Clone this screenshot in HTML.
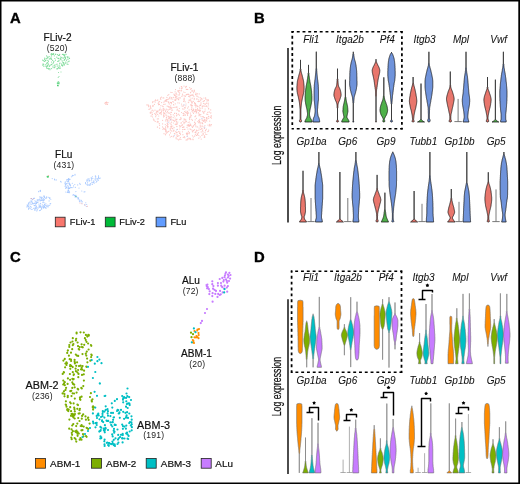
<!DOCTYPE html><html><head><meta charset="utf-8"><style>html,body{margin:0;padding:0;background:#fff;}svg{display:block;font-family:"Liberation Sans", sans-serif;will-change:transform;}</style></head><body>
<svg width="520" height="484" viewBox="0 0 520 484">
<rect x="0" y="0" width="520" height="484" fill="#fff"/>
<text transform="translate(10.00,22.70) scale(0.97,1)" font-size="15.3" font-weight="bold" fill="#000" stroke="#000" stroke-width="0.35">A</text>
<text transform="translate(254.00,22.70) scale(0.97,1)" font-size="15.3" font-weight="bold" fill="#000" stroke="#000" stroke-width="0.35">B</text>
<text transform="translate(10.00,262.00) scale(0.97,1)" font-size="15.3" font-weight="bold" fill="#000" stroke="#000" stroke-width="0.35">C</text>
<text transform="translate(254.00,262.00) scale(0.97,1)" font-size="15.3" font-weight="bold" fill="#000" stroke="#000" stroke-width="0.35">D</text>
<path d="M187.3 134.7h0M197.2 96.6h0M166.1 133.3h0M198.5 110.3h0M166.3 99.6h0M163.1 109.0h0M179.4 115.2h0M187.1 139.9h0M186.5 86.3h0M176.9 135.8h0M187.6 113.0h0M178.9 97.8h0M191.7 95.2h0M164.0 133.7h0M179.8 131.8h0M188.3 125.9h0M152.5 114.5h0M179.7 133.2h0M170.1 117.7h0M150.4 105.8h0M199.8 105.3h0M210.4 117.3h0M186.0 120.0h0M190.7 92.3h0M175.3 97.4h0M190.4 100.8h0M203.6 121.3h0M183.7 92.0h0M182.6 94.0h0M204.2 120.2h0M183.7 105.1h0M173.3 97.4h0M177.0 114.9h0M167.5 126.4h0M148.1 104.9h0M209.7 121.1h0M174.5 113.5h0M203.5 103.3h0M185.0 122.6h0M169.7 113.2h0M196.5 135.4h0M173.9 130.0h0M198.3 112.9h0M193.9 96.6h0M159.5 104.4h0M158.2 103.4h0M208.4 116.3h0M168.7 99.2h0M208.7 109.0h0M210.5 113.0h0M180.5 134.6h0M195.0 116.7h0M174.4 133.6h0M173.4 136.1h0M151.0 108.2h0M180.4 137.7h0M162.9 129.5h0M190.7 124.5h0M187.6 138.9h0M168.2 106.4h0M185.9 111.0h0M185.3 121.2h0M176.9 119.4h0M188.0 94.2h0M150.5 107.1h0M196.4 130.0h0M194.2 90.2h0M206.1 129.3h0M203.8 113.5h0M163.0 97.9h0M158.7 116.0h0M157.3 122.2h0M207.8 114.3h0M199.5 121.1h0M186.4 94.6h0M184.0 86.1h0M198.8 138.2h0M168.6 101.8h0M153.9 119.3h0M198.6 101.6h0M202.8 129.0h0M184.0 120.0h0M186.3 89.3h0M189.7 119.6h0M200.3 129.4h0M167.9 124.7h0M203.1 134.4h0M189.0 96.0h0M183.3 137.4h0M171.3 98.1h0M176.3 121.1h0M153.1 105.4h0M155.2 121.4h0M200.7 105.2h0M170.8 114.4h0M160.5 97.8h0M168.0 109.7h0M184.3 100.8h0M205.7 99.1h0M166.5 131.0h0M187.0 94.4h0M174.9 133.9h0M171.0 124.1h0M197.2 130.6h0M190.5 104.8h0M150.7 113.2h0M196.0 94.6h0M163.9 114.2h0M195.4 134.6h0M198.7 120.3h0M207.8 131.6h0M197.2 106.2h0M188.4 94.3h0M196.1 126.8h0M193.6 109.0h0M171.2 107.6h0M181.9 105.8h0M182.3 124.7h0M171.4 130.9h0M206.5 105.8h0M193.0 130.6h0M184.0 109.1h0M195.5 94.6h0M167.0 101.5h0M193.5 109.6h0M204.5 135.8h0M162.6 106.1h0M202.7 111.3h0M158.5 121.8h0M163.9 113.7h0M165.0 113.1h0M187.5 114.2h0M172.3 128.6h0M160.1 112.5h0M179.0 135.7h0M185.7 87.6h0M161.9 110.2h0M204.0 126.9h0M200.6 127.0h0M192.7 132.0h0M191.0 125.5h0M195.9 93.2h0M206.5 117.6h0M156.6 113.0h0M184.1 129.4h0M164.9 129.3h0M192.4 120.3h0M208.6 108.4h0M173.6 123.0h0M201.0 102.8h0M190.2 95.7h0M182.5 127.4h0M177.1 107.0h0M193.5 113.5h0M183.3 115.4h0M176.1 119.6h0M182.5 88.0h0M185.2 96.4h0M159.4 109.6h0M195.5 123.9h0M182.6 129.6h0M176.9 119.0h0M200.0 122.2h0M188.4 106.8h0M183.0 106.3h0M195.1 105.4h0M177.0 126.6h0M179.4 103.0h0M200.5 105.4h0M201.7 128.3h0M175.7 124.2h0M148.7 105.9h0M202.7 116.7h0M182.9 121.5h0M190.8 116.9h0M174.0 94.2h0M165.6 100.4h0M169.5 109.2h0M170.8 116.8h0M171.1 98.9h0M204.3 111.8h0M203.1 101.5h0M178.8 95.0h0M173.9 130.8h0M200.5 110.7h0M196.6 109.8h0M170.9 114.8h0M159.6 101.7h0M192.6 127.5h0M199.9 109.0h0M162.6 120.3h0M171.1 119.9h0M163.4 110.8h0M180.8 119.6h0M165.4 101.2h0M174.1 127.6h0M192.8 94.9h0M155.4 102.0h0M196.7 111.5h0M206.8 121.0h0M187.0 127.3h0M195.5 103.3h0M163.3 108.6h0M178.4 91.8h0M175.3 120.1h0M157.8 99.9h0M176.4 93.0h0M164.1 128.7h0M158.5 118.8h0M173.0 107.5h0M206.8 134.5h0M189.8 117.8h0M196.9 95.9h0M154.0 101.7h0M186.5 121.6h0M190.8 116.1h0M208.7 118.3h0M168.4 112.9h0M191.8 107.7h0M202.1 126.6h0M166.3 109.2h0M207.1 99.6h0M205.2 122.4h0M202.2 106.7h0M198.7 122.7h0M160.4 99.0h0M192.4 91.1h0M182.4 131.8h0M196.4 118.3h0M166.9 119.5h0M176.2 132.7h0M165.6 126.8h0M188.0 125.8h0M171.2 124.9h0M192.1 105.8h0M193.1 95.4h0M194.2 99.6h0M177.1 132.6h0M175.8 100.1h0M160.8 99.2h0M176.9 96.0h0M194.7 136.1h0M164.3 116.2h0M179.6 88.1h0M177.5 129.4h0M203.0 133.0h0M170.6 126.9h0M199.6 110.4h0M176.1 138.7h0M172.1 92.5h0M151.8 116.0h0M208.8 116.7h0M188.8 102.1h0M183.8 126.5h0M185.0 129.3h0M182.4 95.0h0M184.6 111.6h0M157.3 118.9h0M182.1 125.4h0M172.8 99.1h0M170.8 114.5h0M191.3 115.5h0M201.9 135.4h0M159.1 110.4h0M157.7 111.4h0M180.7 126.1h0M175.1 91.8h0M199.3 101.4h0M176.3 121.3h0M179.7 93.2h0M155.6 99.9h0M155.0 110.2h0M169.8 117.1h0M168.1 126.6h0M163.2 106.7h0M195.8 106.9h0M204.4 135.9h0M166.8 125.5h0M175.1 118.0h0M193.0 110.8h0M191.9 91.1h0M152.6 102.6h0M206.5 118.5h0M150.9 116.0h0M176.5 115.8h0M194.6 122.3h0M199.6 107.1h0M197.6 134.4h0M176.1 137.3h0M208.3 104.9h0M207.9 106.8h0M171.0 126.7h0M177.3 109.2h0M171.7 108.3h0M195.7 115.8h0M190.4 129.3h0M161.5 97.1h0M164.6 101.0h0M196.2 105.0h0M167.6 119.9h0M192.0 126.7h0M165.9 119.9h0M148.7 106.7h0M184.2 98.2h0M169.2 118.4h0M185.0 92.5h0M186.0 140.0h0M180.5 117.9h0M192.4 102.8h0M174.9 95.4h0M205.1 119.9h0M152.6 101.8h0M187.8 89.5h0M168.4 102.7h0M190.7 114.8h0M186.8 89.5h0M163.5 116.9h0M208.7 130.1h0M188.3 113.2h0M191.8 129.8h0M197.9 109.5h0M172.8 101.5h0M175.4 95.1h0M193.0 112.3h0M203.2 134.6h0M167.2 99.7h0M207.8 112.4h0M211.2 116.6h0M150.1 112.8h0M179.4 108.5h0M173.1 131.1h0M187.2 125.2h0M184.1 95.7h0M192.1 94.8h0M177.3 139.1h0M181.7 87.0h0M174.5 121.2h0M171.4 112.4h0M165.8 121.0h0M209.2 111.8h0M176.9 132.5h0M165.4 129.3h0M165.3 124.6h0M168.3 118.0h0M199.2 114.5h0M171.3 103.7h0M187.2 89.3h0M190.2 138.4h0M199.2 93.9h0M203.2 133.6h0M187.1 113.4h0M159.6 113.3h0M184.6 107.7h0M174.5 95.5h0M189.9 100.2h0M172.6 110.1h0M205.6 97.8h0M193.4 101.3h0M204.9 106.1h0M179.5 133.5h0M190.4 89.2h0M152.1 110.6h0M185.2 101.8h0M199.0 115.7h0M155.5 114.5h0M187.6 108.1h0M202.9 105.9h0M179.9 90.3h0M183.3 127.3h0M194.3 98.4h0M211.3 124.6h0M174.2 107.3h0M197.4 93.8h0M188.3 124.6h0M180.2 133.3h0M177.1 110.2h0M167.2 123.2h0M173.2 136.8h0M211.4 118.1h0M151.3 112.0h0M158.6 104.7h0M166.4 117.9h0M200.2 136.9h0M168.0 116.1h0M146.9 104.9h0M203.3 120.8h0M165.7 127.9h0M165.4 134.5h0M195.5 109.3h0M156.1 112.9h0M165.9 114.9h0M195.1 132.4h0M210.7 109.9h0M203.5 116.8h0M204.5 128.4h0M193.2 95.0h0M163.9 102.2h0M185.1 119.4h0M159.1 104.3h0M199.9 115.0h0M179.9 126.9h0M189.3 100.2h0M152.2 110.0h0M204.0 117.7h0M150.0 108.8h0M171.6 116.8h0M184.8 137.7h0M168.6 106.9h0M186.6 134.1h0M192.6 110.5h0M199.7 111.3h0M165.9 131.8h0M186.3 112.7h0M203.8 101.0h0M177.8 90.9h0M179.1 97.8h0M173.1 120.1h0M206.3 129.2h0M157.0 110.9h0M178.6 139.9h0M152.2 112.8h0M206.2 106.4h0M163.6 115.3h0M165.6 134.8h0M204.9 136.9h0M192.4 135.8h0M209.7 124.4h0M202.9 131.5h0M194.0 91.6h0M183.1 113.4h0M208.4 99.9h0M170.3 102.4h0M204.6 117.7h0M190.4 125.4h0M179.4 125.6h0M189.4 118.8h0M181.3 86.6h0M173.3 114.8h0M193.4 137.0h0M194.6 103.5h0M197.1 93.8h0M176.5 113.4h0M186.6 139.9h0M191.4 106.0h0M193.2 110.3h0M173.5 104.5h0M178.7 99.7h0M175.2 100.4h0M201.2 131.9h0M169.0 118.9h0M205.4 104.2h0M182.7 108.9h0M189.0 138.2h0M190.0 128.9h0M188.0 133.1h0M167.8 123.9h0M163.7 112.6h0M191.0 95.2h0M199.3 121.5h0M167.5 121.1h0M184.1 118.8h0M175.7 96.6h0M193.9 110.1h0M195.2 104.4h0M152.2 114.6h0M187.2 136.1h0M196.9 98.6h0M192.0 105.3h0M167.5 111.5h0M181.1 123.2h0M188.2 122.3h0M171.6 122.2h0M169.1 118.2h0M176.5 115.7h0M160.9 105.7h0M204.8 103.9h0M153.4 119.0h0M154.5 104.3h0M178.8 90.5h0M167.3 99.4h0M193.1 139.7h0M170.2 128.6h0M155.7 116.7h0M174.8 100.1h0M200.2 126.1h0M155.2 100.4h0M186.4 133.2h0M210.8 125.8h0M188.6 96.3h0M170.7 119.2h0M207.0 100.9h0M192.0 109.0h0M198.6 97.0h0M189.6 122.0h0M176.8 94.5h0M172.8 126.0h0M176.7 97.1h0M198.8 130.1h0M208.2 131.4h0M188.8 94.4h0M200.2 125.1h0M195.3 123.3h0M200.7 100.7h0M190.4 113.1h0M168.6 102.3h0M156.7 111.7h0M170.6 107.7h0M202.1 122.4h0M190.9 139.6h0M160.7 112.6h0M152.5 106.1h0M196.0 132.9h0M179.7 129.0h0M175.3 103.8h0M179.5 94.8h0M166.6 101.1h0M202.2 120.5h0M174.4 95.0h0M169.3 106.9h0M206.8 114.2h0M211.2 124.7h0M156.1 115.2h0M208.1 103.0h0M189.1 109.9h0M163.3 128.1h0M178.4 114.2h0M176.4 122.1h0M151.0 111.9h0M209.2 126.0h0M202.2 123.4h0M167.1 106.0h0M175.3 100.4h0M174.0 127.5h0M177.8 122.1h0M188.7 124.9h0M166.7 99.8h0M165.9 129.3h0M206.9 117.5h0M169.3 103.9h0M187.9 132.8h0M168.8 94.6h0M202.1 119.2h0M170.4 128.9h0M189.7 87.6h0M172.7 120.0h0M191.4 109.4h0M177.0 124.5h0M181.4 88.4h0M173.6 102.0h0M170.2 130.1h0M199.2 114.1h0M175.2 99.0h0M181.9 96.4h0M202.6 130.5h0M204.5 100.7h0M189.4 132.5h0M198.6 132.7h0M178.4 131.6h0M176.6 98.8h0M177.9 102.8h0M196.6 131.0h0M171.6 110.1h0M209.6 125.2h0M190.7 99.1h0M200.9 99.5h0M167.6 124.8h0M205.0 132.3h0M187.6 115.5h0M196.2 112.9h0M171.3 102.6h0M150.5 106.8h0M175.8 100.1h0M171.6 102.6h0M171.1 118.9h0M179.0 95.0h0M198.4 112.9h0M176.4 124.2h0M195.6 131.9h0M199.5 121.7h0M193.6 92.7h0M192.2 98.2h0M189.4 126.2h0M188.4 131.3h0M164.0 110.0h0M157.7 114.4h0M169.0 120.9h0M181.2 122.7h0M162.6 123.9h0M194.5 124.7h0M184.2 99.2h0M174.8 113.1h0M180.3 97.9h0M163.8 104.4h0M197.5 108.6h0M149.0 109.4h0M181.6 104.1h0M173.8 105.0h0M157.4 121.3h0M197.6 126.9h0M161.5 113.0h0M192.4 105.7h0M175.8 131.5h0M173.7 120.6h0M159.3 123.7h0M159.6 125.3h0M201.3 98.3h0M152.6 117.0h0M179.1 111.0h0M197.5 110.1h0M179.0 111.4h0M176.2 106.8h0M157.0 100.5h0M163.8 97.9h0M159.9 113.6h0M166.9 97.4h0M170.9 112.3h0M190.5 138.9h0M202.2 108.2h0M176.0 107.4h0M189.7 117.2h0M173.2 117.6h0M153.2 106.1h0M204.3 137.4h0M205.5 130.7h0M167.8 95.3h0M191.4 104.8h0M201.5 129.0h0M167.8 131.8h0M207.2 118.9h0M169.5 134.9h0M208.1 103.5h0M189.9 97.0h0M183.5 101.3h0M206.5 103.2h0M160.8 109.8h0M165.8 130.4h0M185.2 115.3h0M191.8 101.2h0M171.6 97.5h0M205.6 134.1h0M170.0 123.1h0M178.5 99.7h0M168.8 116.6h0M208.2 100.7h0M194.4 129.5h0M201.2 139.1h0M192.9 139.2h0M164.7 113.4h0M175.2 124.6h0M165.6 131.0h0M204.9 125.6h0M168.2 110.0h0M201.0 104.1h0M199.1 128.1h0M177.1 134.6h0M171.6 126.3h0M188.3 102.6h0M181.2 118.2h0M181.6 90.1h0M181.2 90.9h0M200.1 108.3h0M193.1 130.7h0M181.6 86.6h0M200.2 123.2h0M205.9 99.1h0M197.8 133.3h0M169.7 107.1h0M161.6 102.6h0M174.4 116.0h0M165.1 104.2h0M195.7 110.4h0M185.5 107.8h0M182.9 134.7h0M164.0 113.2h0M191.4 88.7h0M209.3 112.1h0M162.5 126.9h0M199.8 119.6h0M181.0 125.9h0M206.4 120.2h0M185.8 105.8h0M183.8 115.3h0M205.6 130.7h0M194.6 136.2h0M176.8 126.4h0M165.8 110.3h0M165.5 111.5h0M202.1 99.1h0M200.2 97.7h0M166.3 115.2h0M189.2 133.7h0M203.9 98.0h0M195.2 119.8h0M171.7 127.8h0M205.1 111.0h0M157.4 127.1h0M166.5 117.0h0M179.0 92.1h0M195.8 125.8h0M198.8 135.5h0M203.3 112.3h0M170.5 109.0h0M158.0 111.9h0M177.2 123.3h0M189.0 139.1h0M204.3 119.7h0M205.1 109.0h0M198.7 99.9h0M180.9 139.4h0M185.6 112.5h0M197.9 101.5h0M184.0 123.7h0M197.0 105.5h0M161.6 111.7h0M208.0 125.1h0M183.3 113.4h0M191.8 119.3h0M159.6 128.2h0M187.9 129.0h0M171.5 136.3h0M185.3 114.8h0M199.9 119.3h0M190.5 92.7h0M186.0 104.0h0M177.8 98.7h0M166.9 112.7h0M172.8 128.6h0M211.2 115.5h0M170.0 97.1h0M158.4 102.1h0M197.8 121.6h0M194.5 122.0h0M167.0 132.6h0M160.2 108.0h0M154.0 120.4h0M196.5 112.2h0M189.7 125.4h0M186.1 95.0h0M192.1 90.4h0M164.1 109.2h0M189.1 125.9h0M170.7 105.9h0M160.1 113.4h0M184.4 136.7h0M193.9 130.6h0M189.0 100.2h0M187.2 133.5h0M153.5 111.0h0M195.2 123.0h0M154.7 113.6h0M191.5 102.8h0M179.4 139.1h0M188.0 112.3h0M202.1 125.9h0M201.0 116.6h0M184.1 113.9h0M194.5 102.5h0M178.9 110.4h0M189.7 96.1h0M193.3 126.3h0M175.5 89.6h0M176.9 132.7h0M179.7 119.6h0M170.9 92.3h0M187.4 111.3h0M169.1 98.5h0M191.9 101.8h0M184.1 98.5h0M195.7 105.1h0M177.7 136.4h0M193.4 125.6h0M168.7 131.4h0M205.0 121.2h0M200.8 114.6h0M194.4 90.9h0M184.0 127.0h0M195.6 111.3h0M197.0 135.3h0M170.3 137.0h0M202.7 123.7h0M192.4 131.5h0M181.5 112.5h0M170.5 132.9h0M196.9 99.4h0M183.9 99.7h0M167.7 127.7h0M185.9 86.6h0M157.6 127.1h0M175.9 93.5h0M177.9 136.1h0M203.8 106.0h0M210.9 112.8h0M161.2 114.6h0M192.0 111.1h0M169.5 97.8h0M198.0 106.7h0M185.4 96.3h0M190.1 123.9h0M194.5 111.7h0M183.9 122.5h0" stroke="#f8766d" stroke-opacity="0.42" stroke-width="1.20" stroke-linecap="round" fill="none"/>
<path d="M204.8 127.3h0M168.2 122.4h0M170.6 119.9h0M174.3 135.7h0M176.4 129.9h0M184.1 104.9h0M201.9 118.4h0M187.1 136.4h0" stroke="#619cff" stroke-opacity="0.50" stroke-width="1.00" stroke-linecap="round" fill="none"/>
<path d="M105.3 102.9h0M104.9 103.2h0M108.0 102.6h0M105.9 104.3h0M107.9 102.5h0M107.3 104.4h0M106.0 102.4h0M106.6 103.1h0M107.5 104.3h0M106.6 102.0h0" stroke="#f8766d" stroke-opacity="0.45" stroke-width="1.20" stroke-linecap="round" fill="none"/>
<path d="M54.1 65.3h0M50.0 69.7h0M51.6 59.5h0M48.0 57.6h0M60.8 59.6h0M62.1 60.8h0M51.6 55.8h0M48.5 68.9h0M54.8 58.5h0M48.2 68.4h0M61.6 65.2h0M64.4 57.2h0M62.4 54.3h0M60.6 58.7h0M60.5 57.0h0M52.0 64.8h0M68.1 59.0h0M63.6 55.0h0M53.5 62.2h0M43.9 61.0h0M63.7 62.6h0M58.0 58.4h0M46.6 55.9h0M59.9 66.6h0M50.1 58.9h0M47.6 62.6h0M54.3 55.8h0M63.4 58.1h0M53.0 63.3h0M67.5 57.3h0M53.8 54.1h0M64.5 64.9h0M55.4 60.2h0M49.5 66.5h0M55.7 54.2h0M44.9 58.4h0M47.3 65.7h0M59.1 60.0h0M63.8 64.2h0M48.4 61.6h0M61.8 63.9h0M57.2 66.0h0M43.1 63.9h0M54.2 67.7h0M52.7 60.4h0M57.3 69.0h0M58.8 58.4h0M60.5 58.8h0M57.5 54.7h0M57.8 61.4h0M60.0 63.0h0M58.0 66.0h0M45.9 66.2h0M59.4 65.1h0M53.2 54.5h0M69.1 61.1h0M57.4 68.8h0M64.7 54.8h0M45.9 60.2h0M56.9 64.5h0M57.8 68.4h0M64.3 54.8h0M51.6 68.6h0M59.5 55.2h0M65.9 54.1h0M60.0 68.1h0M49.9 65.4h0M49.2 56.6h0M51.4 58.2h0M68.8 57.1h0M53.9 61.6h0M59.1 68.1h0M45.8 64.6h0M47.0 68.3h0M58.6 55.4h0M65.7 62.2h0M55.6 54.4h0M67.2 62.0h0M66.1 54.3h0M61.0 59.6h0M57.0 64.0h0M46.8 68.1h0M50.5 58.0h0M63.5 62.9h0M52.9 66.9h0M68.0 64.3h0M60.2 68.2h0M64.9 56.1h0M51.5 62.0h0M45.3 60.5h0M52.0 54.5h0M58.8 60.9h0M46.6 66.9h0M53.5 53.5h0M66.5 60.2h0M44.7 58.1h0M51.3 56.0h0M48.1 64.9h0M47.1 58.2h0M46.8 63.5h0M55.2 66.8h0M64.0 64.2h0M64.4 59.7h0M62.8 62.2h0M62.6 66.0h0M43.2 60.5h0M58.5 67.5h0M43.8 64.8h0M51.7 53.7h0M51.4 64.3h0M51.3 54.1h0M67.2 56.5h0M65.2 58.9h0M50.2 65.1h0M67.9 59.2h0M64.1 60.5h0M44.8 61.4h0M42.7 60.1h0M49.3 58.9h0M61.7 57.3h0M62.9 65.3h0M56.8 57.2h0M47.9 60.4h0M49.8 68.6h0M55.1 64.9h0M67.0 63.9h0M46.6 58.6h0M48.3 63.9h0M62.4 65.4h0M52.5 54.1h0M59.7 54.3h0M64.2 55.3h0M46.8 63.2h0M42.7 65.1h0M65.5 58.2h0M43.9 66.3h0M56.8 68.8h0M59.7 63.5h0M47.8 56.9h0M54.3 67.0h0M62.1 57.9h0M47.7 66.2h0M52.1 54.2h0M51.0 54.2h0M69.5 58.4h0M65.6 57.3h0M68.7 61.6h0M65.2 63.5h0M63.3 54.3h0M44.6 59.3h0" stroke="#00ba38" stroke-opacity="0.50" stroke-width="1.20" stroke-linecap="round" fill="none"/>
<path d="M58.5 72.5h0M61.0 72.0h0M59.0 76.5h0M58.2 77.5h0" stroke="#00ba38" stroke-opacity="0.50" stroke-width="1.00" stroke-linecap="round" fill="none"/>
<path d="M58.4 83.6h0M59.2 82.3h0M58.3 83.3h0M58.6 83.7h0M58.0 82.4h0M59.2 83.8h0M58.4 81.8h0M58.1 81.7h0M58.0 83.3h0M57.6 82.9h0M57.2 83.1h0M59.1 83.6h0M59.2 83.7h0M57.8 83.9h0" stroke="#00ba38" stroke-opacity="0.60" stroke-width="1.10" stroke-linecap="round" fill="none"/>
<path d="M58.0 86.1h0M58.0 85.7h0M58.1 85.5h0M57.7 85.5h0M57.8 85.5h0" stroke="#00ba38" stroke-opacity="0.50" stroke-width="1.00" stroke-linecap="round" fill="none"/>
<path d="M32.2 209.2h0M41.0 198.8h0M43.6 205.9h0M40.6 203.4h0M45.8 207.5h0M41.1 197.1h0M36.2 206.0h0M29.0 205.0h0M41.6 208.0h0M33.8 198.5h0M34.4 203.0h0M43.4 207.6h0M39.8 196.9h0M29.5 207.9h0M43.4 198.2h0M28.6 209.3h0M38.0 201.0h0M44.6 206.6h0M45.9 203.3h0M32.1 203.9h0M28.4 206.9h0M44.3 199.9h0M33.6 208.2h0M35.8 201.5h0M39.8 205.6h0M46.4 206.3h0M49.1 200.9h0M38.1 199.7h0M37.1 202.5h0M45.7 208.3h0M39.8 206.4h0M37.9 200.9h0M38.8 206.0h0M27.3 206.1h0M27.9 205.8h0M48.0 207.0h0M28.7 202.7h0M30.7 206.4h0M44.3 207.6h0M34.9 205.4h0M40.4 207.3h0M46.7 196.8h0M44.2 202.8h0M35.8 203.6h0M34.8 209.6h0M43.3 202.1h0M28.7 204.0h0M37.9 202.4h0M39.7 207.4h0M44.5 206.6h0M43.4 196.1h0M31.3 201.3h0M32.3 202.1h0M36.1 201.4h0M32.7 203.1h0M49.7 205.5h0M44.0 207.1h0M28.4 204.0h0M49.9 198.0h0M45.9 205.5h0M44.9 204.8h0M34.9 208.4h0M30.0 201.7h0M36.5 206.7h0M45.7 205.0h0M41.6 200.4h0M41.2 209.3h0M37.1 207.9h0M39.0 204.1h0M41.6 198.2h0M31.2 198.8h0M39.7 206.6h0M44.2 199.3h0M34.3 198.3h0M42.8 202.6h0M32.7 199.6h0M50.7 203.6h0M31.2 207.3h0M49.7 198.6h0M48.3 205.3h0M36.8 210.9h0M30.3 203.0h0M37.2 199.9h0M38.3 207.9h0M28.4 203.6h0M39.4 199.1h0M42.5 200.0h0M40.6 205.0h0M50.0 203.9h0M32.5 199.8h0M46.3 208.0h0M40.5 210.2h0M42.9 206.0h0M47.7 206.3h0M36.0 207.9h0M33.4 203.7h0M41.7 199.8h0M45.6 207.6h0M40.9 206.4h0M44.5 204.4h0M43.0 199.5h0M39.7 205.9h0M40.6 200.1h0M28.9 206.3h0M28.5 208.5h0M30.3 208.2h0M34.9 210.2h0M31.5 198.5h0M43.4 208.2h0M34.8 203.5h0M43.0 200.7h0M35.8 204.9h0M33.5 198.3h0M49.6 197.9h0M37.3 209.6h0M27.2 204.9h0M34.9 200.8h0M48.3 197.2h0M43.5 200.5h0M39.5 210.6h0M46.6 197.6h0M33.6 203.7h0M44.5 196.1h0M50.8 199.2h0M31.2 209.2h0M39.1 199.9h0M43.4 207.6h0M34.9 210.5h0M39.0 204.2h0M36.0 202.4h0M35.0 209.0h0M37.2 199.7h0M37.0 210.6h0M42.4 197.7h0M36.6 203.4h0M49.8 197.6h0M40.1 200.9h0M31.1 200.3h0M26.9 206.9h0M35.2 207.1h0M47.1 205.0h0M34.6 198.2h0M42.8 206.7h0M46.2 198.2h0M41.6 197.5h0M44.3 196.9h0M42.3 204.8h0M44.5 197.5h0M41.8 207.4h0M43.0 199.3h0M48.1 206.2h0M31.4 202.0h0M29.3 202.8h0M36.0 208.7h0M45.3 198.1h0M41.7 208.9h0M40.4 197.3h0M31.0 204.5h0M44.0 205.4h0M34.1 205.6h0M95.8 176.5h0M92.9 178.6h0M91.5 179.3h0M85.5 182.6h0M89.8 180.2h0M91.3 178.3h0M90.4 185.0h0M93.9 181.4h0M89.1 178.9h0M89.0 180.9h0M98.5 177.5h0M87.3 184.9h0M87.3 184.9h0M98.4 180.3h0M98.1 178.2h0M97.0 180.8h0M89.5 181.0h0M94.9 179.0h0M98.5 180.1h0M93.8 180.7h0M88.0 178.9h0M92.1 182.4h0M99.2 178.4h0M95.7 177.2h0M97.1 181.0h0M86.9 184.5h0M91.7 178.6h0M92.4 176.8h0M98.6 176.7h0M86.9 181.3h0M97.0 181.0h0M97.2 179.6h0M86.5 180.0h0M87.6 182.2h0M93.3 182.2h0M96.5 181.3h0M89.4 185.2h0M92.3 184.5h0M89.9 184.2h0M90.4 183.6h0M91.2 177.5h0M87.2 183.7h0M95.3 176.1h0M85.4 183.7h0M92.2 184.1h0M98.5 175.8h0M87.8 179.9h0M95.4 175.7h0M94.5 183.0h0M95.9 178.6h0M87.5 180.3h0M88.7 184.9h0M93.5 182.8h0M95.4 180.1h0M97.2 178.8h0M96.1 182.3h0M91.9 182.6h0M91.7 180.8h0M87.6 185.1h0M100.2 178.1h0M72.3 183.2h0M70.6 185.7h0M80.2 184.4h0M84.1 191.9h0M79.8 183.4h0M72.9 187.6h0M85.0 191.8h0M81.8 191.0h0M71.6 187.6h0M77.7 184.9h0M79.0 188.1h0M85.5 183.6h0M74.8 184.5h0M73.6 185.9h0M75.9 191.6h0M75.3 187.4h0M69.8 188.5h0M67.6 191.0h0M69.8 187.9h0M66.7 187.1h0M65.0 183.4h0M68.2 190.8h0M66.6 179.9h0M65.1 183.3h0M68.6 188.9h0M69.0 191.2h0M68.9 188.4h0M68.4 188.3h0M69.2 192.7h0M65.7 188.0h0M65.3 181.9h0M70.5 184.7h0M68.2 182.0h0M68.3 192.4h0M69.0 188.3h0M68.1 183.5h0M69.5 184.4h0M66.7 186.7h0M68.9 180.8h0M69.8 184.9h0M68.6 186.9h0M69.6 179.4h0M65.1 182.9h0M65.8 188.5h0M67.9 179.9h0M69.7 183.6h0M66.5 187.4h0M66.0 184.2h0M69.6 192.1h0M66.5 183.5h0M69.4 188.5h0M69.4 184.5h0M67.3 192.2h0M67.9 188.7h0M68.7 190.4h0M67.9 183.6h0M65.2 184.8h0M65.8 192.0h0M69.5 183.0h0M67.8 185.6h0M68.4 192.3h0M66.3 187.6h0M67.8 192.4h0M65.9 188.1h0M65.1 186.6h0M68.0 187.1h0M70.6 187.2h0M65.9 185.0h0M69.4 184.6h0M65.6 184.4h0M65.3 186.1h0M70.1 179.3h0M67.5 181.7h0M72.6 175.9h0M68.4 180.1h0M68.4 178.7h0M73.3 175.5h0M68.7 178.5h0M68.8 179.2h0M68.4 181.4h0M67.0 181.3h0M71.4 176.8h0M67.8 179.5h0M75.0 175.1h0M68.2 179.5h0M68.8 178.6h0M67.7 179.5h0M75.0 174.3h0M72.3 175.3h0M81.2 201.3h0M75.2 196.2h0M80.9 200.9h0M78.1 199.1h0M77.8 197.9h0M85.8 202.7h0M74.2 195.4h0M79.6 201.6h0M78.6 197.9h0M75.1 195.3h0M78.4 198.9h0M84.8 205.0h0M76.1 196.8h0M81.8 203.0h0M76.9 197.1h0M81.3 200.4h0M79.3 200.8h0M73.7 194.5h0M84.8 204.5h0M78.3 198.9h0M75.1 197.1h0M75.3 196.2h0M86.3 206.5h0M86.7 204.5h0M79.8 199.8h0M76.0 195.4h0M82.4 201.7h0M72.9 195.1h0M54.5 179.5h0M60.9 181.5h0M54.5 179.0h0M52.2 178.6h0M60.6 181.3h0M56.3 179.9h0M54.9 179.9h0M61.1 182.1h0M40.5 191.5h0M40.1 190.5h0M40.5 190.4h0M38.7 191.7h0M38.6 191.5h0M38.9 191.3h0" stroke="#619cff" stroke-opacity="0.55" stroke-width="1.10" stroke-linecap="round" fill="none"/>
<path d="M31.0 198.5h0M33.0 199.0h0M80.0 203.0h0M82.0 203.8h0M85.0 205.0h0M87.3 206.2h0M48.5 175.5h0" stroke="#f8766d" stroke-opacity="0.60" stroke-width="1.10" stroke-linecap="round" fill="none"/>
<path d="M47.3 177.0h0M47.1 176.3h0M48.5 177.0h0M48.5 176.5h0M47.7 176.2h0M47.6 177.2h0M47.6 177.2h0M47.7 176.6h0M76.0 196.5h0" stroke="#00ba38" stroke-opacity="0.70" stroke-width="1.10" stroke-linecap="round" fill="none"/>
<text x="57.50" y="41.00" font-size="10.10" text-anchor="middle" font-weight="normal" font-style="normal" fill="#111" stroke="#111" stroke-width="0.20" >FLiv-2</text>
<text x="57.18" y="51.20" font-size="8.60" text-anchor="middle" letter-spacing="0.15" fill="#222">(520)</text>
<text x="184.40" y="70.90" font-size="10.10" text-anchor="middle" font-weight="normal" font-style="normal" fill="#111" stroke="#111" stroke-width="0.20" >FLiv-1</text>
<text x="184.97" y="81.00" font-size="8.60" text-anchor="middle" letter-spacing="0.15" fill="#222">(888)</text>
<text x="63.70" y="158.30" font-size="10.10" text-anchor="middle" font-weight="normal" font-style="normal" fill="#111" stroke="#111" stroke-width="0.20" >FLu</text>
<text x="63.98" y="167.80" font-size="8.60" text-anchor="middle" letter-spacing="0.15" fill="#222">(431)</text>
<rect x="55.30" y="217.2" width="9.8" height="9.6" fill="#f8766d" stroke="#222" stroke-width="0.8"/>
<text x="69.80" y="225.40" font-size="9.20" text-anchor="start" font-weight="normal" font-style="normal" fill="#111" stroke="#111" stroke-width="0.20" >FLiv-1</text>
<rect x="105.30" y="217.2" width="9.8" height="9.6" fill="#00ba38" stroke="#222" stroke-width="0.8"/>
<text x="119.30" y="225.40" font-size="9.20" text-anchor="start" font-weight="normal" font-style="normal" fill="#111" stroke="#111" stroke-width="0.20" >FLiv-2</text>
<rect x="156.10" y="217.2" width="9.8" height="9.6" fill="#619cff" stroke="#222" stroke-width="0.8"/>
<text x="170.50" y="225.40" font-size="9.20" text-anchor="start" font-weight="normal" font-style="normal" fill="#111" stroke="#111" stroke-width="0.20" >FLu</text>
<path d="M72.5 416.1h0M84.2 344.8h0M86.5 341.8h0M71.7 439.2h0M81.9 426.1h0M90.3 360.7h0M65.9 401.3h0M81.6 425.1h0M71.0 415.8h0M70.1 366.2h0M82.0 374.9h0M69.2 428.7h0M88.6 349.5h0M72.3 387.9h0M64.0 372.5h0M85.5 416.4h0M66.5 365.0h0M70.2 407.2h0M65.5 389.9h0M83.5 436.3h0M80.7 426.0h0M78.2 355.9h0M74.8 398.6h0M78.2 418.0h0M78.5 373.9h0M77.7 388.9h0M79.5 410.2h0M75.0 414.0h0M77.4 372.3h0M69.4 419.6h0M68.7 409.5h0M77.4 433.7h0M76.2 426.1h0M80.5 332.3h0M69.3 345.0h0M74.1 393.5h0M76.6 333.4h0M66.5 406.7h0M78.6 413.6h0M74.6 359.9h0M86.3 355.6h0M63.8 372.2h0M75.8 354.6h0M91.1 357.1h0M65.7 404.6h0M66.4 362.4h0M74.6 361.8h0M81.9 347.0h0M81.6 344.3h0M79.7 439.7h0M86.0 436.1h0M78.7 349.0h0M73.3 417.3h0M66.0 404.9h0M71.8 432.9h0M72.7 367.1h0M70.3 391.2h0M64.5 396.3h0M80.1 397.4h0M71.1 361.0h0M66.9 363.2h0M77.6 432.2h0M83.9 380.6h0M88.0 417.9h0M87.3 336.6h0M80.1 399.3h0M70.2 365.0h0M91.3 354.5h0M79.9 397.8h0M73.7 379.0h0M67.7 397.2h0M82.5 430.1h0M70.6 391.2h0M64.5 394.1h0M71.3 390.8h0M84.9 338.2h0M88.7 335.7h0M76.9 355.6h0M63.2 384.5h0M87.1 358.6h0M72.8 338.2h0M88.1 343.5h0M75.9 340.4h0M66.1 387.8h0M67.4 410.2h0M67.8 350.6h0M88.2 417.7h0M63.3 380.6h0M69.9 374.0h0M73.6 375.1h0M70.8 403.3h0M83.2 414.4h0M81.4 430.3h0M79.0 366.1h0M79.2 349.6h0M77.6 435.8h0M80.5 365.7h0M85.9 334.9h0M74.9 362.7h0M72.5 341.5h0M74.3 415.4h0M78.0 346.1h0M86.6 427.8h0M75.9 371.2h0M73.4 344.0h0M71.5 396.1h0M77.3 408.8h0M67.6 383.9h0M83.8 374.3h0M64.0 383.3h0M88.9 335.1h0M81.3 387.9h0M72.9 431.2h0M64.8 385.2h0M71.3 437.6h0M85.8 353.7h0M88.6 419.9h0M74.2 384.7h0M79.5 421.0h0M79.7 347.1h0M91.7 355.2h0M67.9 378.4h0M81.5 439.7h0M76.5 430.7h0M73.0 383.9h0M62.7 373.9h0M72.8 345.2h0M87.4 362.3h0M78.2 389.4h0M74.6 438.0h0M73.5 384.0h0M83.0 434.2h0M88.2 428.9h0M86.6 436.8h0M87.6 428.6h0M85.8 340.1h0M76.2 338.8h0M78.8 433.6h0M82.8 347.3h0M88.3 334.9h0M65.1 367.3h0M68.3 411.1h0M76.3 441.6h0M71.6 429.4h0M83.8 332.5h0M71.1 411.2h0M74.5 409.2h0M76.2 365.8h0M70.1 379.8h0M73.7 414.8h0M85.9 419.7h0M73.3 424.1h0M67.5 409.1h0M78.0 405.1h0M77.4 404.6h0M64.8 382.2h0M79.9 408.8h0M86.8 351.6h0M72.2 349.2h0M80.0 399.2h0M77.6 342.5h0M86.3 366.5h0M70.1 402.3h0M81.8 418.7h0M72.4 378.8h0M69.7 359.2h0M74.7 418.5h0M77.3 423.6h0M65.4 363.5h0M63.9 391.4h0M82.5 354.1h0M69.3 346.9h0M81.8 388.4h0M80.4 399.8h0M71.5 414.1h0M75.7 439.3h0M76.6 332.7h0M89.6 423.6h0M81.7 367.6h0M77.1 362.3h0M72.3 382.4h0M74.9 363.5h0M71.3 365.9h0M67.8 395.9h0M64.8 358.9h0M67.2 409.6h0M70.5 342.5h0M86.5 366.9h0M72.6 393.3h0M82.1 415.9h0M78.3 377.2h0M67.9 350.4h0M74.8 411.4h0M83.3 386.1h0M76.6 392.6h0M72.6 413.9h0M74.7 387.3h0M82.2 369.6h0M70.3 368.8h0M81.6 396.7h0M83.7 426.6h0M62.6 393.4h0M74.2 407.7h0M78.1 370.0h0M75.6 368.7h0M73.6 403.4h0M72.2 425.5h0M73.0 379.5h0M75.2 431.3h0M80.4 438.1h0M73.9 374.4h0M81.0 369.3h0M67.2 352.9h0M75.9 432.1h0M79.7 413.3h0M91.3 345.8h0M84.1 370.7h0M82.6 366.0h0M90.9 345.0h0M71.0 359.7h0M72.8 372.2h0M68.9 355.7h0M72.1 434.8h0M71.0 352.7h0M63.4 360.6h0M92.8 407.0h0M94.0 407.3h0M90.9 393.2h0M93.1 406.4h0M90.0 397.0h0M92.8 407.4h0M92.8 406.7h0M92.5 399.3h0M91.8 401.2h0M91.7 400.3h0M93.1 409.6h0M91.9 401.6h0" stroke="#7cae00" stroke-opacity="1.00" stroke-width="2.20" stroke-linecap="round" fill="none"/>
<path d="M93.4 423.3h0M118.7 438.3h0M124.1 418.8h0M102.1 420.3h0M114.0 417.3h0M104.7 430.4h0M127.7 408.0h0M127.3 396.1h0M119.5 412.3h0M113.0 412.9h0M131.5 416.3h0M130.0 422.1h0M128.0 417.9h0M131.7 419.7h0M119.3 413.3h0M126.9 404.1h0M129.4 403.7h0M102.8 412.0h0M102.5 416.2h0M124.1 397.0h0M123.0 399.7h0M112.4 441.6h0M122.9 428.8h0M104.8 432.3h0M115.0 446.0h0M115.8 425.0h0M126.3 425.6h0M95.5 427.3h0M103.7 428.7h0M131.9 427.2h0M125.4 412.8h0M102.8 411.0h0M118.2 434.9h0M122.8 435.1h0M126.2 433.4h0M110.4 416.1h0M126.3 401.3h0M126.6 415.4h0M113.7 445.1h0M112.3 407.6h0M108.0 430.0h0M127.6 438.7h0M129.2 423.1h0M110.4 422.4h0M129.3 413.5h0M118.0 439.6h0M129.7 431.5h0M124.5 438.5h0M124.4 426.6h0M131.7 430.3h0M95.6 423.1h0M107.5 409.2h0M117.0 411.0h0M127.5 434.4h0M123.2 398.2h0M130.9 425.3h0M113.7 430.7h0M99.5 419.3h0M130.8 425.5h0M122.2 438.0h0M119.8 417.8h0M117.0 399.2h0M106.8 442.8h0M128.2 439.0h0M131.4 422.4h0M104.5 444.4h0M104.5 411.6h0M114.8 400.9h0M110.1 443.8h0M121.0 434.8h0M109.1 443.1h0M96.7 415.9h0M99.3 431.6h0M114.5 431.7h0M120.1 437.0h0M111.2 424.9h0M102.0 421.1h0M129.2 397.1h0M113.1 419.8h0M105.5 427.9h0M108.0 415.7h0M111.1 412.9h0M118.4 442.6h0M98.7 415.5h0M107.6 413.3h0M124.6 397.7h0M96.7 425.0h0M114.7 424.9h0M122.6 442.4h0M108.0 411.2h0M126.0 406.7h0M127.0 432.6h0M125.9 428.7h0M111.8 403.3h0M131.8 424.3h0M114.8 424.7h0M122.1 438.5h0M113.8 439.8h0M112.8 422.2h0M93.0 421.7h0M114.6 444.4h0M127.4 396.5h0M97.7 414.4h0M123.2 402.3h0M123.0 426.2h0M127.1 412.2h0M112.7 436.4h0M112.5 422.2h0M128.6 435.9h0M104.6 445.9h0M121.0 409.9h0M100.5 430.8h0M112.3 426.5h0M126.4 416.5h0M131.0 400.0h0M113.6 417.5h0M103.2 422.1h0M118.7 413.5h0M104.3 441.3h0M118.3 410.1h0M98.2 414.5h0M100.4 426.9h0M129.7 405.1h0M105.7 409.9h0M99.4 431.3h0M100.8 430.0h0M114.0 428.8h0M117.5 429.5h0M123.2 411.8h0M126.0 417.7h0M105.7 428.6h0M106.9 420.9h0M114.2 432.7h0M103.9 430.5h0M101.3 437.3h0M104.9 425.2h0M104.4 417.6h0M112.2 434.4h0M129.2 403.5h0M107.3 442.7h0M112.8 443.3h0M128.1 403.4h0M98.3 413.7h0M117.5 444.0h0M102.5 413.9h0M117.6 409.8h0M111.7 444.1h0M96.7 422.9h0M100.5 436.3h0M100.3 438.4h0M108.1 445.1h0M106.5 420.6h0M108.6 443.0h0M115.5 438.3h0M126.1 398.0h0M104.6 439.6h0M122.2 424.6h0M108.2 420.9h0M101.2 438.2h0M122.7 433.9h0M114.7 444.6h0M101.2 427.7h0M108.8 445.8h0M105.7 406.3h0M122.7 438.4h0M99.8 383.4h0M94.6 391.8h0M97.0 395.8h0M105.3 395.8h0M122.2 396.0h0M127.5 388.5h0M126.5 393.5h0M97.4 357.0h0M91.7 360.1h0M99.4 359.6h0M97.4 361.2h0M94.8 363.7h0M101.5 363.2h0M88.0 366.8h0M95.3 372.0h0M92.9 378.0h0M99.9 383.6h0M104.6 396.0h0M95.3 407.6h0M92.9 413.4h0M97.0 418.0h0M101.0 417.0h0M88.0 431.0h0M85.0 434.0h0M82.5 437.0h0M90.0 428.0h0" stroke="#00bfc4" stroke-opacity="1.00" stroke-width="2.20" stroke-linecap="round" fill="none"/>
<path d="M226.0 272.3h0M229.4 272.8h0M227.9 274.6h0M224.9 275.3h0M228.6 276.0h0M224.6 277.2h0M222.3 277.9h0M227.9 277.5h0M219.7 279.0h0M230.1 278.6h0M226.0 279.4h0M223.8 280.1h0M226.8 280.9h0M212.3 281.3h0M223.4 281.6h0M227.2 282.7h0M217.9 283.1h0M207.4 284.6h0M212.3 284.2h0M206.7 286.1h0M217.9 285.7h0M221.2 285.7h0M224.6 285.7h0M227.9 286.1h0M213.4 286.1h0M207.8 287.2h0M222.3 287.2h0M226.8 287.6h0M207.1 288.3h0M208.9 289.1h0M213.0 288.7h0M216.0 290.9h0M220.1 290.9h0M209.7 291.3h0M227.2 291.7h0M222.7 292.4h0M212.6 293.2h0M215.3 293.9h0M218.2 293.9h0M220.8 294.3h0M209.3 294.1h0M219.7 295.0h0M212.3 296.1h0M217.5 296.9h0M214.5 289.8h0M224.2 288.7h0M212.6 301.7h0M207.0 309.0h0M205.0 313.0h0M202.0 320.9h0M200.8 323.1h0M230.5 275.0h0M225.5 273.5h0M206.5 285.0h0M229.0 281.0h0M221.0 283.0h0" stroke="#c77cff" stroke-opacity="1.00" stroke-width="2.20" stroke-linecap="round" fill="none"/>
<path d="M199.0 329.0h0M197.3 330.5h0M194.5 331.0h0M198.5 333.0h0M198.7 335.0h0M197.5 337.0h0M196.0 337.5h0M194.5 337.3h0M198.5 338.2h0M192.8 340.0h0M193.5 341.0h0M193.0 342.5h0M194.0 343.0h0M197.5 329.5h0M196.5 336.0h0" stroke="#ff8c00" stroke-opacity="1.00" stroke-width="2.20" stroke-linecap="round" fill="none"/>
<path d="M191.0 332.7h0M193.0 334.2h0M191.5 337.2h0" stroke="#7cae00" stroke-opacity="1.00" stroke-width="2.20" stroke-linecap="round" fill="none"/>
<path d="M193.9 328.4h0M195.5 332.2h0M191.8 342.3h0M224.6 289.1h0M224.2 292.4h0" stroke="#00bfc4" stroke-opacity="1.00" stroke-width="2.20" stroke-linecap="round" fill="none"/>
<text x="191.00" y="284.30" font-size="10.10" text-anchor="middle" font-weight="normal" font-style="normal" fill="#111" stroke="#111" stroke-width="0.20" >ALu</text>
<text x="190.67" y="294.10" font-size="8.60" text-anchor="middle" letter-spacing="0.15" fill="#222">(72)</text>
<text x="196.50" y="357.10" font-size="10.10" text-anchor="middle" font-weight="normal" font-style="normal" fill="#111" stroke="#111" stroke-width="0.20" >ABM-1</text>
<text x="197.27" y="366.90" font-size="8.60" text-anchor="middle" letter-spacing="0.15" fill="#222">(20)</text>
<text x="42.00" y="388.80" font-size="10.80" text-anchor="middle" font-weight="normal" font-style="normal" fill="#111" stroke="#111" stroke-width="0.20" >ABM-2</text>
<text x="42.38" y="398.80" font-size="8.60" text-anchor="middle" letter-spacing="0.15" fill="#222">(236)</text>
<text x="153.50" y="429.00" font-size="10.80" text-anchor="middle" font-weight="normal" font-style="normal" fill="#111" stroke="#111" stroke-width="0.20" >ABM-3</text>
<text x="153.77" y="438.40" font-size="8.60" text-anchor="middle" letter-spacing="0.15" fill="#222">(191)</text>
<rect x="35.50" y="458.4" width="10" height="9.8" fill="#ff8c00" stroke="#222" stroke-width="0.8"/>
<text x="50.10" y="466.80" font-size="9.90" text-anchor="start" font-weight="normal" font-style="normal" fill="#111" stroke="#111" stroke-width="0.20" >ABM-1</text>
<rect x="91.50" y="458.4" width="10" height="9.8" fill="#7cae00" stroke="#222" stroke-width="0.8"/>
<text x="106.10" y="466.80" font-size="9.90" text-anchor="start" font-weight="normal" font-style="normal" fill="#111" stroke="#111" stroke-width="0.20" >ABM-2</text>
<rect x="146.20" y="458.4" width="10" height="9.8" fill="#00bfc4" stroke="#222" stroke-width="0.8"/>
<text x="160.80" y="466.80" font-size="9.90" text-anchor="start" font-weight="normal" font-style="normal" fill="#111" stroke="#111" stroke-width="0.20" >ABM-3</text>
<rect x="201.20" y="458.4" width="10" height="9.8" fill="#c77cff" stroke="#222" stroke-width="0.8"/>
<text x="215.30" y="466.80" font-size="9.90" text-anchor="start" font-weight="normal" font-style="normal" fill="#111" stroke="#111" stroke-width="0.20" >ALu</text>
<line x1="288" y1="48.00" x2="288" y2="222.60" stroke="#444" stroke-width="1.9"/>
<path d="M291.60 31.80H293.95M296.79 31.80H299.69M302.53 31.80H305.43M308.27 31.80H311.17M314.01 31.80H316.91M319.75 31.80H322.65M325.49 31.80H328.39M331.23 31.80H334.13M336.97 31.80H339.87M342.71 31.80H345.61M348.45 31.80H351.35M354.19 31.80H357.09M359.93 31.80H362.83M365.67 31.80H368.57M371.41 31.80H374.31M377.15 31.80H380.05M382.89 31.80H385.79M388.63 31.80H391.53M394.37 31.80H397.27M400.11 31.80H402.60M291.60 128.70H293.91M296.75 128.70H299.65M302.49 128.70H305.39M308.23 128.70H311.13M313.97 128.70H316.87M319.71 128.70H322.61M325.46 128.70H328.36M331.20 128.70H334.10M336.94 128.70H339.84M342.68 128.70H345.58M348.42 128.70H351.32M354.16 128.70H357.06M359.90 128.70H362.80M365.64 128.70H368.54M371.38 128.70H374.28M377.12 128.70H380.02M382.87 128.70H385.77M388.61 128.70H391.51M394.35 128.70H397.25M400.09 128.70H402.60" stroke="#000" stroke-width="1.55" fill="none"/>
<path d="M292.30 31.10V33.00M292.30 35.85V38.75M292.30 41.60V44.50M292.30 47.36V50.26M292.30 53.11V56.01M292.30 58.86V61.76M292.30 64.61V67.51M292.30 70.36V73.26M292.30 76.12V79.02M292.30 81.87V84.77M292.30 87.62V90.52M292.30 93.37V96.27M292.30 99.12V102.02M292.30 104.88V107.78M292.30 110.63V113.53M292.30 116.38V119.28M292.30 122.13V125.03M401.90 31.10V33.33M401.90 36.15V39.05M401.90 41.87V44.77M401.90 47.59V50.49M401.90 53.31V56.21M401.90 59.03V61.93M401.90 64.75V67.65M401.90 70.47V73.37M401.90 76.19V79.09M401.90 81.91V84.81M401.90 87.63V90.53M401.90 93.35V96.25M401.90 99.07V101.97M401.90 104.79V107.69M401.90 110.51V113.41M401.90 116.23V119.13M401.90 121.95V124.85M401.90 127.67V129.40" stroke="#000" stroke-width="1.75" fill="none"/>
<text transform="translate(280.5,135.40) rotate(-90) scale(0.73,1)" font-size="12" text-anchor="middle" fill="#111" stroke="#111" stroke-width="0.25">Log expression</text>
<line x1="288" y1="299.20" x2="288" y2="474.00" stroke="#444" stroke-width="1.9"/>
<path d="M290.90 271.20H292.25M295.18 271.20H298.08M301.01 271.20H303.91M306.84 271.20H309.74M312.67 271.20H315.57M318.50 271.20H321.40M324.33 271.20H327.23M330.16 271.20H333.06M335.99 271.20H338.89M341.82 271.20H344.72M347.65 271.20H350.55M353.48 271.20H356.38M359.31 271.20H362.21M365.14 271.20H368.04M370.97 271.20H373.87M376.80 271.20H379.70M382.63 271.20H385.53M388.46 271.20H391.36M394.29 271.20H397.19M400.12 271.20H402.20M290.90 372.30H292.55M295.43 372.30H298.33M301.21 372.30H304.11M306.99 372.30H309.89M312.77 372.30H315.67M318.55 372.30H321.45M324.33 372.30H327.23M330.11 372.30H333.01M335.89 372.30H338.79M341.67 372.30H344.57M347.45 372.30H350.35M353.23 372.30H356.13M359.01 372.30H361.91M364.79 372.30H367.69M370.57 372.30H373.47M376.35 372.30H379.25M382.13 372.30H385.03M387.91 372.30H390.81M393.69 372.30H396.59M399.47 372.30H402.20" stroke="#000" stroke-width="1.55" fill="none"/>
<path d="M291.60 270.50V272.75M291.60 275.75V278.65M291.60 281.65V284.55M291.60 287.55V290.45M291.60 293.45V296.35M291.60 299.35V302.25M291.60 305.25V308.15M291.60 311.15V314.05M291.60 317.05V319.95M291.60 322.95V325.85M291.60 328.85V331.75M291.60 334.75V337.65M291.60 340.65V343.55M291.60 346.55V349.45M291.60 352.45V355.35M291.60 358.35V361.25M291.60 364.25V367.15M291.60 370.15V373.00M401.50 270.50V273.25M401.50 276.25V279.15M401.50 282.15V285.05M401.50 288.05V290.95M401.50 293.95V296.85M401.50 299.85V302.75M401.50 305.75V308.65M401.50 311.65V314.55M401.50 317.55V320.45M401.50 323.45V326.35M401.50 329.35V332.25M401.50 335.25V338.15M401.50 341.15V344.05M401.50 347.05V349.95M401.50 352.95V355.85M401.50 358.85V361.75M401.50 364.75V367.65M401.50 370.65V373.00" stroke="#000" stroke-width="1.75" fill="none"/>
<text transform="translate(280.5,386.60) rotate(-90) scale(0.73,1)" font-size="12" text-anchor="middle" fill="#111" stroke="#111" stroke-width="0.25">Log expression</text>
<text x="311.20" y="43.20" font-size="10.00" text-anchor="middle" font-weight="normal" font-style="italic" fill="#111" stroke="#111" stroke-width="0.05" >Fli1</text>
<text x="350.00" y="43.20" font-size="10.00" text-anchor="middle" font-weight="normal" font-style="italic" fill="#111" stroke="#111" stroke-width="0.05" >Itga2b</text>
<text x="387.30" y="43.20" font-size="10.00" text-anchor="middle" font-weight="normal" font-style="italic" fill="#111" stroke="#111" stroke-width="0.05" >Pf4</text>
<text x="424.50" y="43.20" font-size="10.00" text-anchor="middle" font-weight="normal" font-style="italic" fill="#111" stroke="#111" stroke-width="0.05" >Itgb3</text>
<text x="461.00" y="43.20" font-size="10.00" text-anchor="middle" font-weight="normal" font-style="italic" fill="#111" stroke="#111" stroke-width="0.05" >Mpl</text>
<text x="498.70" y="43.20" font-size="10.00" text-anchor="middle" font-weight="normal" font-style="italic" fill="#111" stroke="#111" stroke-width="0.05" >Vwf</text>
<text x="311.50" y="145.20" font-size="10.00" text-anchor="middle" font-weight="normal" font-style="italic" fill="#111" stroke="#111" stroke-width="0.05" >Gp1ba</text>
<text x="347.80" y="145.20" font-size="10.00" text-anchor="middle" font-weight="normal" font-style="italic" fill="#111" stroke="#111" stroke-width="0.05" >Gp6</text>
<text x="386.00" y="145.20" font-size="10.00" text-anchor="middle" font-weight="normal" font-style="italic" fill="#111" stroke="#111" stroke-width="0.05" >Gp9</text>
<text x="423.40" y="145.20" font-size="10.00" text-anchor="middle" font-weight="normal" font-style="italic" fill="#111" stroke="#111" stroke-width="0.05" >Tubb1</text>
<text x="459.60" y="145.20" font-size="10.00" text-anchor="middle" font-weight="normal" font-style="italic" fill="#111" stroke="#111" stroke-width="0.05" >Gp1bb</text>
<text x="496.20" y="145.20" font-size="10.00" text-anchor="middle" font-weight="normal" font-style="italic" fill="#111" stroke="#111" stroke-width="0.05" >Gp5</text>
<text x="311.00" y="281.20" font-size="10.00" text-anchor="middle" font-weight="normal" font-style="italic" fill="#111" stroke="#111" stroke-width="0.05" >Fli1</text>
<text x="348.00" y="281.20" font-size="10.00" text-anchor="middle" font-weight="normal" font-style="italic" fill="#111" stroke="#111" stroke-width="0.05" >Itga2b</text>
<text x="386.20" y="281.20" font-size="10.00" text-anchor="middle" font-weight="normal" font-style="italic" fill="#111" stroke="#111" stroke-width="0.05" >Pf4</text>
<text x="423.50" y="281.20" font-size="10.00" text-anchor="middle" font-weight="normal" font-style="italic" fill="#111" stroke="#111" stroke-width="0.05" >Itgb3</text>
<text x="460.30" y="281.20" font-size="10.00" text-anchor="middle" font-weight="normal" font-style="italic" fill="#111" stroke="#111" stroke-width="0.05" >Mpl</text>
<text x="498.70" y="281.20" font-size="10.00" text-anchor="middle" font-weight="normal" font-style="italic" fill="#111" stroke="#111" stroke-width="0.05" >Vwf</text>
<text x="311.50" y="384.40" font-size="10.00" text-anchor="middle" font-weight="normal" font-style="italic" fill="#111" stroke="#111" stroke-width="0.05" >Gp1ba</text>
<text x="347.80" y="384.40" font-size="10.00" text-anchor="middle" font-weight="normal" font-style="italic" fill="#111" stroke="#111" stroke-width="0.05" >Gp6</text>
<text x="386.20" y="384.40" font-size="10.00" text-anchor="middle" font-weight="normal" font-style="italic" fill="#111" stroke="#111" stroke-width="0.05" >Gp9</text>
<text x="423.40" y="384.40" font-size="10.00" text-anchor="middle" font-weight="normal" font-style="italic" fill="#111" stroke="#111" stroke-width="0.05" >Tubb1</text>
<text x="459.60" y="384.40" font-size="10.00" text-anchor="middle" font-weight="normal" font-style="italic" fill="#111" stroke="#111" stroke-width="0.05" >Gp1bb</text>
<text x="496.20" y="384.40" font-size="10.00" text-anchor="middle" font-weight="normal" font-style="italic" fill="#111" stroke="#111" stroke-width="0.05" >Gp5</text>
<path d="M300.5 59.9 300.5 60.4 300.5 60.9 300.5 61.4 300.5 61.9 300.5 62.4 300.5 62.9 300.5 63.4 300.5 63.9 300.5 64.4 300.5 64.9 300.5 65.4 300.5 65.9 300.5 66.4 300.5 66.9 300.5 67.4 300.5 67.9 300.5 68.4 300.5 68.9 300.1 69.4 300.1 69.9 300.1 70.4 300.0 70.9 299.9 71.4 299.8 71.9 299.7 72.4 299.5 72.9 299.4 73.4 299.3 73.9 299.1 74.4 299.0 74.9 298.8 75.4 298.7 75.9 298.6 76.4 298.5 76.9 298.3 77.4 298.2 77.9 298.1 78.4 297.9 78.9 297.8 79.4 297.7 79.9 297.6 80.4 297.5 80.9 297.4 81.4 297.3 81.9 297.3 82.4 297.2 82.9 297.2 83.4 297.1 83.9 297.1 84.4 297.0 84.9 297.0 85.4 297.0 85.9 296.9 86.4 296.9 86.9 296.9 87.4 296.9 87.9 296.9 88.4 296.9 88.9 296.9 89.4 297.0 89.9 297.0 90.4 297.1 90.9 297.1 91.4 297.2 91.9 297.3 92.4 297.3 92.9 297.4 93.4 297.5 93.9 297.7 94.4 297.8 94.9 297.9 95.4 298.0 95.9 298.2 96.4 298.3 96.9 298.4 97.4 298.5 97.9 298.6 98.4 298.7 98.9 298.8 99.4 298.9 99.9 299.0 100.4 299.1 100.9 299.2 101.4 299.3 101.9 299.4 102.4 299.4 102.9 299.5 103.4 299.6 103.9 299.6 104.4 299.7 104.9 299.7 105.4 299.8 105.9 299.8 106.4 299.9 106.9 299.9 107.4 300.0 107.9 300.0 108.4 300.0 108.9 300.1 109.4 300.1 109.9 300.1 110.4 300.1 110.9 300.1 111.4 300.1 111.9 300.1 112.4 300.1 112.9 300.1 113.4 300.1 113.9 300.1 114.4 300.1 114.9 300.1 115.4 300.1 115.9 300.1 116.4 300.1 116.9 300.1 117.4 300.1 117.9 300.1 118.4 300.1 118.9 300.0 119.4 299.8 119.9 299.5 120.4 299.4 120.9 299.5 121.4 299.8 121.9 299.9 122.0 301.1 122.0 301.2 121.9 301.5 121.4 301.6 120.9 301.5 120.4 301.2 119.9 301.0 119.4 300.9 118.9 300.9 118.4 300.9 117.9 300.9 117.4 300.9 116.9 300.9 116.4 300.9 115.9 300.9 115.4 300.9 114.9 300.9 114.4 300.9 113.9 300.9 113.4 300.9 112.9 300.9 112.4 300.9 111.9 300.9 111.4 300.9 110.9 300.9 110.4 300.9 109.9 300.9 109.4 301.0 108.9 301.0 108.4 301.0 107.9 301.1 107.4 301.1 106.9 301.2 106.4 301.2 105.9 301.3 105.4 301.3 104.9 301.4 104.4 301.4 103.9 301.5 103.4 301.6 102.9 301.6 102.4 301.7 101.9 301.8 101.4 301.9 100.9 302.0 100.4 302.1 99.9 302.2 99.4 302.3 98.9 302.4 98.4 302.5 97.9 302.6 97.4 302.7 96.9 302.8 96.4 303.0 95.9 303.1 95.4 303.2 94.9 303.3 94.4 303.5 93.9 303.6 93.4 303.7 92.9 303.7 92.4 303.8 91.9 303.9 91.4 303.9 90.9 304.0 90.4 304.0 89.9 304.1 89.4 304.1 88.9 304.1 88.4 304.1 87.9 304.1 87.4 304.1 86.9 304.1 86.4 304.0 85.9 304.0 85.4 304.0 84.9 303.9 84.4 303.9 83.9 303.8 83.4 303.8 82.9 303.7 82.4 303.7 81.9 303.6 81.4 303.5 80.9 303.4 80.4 303.3 79.9 303.2 79.4 303.1 78.9 302.9 78.4 302.8 77.9 302.7 77.4 302.5 76.9 302.4 76.4 302.3 75.9 302.2 75.4 302.0 74.9 301.9 74.4 301.7 73.9 301.6 73.4 301.5 72.9 301.3 72.4 301.2 71.9 301.1 71.4 301.0 70.9 300.9 70.4 300.9 69.9 300.9 69.4 300.5 68.9 300.5 68.4 300.5 67.9 300.5 67.4 300.5 66.9 300.5 66.4 300.5 65.9 300.5 65.4 300.5 64.9 300.5 64.4 300.5 63.9 300.5 63.4 300.5 62.9 300.5 62.4 300.5 61.9 300.5 61.4 300.5 60.9 300.5 60.4 300.5 59.9Z" fill="#e8766c" stroke="#151515" stroke-width="0.75" stroke-linejoin="round"/>
<path d="M308.5 64.9 308.5 65.4 308.5 65.9 308.5 66.4 308.5 66.9 308.5 67.4 308.5 67.9 308.5 68.4 308.5 68.9 308.5 69.4 308.5 69.9 308.5 70.4 308.5 70.9 308.5 71.4 308.5 71.9 308.5 72.4 308.5 72.9 308.1 73.4 308.1 73.9 308.1 74.4 308.0 74.9 308.0 75.4 307.9 75.9 307.8 76.4 307.8 76.9 307.7 77.4 307.6 77.9 307.6 78.4 307.5 78.9 307.4 79.4 307.3 79.9 307.2 80.4 307.2 80.9 307.1 81.4 307.0 81.9 306.9 82.4 306.8 82.9 306.7 83.4 306.6 83.9 306.5 84.4 306.4 84.9 306.3 85.4 306.2 85.9 306.1 86.4 306.1 86.9 306.0 87.4 305.9 87.9 305.8 88.4 305.8 88.9 305.7 89.4 305.6 89.9 305.6 90.4 305.5 90.9 305.4 91.4 305.4 91.9 305.4 92.4 305.3 92.9 305.3 93.4 305.3 93.9 305.2 94.4 305.2 94.9 305.2 95.4 305.2 95.9 305.1 96.4 305.1 96.9 305.1 97.4 305.1 97.9 305.1 98.4 305.1 98.9 305.1 99.4 305.2 99.9 305.2 100.4 305.3 100.9 305.3 101.4 305.4 101.9 305.5 102.4 305.5 102.9 305.6 103.4 305.7 103.9 305.8 104.4 305.9 104.9 306.0 105.4 306.1 105.9 306.2 106.4 306.3 106.9 306.4 107.4 306.6 107.9 306.7 108.4 306.8 108.9 306.9 109.4 307.0 109.9 307.1 110.4 307.1 110.9 307.2 111.4 307.3 111.9 307.4 112.4 307.4 112.9 307.5 113.4 307.5 113.9 307.5 114.4 307.4 114.9 307.4 115.4 307.3 115.9 307.1 116.4 307.0 116.9 306.9 117.4 306.6 117.9 306.4 118.4 306.1 118.9 305.8 119.4 305.5 119.9 305.3 120.4 305.2 120.9 305.0 121.4 304.8 121.9 304.8 122.0 312.2 122.0 312.2 121.9 312.0 121.4 311.8 120.9 311.7 120.4 311.5 119.9 311.2 119.4 310.9 118.9 310.6 118.4 310.4 117.9 310.1 117.4 310.0 116.9 309.9 116.4 309.7 115.9 309.6 115.4 309.6 114.9 309.5 114.4 309.5 113.9 309.5 113.4 309.6 112.9 309.6 112.4 309.7 111.9 309.8 111.4 309.9 110.9 309.9 110.4 310.0 109.9 310.1 109.4 310.2 108.9 310.3 108.4 310.4 107.9 310.6 107.4 310.7 106.9 310.8 106.4 310.9 105.9 311.0 105.4 311.1 104.9 311.2 104.4 311.3 103.9 311.4 103.4 311.5 102.9 311.5 102.4 311.6 101.9 311.7 101.4 311.7 100.9 311.8 100.4 311.8 99.9 311.9 99.4 311.9 98.9 311.9 98.4 311.9 97.9 311.9 97.4 311.9 96.9 311.9 96.4 311.8 95.9 311.8 95.4 311.8 94.9 311.8 94.4 311.7 93.9 311.7 93.4 311.7 92.9 311.6 92.4 311.6 91.9 311.6 91.4 311.5 90.9 311.4 90.4 311.4 89.9 311.3 89.4 311.2 88.9 311.2 88.4 311.1 87.9 311.0 87.4 310.9 86.9 310.9 86.4 310.8 85.9 310.7 85.4 310.6 84.9 310.5 84.4 310.4 83.9 310.3 83.4 310.2 82.9 310.1 82.4 310.0 81.9 309.9 81.4 309.8 80.9 309.8 80.4 309.7 79.9 309.6 79.4 309.5 78.9 309.4 78.4 309.4 77.9 309.3 77.4 309.2 76.9 309.2 76.4 309.1 75.9 309.0 75.4 309.0 74.9 308.9 74.4 308.9 73.9 308.9 73.4 308.5 72.9 308.5 72.4 308.5 71.9 308.5 71.4 308.5 70.9 308.5 70.4 308.5 69.9 308.5 69.4 308.5 68.9 308.5 68.4 308.5 67.9 308.5 67.4 308.5 66.9 308.5 66.4 308.5 65.9 308.5 65.4 308.5 64.9Z" fill="#4fb04a" stroke="#151515" stroke-width="0.75" stroke-linejoin="round"/>
<path d="M316.3 51.7 316.3 52.2 316.3 52.7 316.3 53.2 316.3 53.7 316.3 54.2 316.3 54.7 316.3 55.2 316.3 55.7 316.3 56.2 316.3 56.7 316.3 57.2 316.3 57.7 316.3 58.2 316.3 58.7 316.3 59.2 316.3 59.7 316.3 60.2 316.3 60.7 316.3 61.2 316.3 61.7 316.3 62.2 316.3 62.7 316.3 63.2 316.3 63.7 316.3 64.2 316.3 64.7 316.3 65.2 316.3 65.7 316.3 66.2 316.3 66.7 316.3 67.2 316.3 67.7 316.3 68.2 315.9 68.7 315.9 69.2 315.9 69.7 315.9 70.2 315.9 70.7 315.8 71.2 315.8 71.7 315.8 72.2 315.7 72.7 315.7 73.2 315.6 73.7 315.6 74.2 315.5 74.7 315.5 75.2 315.4 75.7 315.4 76.2 315.3 76.7 315.3 77.2 315.2 77.7 315.2 78.2 315.1 78.7 315.0 79.2 315.0 79.7 314.9 80.2 314.8 80.7 314.8 81.2 314.7 81.7 314.6 82.2 314.6 82.7 314.5 83.2 314.5 83.7 314.4 84.2 314.4 84.7 314.3 85.2 314.3 85.7 314.3 86.2 314.3 86.7 314.2 87.2 314.2 87.7 314.2 88.2 314.2 88.7 314.2 89.2 314.1 89.7 314.1 90.2 314.1 90.7 314.1 91.2 314.1 91.7 314.1 92.2 314.1 92.7 314.1 93.2 314.1 93.7 314.1 94.2 314.1 94.7 314.1 95.2 314.1 95.7 314.1 96.2 314.1 96.7 314.1 97.2 314.1 97.7 314.1 98.2 314.1 98.7 314.1 99.2 314.1 99.7 314.2 100.2 314.2 100.7 314.3 101.2 314.4 101.7 314.4 102.2 314.5 102.7 314.5 103.2 314.6 103.7 314.6 104.2 314.7 104.7 314.7 105.2 314.8 105.7 314.8 106.2 314.9 106.7 314.9 107.2 314.9 107.7 315.0 108.2 315.0 108.7 315.1 109.2 315.1 109.7 315.1 110.2 315.1 110.7 315.1 111.2 315.1 111.7 315.0 112.2 315.0 112.7 314.9 113.2 314.9 113.7 314.8 114.2 314.7 114.7 314.7 115.2 314.5 115.7 314.4 116.2 314.2 116.7 313.9 117.2 313.7 117.7 313.5 118.2 313.4 118.7 313.3 119.2 313.2 119.7 313.1 120.2 313.0 120.7 313.0 121.2 312.9 121.7 312.9 122.0 319.7 122.0 319.7 121.7 319.6 121.2 319.6 120.7 319.5 120.2 319.4 119.7 319.3 119.2 319.2 118.7 319.1 118.2 318.9 117.7 318.7 117.2 318.4 116.7 318.2 116.2 318.1 115.7 317.9 115.2 317.9 114.7 317.8 114.2 317.7 113.7 317.7 113.2 317.6 112.7 317.6 112.2 317.5 111.7 317.5 111.2 317.5 110.7 317.5 110.2 317.5 109.7 317.5 109.2 317.6 108.7 317.6 108.2 317.7 107.7 317.7 107.2 317.7 106.7 317.8 106.2 317.8 105.7 317.9 105.2 317.9 104.7 318.0 104.2 318.0 103.7 318.1 103.2 318.1 102.7 318.2 102.2 318.2 101.7 318.3 101.2 318.4 100.7 318.4 100.2 318.5 99.7 318.5 99.2 318.5 98.7 318.5 98.2 318.5 97.7 318.5 97.2 318.5 96.7 318.5 96.2 318.5 95.7 318.5 95.2 318.5 94.7 318.5 94.2 318.5 93.7 318.5 93.2 318.5 92.7 318.5 92.2 318.5 91.7 318.5 91.2 318.5 90.7 318.5 90.2 318.5 89.7 318.4 89.2 318.4 88.7 318.4 88.2 318.4 87.7 318.4 87.2 318.3 86.7 318.3 86.2 318.3 85.7 318.3 85.2 318.2 84.7 318.2 84.2 318.1 83.7 318.1 83.2 318.0 82.7 318.0 82.2 317.9 81.7 317.8 81.2 317.8 80.7 317.7 80.2 317.6 79.7 317.6 79.2 317.5 78.7 317.4 78.2 317.4 77.7 317.3 77.2 317.3 76.7 317.2 76.2 317.2 75.7 317.1 75.2 317.1 74.7 317.0 74.2 317.0 73.7 316.9 73.2 316.9 72.7 316.8 72.2 316.8 71.7 316.8 71.2 316.7 70.7 316.7 70.2 316.7 69.7 316.7 69.2 316.7 68.7 316.3 68.2 316.3 67.7 316.3 67.2 316.3 66.7 316.3 66.2 316.3 65.7 316.3 65.2 316.3 64.7 316.3 64.2 316.3 63.7 316.3 63.2 316.3 62.7 316.3 62.2 316.3 61.7 316.3 61.2 316.3 60.7 316.3 60.2 316.3 59.7 316.3 59.2 316.3 58.7 316.3 58.2 316.3 57.7 316.3 57.2 316.3 56.7 316.3 56.2 316.3 55.7 316.3 55.2 316.3 54.7 316.3 54.2 316.3 53.7 316.3 53.2 316.3 52.7 316.3 52.2 316.3 51.7Z" fill="#6f93db" stroke="#151515" stroke-width="0.75" stroke-linejoin="round"/>
<path d="M337.5 68.7 337.5 69.2 337.5 69.7 337.5 70.2 337.5 70.7 337.5 71.2 337.5 71.7 337.5 72.2 337.5 72.7 337.5 73.2 337.5 73.7 337.5 74.2 337.5 74.7 337.5 75.2 337.5 75.7 337.5 76.2 337.5 76.7 337.5 77.2 337.5 77.7 337.5 78.2 337.5 78.7 337.1 79.2 337.1 79.7 337.1 80.2 337.1 80.7 337.0 81.2 337.0 81.7 337.0 82.2 336.9 82.7 336.9 83.2 336.8 83.7 336.8 84.2 336.7 84.7 336.7 85.2 336.5 85.7 336.4 86.2 336.2 86.7 335.9 87.2 335.7 87.7 335.4 88.2 335.2 88.7 335.0 89.2 334.8 89.7 334.7 90.2 334.5 90.7 334.4 91.2 334.3 91.7 334.2 92.2 334.1 92.7 334.0 93.2 334.0 93.7 333.9 94.2 333.9 94.7 333.9 95.2 334.0 95.7 334.1 96.2 334.2 96.7 334.4 97.2 334.6 97.7 334.7 98.2 334.9 98.7 335.1 99.2 335.2 99.7 335.4 100.2 335.6 100.7 335.9 101.2 336.1 101.7 336.3 102.2 336.5 102.7 336.7 103.2 336.8 103.7 336.9 104.2 337.0 104.7 337.0 105.2 337.1 105.7 337.1 106.2 337.1 106.7 337.1 107.2 337.2 107.7 337.5 108.2 337.5 108.7 337.5 109.2 337.5 109.7 337.5 110.2 337.5 110.7 337.5 111.2 337.5 111.7 337.5 112.2 337.5 112.7 337.5 113.2 337.5 113.7 337.5 114.2 337.5 114.7 337.5 115.2 337.5 115.7 337.5 116.2 337.5 116.7 337.5 117.2 337.5 117.7 337.5 118.2 337.5 118.7 337.5 119.2 337.5 119.7 337.1 120.2 336.8 120.7 336.5 121.2 336.7 121.7 336.9 122.0 338.1 122.0 338.3 121.7 338.5 121.2 338.2 120.7 337.9 120.2 337.5 119.7 337.5 119.2 337.5 118.7 337.5 118.2 337.5 117.7 337.5 117.2 337.5 116.7 337.5 116.2 337.5 115.7 337.5 115.2 337.5 114.7 337.5 114.2 337.5 113.7 337.5 113.2 337.5 112.7 337.5 112.2 337.5 111.7 337.5 111.2 337.5 110.7 337.5 110.2 337.5 109.7 337.5 109.2 337.5 108.7 337.5 108.2 337.8 107.7 337.9 107.2 337.9 106.7 337.9 106.2 337.9 105.7 338.0 105.2 338.0 104.7 338.1 104.2 338.2 103.7 338.3 103.2 338.5 102.7 338.7 102.2 338.9 101.7 339.1 101.2 339.4 100.7 339.6 100.2 339.8 99.7 339.9 99.2 340.1 98.7 340.3 98.2 340.4 97.7 340.6 97.2 340.8 96.7 340.9 96.2 341.0 95.7 341.1 95.2 341.1 94.7 341.1 94.2 341.0 93.7 341.0 93.2 340.9 92.7 340.8 92.2 340.7 91.7 340.6 91.2 340.5 90.7 340.3 90.2 340.2 89.7 340.0 89.2 339.8 88.7 339.6 88.2 339.3 87.7 339.1 87.2 338.8 86.7 338.6 86.2 338.5 85.7 338.3 85.2 338.3 84.7 338.2 84.2 338.2 83.7 338.1 83.2 338.1 82.7 338.0 82.2 338.0 81.7 338.0 81.2 337.9 80.7 337.9 80.2 337.9 79.7 337.9 79.2 337.5 78.7 337.5 78.2 337.5 77.7 337.5 77.2 337.5 76.7 337.5 76.2 337.5 75.7 337.5 75.2 337.5 74.7 337.5 74.2 337.5 73.7 337.5 73.2 337.5 72.7 337.5 72.2 337.5 71.7 337.5 71.2 337.5 70.7 337.5 70.2 337.5 69.7 337.5 69.2 337.5 68.7Z" fill="#e8766c" stroke="#151515" stroke-width="0.75" stroke-linejoin="round"/>
<path d="M345.4 79.7 345.4 80.2 345.4 80.7 345.4 81.2 345.4 81.7 345.4 82.2 345.4 82.7 345.4 83.2 345.4 83.7 345.4 84.2 345.4 84.7 345.4 85.2 345.4 85.7 345.4 86.2 345.4 86.7 345.4 87.2 345.4 87.7 345.4 88.2 345.4 88.7 345.4 89.2 345.4 89.7 345.4 90.2 345.4 90.7 345.4 91.2 345.4 91.7 345.4 92.2 345.4 92.7 345.4 93.2 345.4 93.7 345.4 94.2 345.4 94.7 345.4 95.2 345.4 95.7 345.4 96.2 345.4 96.7 345.0 97.2 345.0 97.7 344.9 98.2 344.8 98.7 344.7 99.2 344.7 99.7 344.6 100.2 344.5 100.7 344.4 101.2 344.3 101.7 344.2 102.2 344.1 102.7 344.0 103.2 343.8 103.7 343.7 104.2 343.6 104.7 343.5 105.2 343.4 105.7 343.3 106.2 343.2 106.7 343.2 107.2 343.1 107.7 343.1 108.2 343.0 108.7 343.0 109.2 343.0 109.7 342.9 110.2 342.9 110.7 342.9 111.2 342.9 111.7 343.0 112.2 343.1 112.7 343.2 113.2 343.3 113.7 343.4 114.2 343.5 114.7 343.6 115.2 343.7 115.7 343.8 116.2 343.9 116.7 343.9 117.2 343.7 117.7 343.4 118.2 343.1 118.7 342.8 119.2 342.5 119.7 342.2 120.2 342.0 120.7 341.8 121.2 341.7 121.7 341.7 122.0 349.1 122.0 349.1 121.7 349.0 121.2 348.8 120.7 348.6 120.2 348.3 119.7 348.0 119.2 347.7 118.7 347.4 118.2 347.1 117.7 346.9 117.2 346.9 116.7 347.0 116.2 347.1 115.7 347.2 115.2 347.3 114.7 347.4 114.2 347.5 113.7 347.6 113.2 347.7 112.7 347.8 112.2 347.9 111.7 347.9 111.2 347.9 110.7 347.9 110.2 347.8 109.7 347.8 109.2 347.8 108.7 347.7 108.2 347.7 107.7 347.6 107.2 347.6 106.7 347.5 106.2 347.4 105.7 347.3 105.2 347.2 104.7 347.1 104.2 347.0 103.7 346.8 103.2 346.7 102.7 346.6 102.2 346.5 101.7 346.4 101.2 346.3 100.7 346.2 100.2 346.1 99.7 346.1 99.2 346.0 98.7 345.9 98.2 345.8 97.7 345.8 97.2 345.4 96.7 345.4 96.2 345.4 95.7 345.4 95.2 345.4 94.7 345.4 94.2 345.4 93.7 345.4 93.2 345.4 92.7 345.4 92.2 345.4 91.7 345.4 91.2 345.4 90.7 345.4 90.2 345.4 89.7 345.4 89.2 345.4 88.7 345.4 88.2 345.4 87.7 345.4 87.2 345.4 86.7 345.4 86.2 345.4 85.7 345.4 85.2 345.4 84.7 345.4 84.2 345.4 83.7 345.4 83.2 345.4 82.7 345.4 82.2 345.4 81.7 345.4 81.2 345.4 80.7 345.4 80.2 345.4 79.7Z" fill="#4fb04a" stroke="#151515" stroke-width="0.75" stroke-linejoin="round"/>
<path d="M353.3 51.8 353.3 52.3 353.3 52.8 353.3 53.3 353.3 53.8 352.9 54.3 352.8 54.8 352.8 55.3 352.7 55.8 352.6 56.3 352.6 56.8 352.5 57.3 352.4 57.8 352.3 58.3 352.2 58.8 352.1 59.3 351.9 59.8 351.8 60.3 351.6 60.8 351.5 61.3 351.3 61.8 351.2 62.3 351.1 62.8 351.0 63.3 350.9 63.8 350.8 64.3 350.7 64.8 350.6 65.3 350.5 65.8 350.5 66.3 350.4 66.8 350.3 67.3 350.3 67.8 350.2 68.3 350.2 68.8 350.1 69.3 350.1 69.8 350.0 70.3 350.0 70.8 349.9 71.3 349.9 71.8 349.9 72.3 349.9 72.8 349.8 73.3 349.8 73.8 349.8 74.3 349.8 74.8 349.8 75.3 349.8 75.8 349.8 76.3 349.7 76.8 349.7 77.3 349.7 77.8 349.7 78.3 349.7 78.8 349.7 79.3 349.7 79.8 349.7 80.3 349.7 80.8 349.6 81.3 349.6 81.8 349.6 82.3 349.6 82.8 349.6 83.3 349.6 83.8 349.6 84.3 349.6 84.8 349.7 85.3 349.7 85.8 349.8 86.3 349.9 86.8 350.0 87.3 350.1 87.8 350.1 88.3 350.2 88.8 350.3 89.3 350.4 89.8 350.5 90.3 350.6 90.8 350.8 91.3 350.9 91.8 351.0 92.3 351.1 92.8 351.3 93.3 351.4 93.8 351.6 94.3 351.7 94.8 351.9 95.3 352.0 95.8 352.2 96.3 352.3 96.8 352.4 97.3 352.5 97.8 352.5 98.3 352.6 98.8 352.6 99.3 352.7 99.8 352.7 100.3 352.8 100.8 352.8 101.3 352.9 101.8 352.9 102.3 352.9 102.8 353.3 103.3 353.3 103.8 353.3 104.3 353.3 104.8 353.3 105.3 353.3 105.8 353.3 106.3 353.3 106.8 353.3 107.3 353.3 107.8 353.3 108.3 353.3 108.8 353.3 109.3 353.3 109.8 353.3 110.3 353.3 110.8 353.3 111.3 353.3 111.8 353.3 112.3 353.3 112.8 353.3 113.3 353.3 113.8 353.3 114.3 353.3 114.8 353.3 115.3 353.3 115.8 353.3 116.3 353.3 116.8 353.3 117.3 353.3 117.8 353.3 118.3 353.3 118.8 353.3 119.3 353.3 119.8 353.3 120.3 353.3 120.8 353.0 121.3 352.8 121.8 352.7 122.0 353.9 122.0 353.8 121.8 353.6 121.3 353.3 120.8 353.3 120.3 353.3 119.8 353.3 119.3 353.3 118.8 353.3 118.3 353.3 117.8 353.3 117.3 353.3 116.8 353.3 116.3 353.3 115.8 353.3 115.3 353.3 114.8 353.3 114.3 353.3 113.8 353.3 113.3 353.3 112.8 353.3 112.3 353.3 111.8 353.3 111.3 353.3 110.8 353.3 110.3 353.3 109.8 353.3 109.3 353.3 108.8 353.3 108.3 353.3 107.8 353.3 107.3 353.3 106.8 353.3 106.3 353.3 105.8 353.3 105.3 353.3 104.8 353.3 104.3 353.3 103.8 353.3 103.3 353.7 102.8 353.7 102.3 353.7 101.8 353.8 101.3 353.8 100.8 353.9 100.3 353.9 99.8 354.0 99.3 354.0 98.8 354.1 98.3 354.1 97.8 354.2 97.3 354.3 96.8 354.4 96.3 354.6 95.8 354.7 95.3 354.9 94.8 355.0 94.3 355.2 93.8 355.3 93.3 355.5 92.8 355.6 92.3 355.7 91.8 355.8 91.3 356.0 90.8 356.1 90.3 356.2 89.8 356.3 89.3 356.4 88.8 356.5 88.3 356.5 87.8 356.6 87.3 356.7 86.8 356.8 86.3 356.9 85.8 356.9 85.3 357.0 84.8 357.0 84.3 357.0 83.8 357.0 83.3 357.0 82.8 357.0 82.3 357.0 81.8 357.0 81.3 356.9 80.8 356.9 80.3 356.9 79.8 356.9 79.3 356.9 78.8 356.9 78.3 356.9 77.8 356.9 77.3 356.9 76.8 356.8 76.3 356.8 75.8 356.8 75.3 356.8 74.8 356.8 74.3 356.8 73.8 356.8 73.3 356.7 72.8 356.7 72.3 356.7 71.8 356.7 71.3 356.6 70.8 356.6 70.3 356.5 69.8 356.5 69.3 356.4 68.8 356.4 68.3 356.3 67.8 356.3 67.3 356.2 66.8 356.1 66.3 356.1 65.8 356.0 65.3 355.9 64.8 355.8 64.3 355.7 63.8 355.6 63.3 355.5 62.8 355.4 62.3 355.3 61.8 355.1 61.3 355.0 60.8 354.8 60.3 354.7 59.8 354.5 59.3 354.4 58.8 354.3 58.3 354.2 57.8 354.1 57.3 354.0 56.8 354.0 56.3 353.9 55.8 353.8 55.3 353.8 54.8 353.7 54.3 353.3 53.8 353.3 53.3 353.3 52.8 353.3 52.3 353.3 51.8Z" fill="#6f93db" stroke="#151515" stroke-width="0.75" stroke-linejoin="round"/>
<path d="M376.0 59.2 376.0 59.7 376.0 60.2 376.0 60.7 376.0 61.2 375.6 61.7 375.4 62.2 375.3 62.7 375.1 63.2 374.8 63.7 374.6 64.2 374.3 64.7 374.1 65.2 373.9 65.7 373.6 66.2 373.3 66.7 373.1 67.2 372.9 67.7 372.7 68.2 372.6 68.7 372.4 69.2 372.3 69.7 372.2 70.2 372.2 70.7 372.2 71.2 372.3 71.7 372.3 72.2 372.4 72.7 372.5 73.2 372.6 73.7 372.7 74.2 372.8 74.7 372.9 75.2 373.1 75.7 373.2 76.2 373.3 76.7 373.4 77.2 373.5 77.7 373.6 78.2 373.7 78.7 373.8 79.2 373.9 79.7 374.0 80.2 374.1 80.7 374.2 81.2 374.2 81.7 374.3 82.2 374.4 82.7 374.4 83.2 374.5 83.7 374.6 84.2 374.6 84.7 374.7 85.2 374.8 85.7 374.8 86.2 374.9 86.7 375.0 87.2 375.1 87.7 375.1 88.2 375.2 88.7 375.3 89.2 375.4 89.7 375.4 90.2 375.5 90.7 375.5 91.2 375.5 91.7 375.5 92.2 375.6 92.7 375.6 93.2 375.6 93.7 375.6 94.2 375.6 94.7 375.6 95.2 375.6 95.7 375.7 96.2 376.0 96.7 376.0 97.2 376.0 97.7 376.0 98.2 376.0 98.7 376.0 99.2 376.0 99.7 376.0 100.2 376.0 100.7 376.0 101.2 376.0 101.7 376.0 102.2 376.0 102.7 376.0 103.2 376.0 103.7 376.0 104.2 376.0 104.7 376.0 105.2 376.0 105.7 376.0 106.2 376.0 106.7 376.0 107.2 376.0 107.7 376.0 108.2 376.0 108.7 376.0 109.2 376.0 109.7 376.0 110.2 376.0 110.7 376.0 111.2 376.0 111.7 376.0 112.2 376.0 112.7 376.0 113.2 376.0 113.7 376.0 114.2 376.0 114.7 376.0 115.2 376.0 115.7 376.0 116.2 376.0 116.7 376.0 117.2 376.0 117.7 376.0 118.2 376.0 118.7 376.0 119.2 376.0 119.7 376.0 120.2 376.0 120.7 376.0 121.2 375.6 121.7 375.5 122.0 376.5 122.0 376.4 121.7 376.0 121.2 376.0 120.7 376.0 120.2 376.0 119.7 376.0 119.2 376.0 118.7 376.0 118.2 376.0 117.7 376.0 117.2 376.0 116.7 376.0 116.2 376.0 115.7 376.0 115.2 376.0 114.7 376.0 114.2 376.0 113.7 376.0 113.2 376.0 112.7 376.0 112.2 376.0 111.7 376.0 111.2 376.0 110.7 376.0 110.2 376.0 109.7 376.0 109.2 376.0 108.7 376.0 108.2 376.0 107.7 376.0 107.2 376.0 106.7 376.0 106.2 376.0 105.7 376.0 105.2 376.0 104.7 376.0 104.2 376.0 103.7 376.0 103.2 376.0 102.7 376.0 102.2 376.0 101.7 376.0 101.2 376.0 100.7 376.0 100.2 376.0 99.7 376.0 99.2 376.0 98.7 376.0 98.2 376.0 97.7 376.0 97.2 376.0 96.7 376.3 96.2 376.4 95.7 376.4 95.2 376.4 94.7 376.4 94.2 376.4 93.7 376.4 93.2 376.4 92.7 376.5 92.2 376.5 91.7 376.5 91.2 376.5 90.7 376.6 90.2 376.6 89.7 376.7 89.2 376.8 88.7 376.9 88.2 376.9 87.7 377.0 87.2 377.1 86.7 377.2 86.2 377.2 85.7 377.3 85.2 377.4 84.7 377.4 84.2 377.5 83.7 377.6 83.2 377.6 82.7 377.7 82.2 377.8 81.7 377.8 81.2 377.9 80.7 378.0 80.2 378.1 79.7 378.2 79.2 378.3 78.7 378.4 78.2 378.5 77.7 378.6 77.2 378.7 76.7 378.8 76.2 378.9 75.7 379.1 75.2 379.2 74.7 379.3 74.2 379.4 73.7 379.5 73.2 379.6 72.7 379.7 72.2 379.7 71.7 379.8 71.2 379.8 70.7 379.8 70.2 379.7 69.7 379.6 69.2 379.4 68.7 379.3 68.2 379.1 67.7 378.9 67.2 378.7 66.7 378.4 66.2 378.1 65.7 377.9 65.2 377.7 64.7 377.4 64.2 377.2 63.7 376.9 63.2 376.7 62.7 376.6 62.2 376.4 61.7 376.0 61.2 376.0 60.7 376.0 60.2 376.0 59.7 376.0 59.2Z" fill="#e8766c" stroke="#151515" stroke-width="0.75" stroke-linejoin="round"/>
<path d="M383.8 77.4 383.8 77.9 383.8 78.4 383.8 78.9 383.8 79.4 383.8 79.9 383.8 80.4 383.8 80.9 383.8 81.4 383.8 81.9 383.8 82.4 383.8 82.9 383.8 83.4 383.8 83.9 383.8 84.4 383.8 84.9 383.8 85.4 383.8 85.9 383.8 86.4 383.8 86.9 383.8 87.4 383.8 87.9 383.8 88.4 383.8 88.9 383.8 89.4 383.8 89.9 383.8 90.4 383.8 90.9 383.8 91.4 383.8 91.9 383.8 92.4 383.8 92.9 383.8 93.4 383.8 93.9 383.8 94.4 383.8 94.9 383.8 95.4 383.4 95.9 383.4 96.4 383.3 96.9 383.3 97.4 383.2 97.9 383.1 98.4 383.0 98.9 382.9 99.4 382.7 99.9 382.6 100.4 382.4 100.9 382.2 101.4 382.0 101.9 381.8 102.4 381.6 102.9 381.5 103.4 381.3 103.9 381.1 104.4 381.0 104.9 380.8 105.4 380.6 105.9 380.5 106.4 380.4 106.9 380.3 107.4 380.2 107.9 380.2 108.4 380.1 108.9 380.0 109.4 380.0 109.9 380.0 110.4 380.0 110.9 380.1 111.4 380.2 111.9 380.3 112.4 380.5 112.9 380.6 113.4 380.8 113.9 380.9 114.4 381.2 114.9 381.4 115.4 381.7 115.9 382.0 116.4 382.3 116.9 382.5 117.4 382.8 117.9 383.0 118.4 383.2 118.9 383.3 119.4 383.2 119.9 383.0 120.4 382.8 120.9 382.9 121.4 383.1 121.9 383.2 122.0 384.4 122.0 384.5 121.9 384.7 121.4 384.8 120.9 384.6 120.4 384.4 119.9 384.3 119.4 384.4 118.9 384.6 118.4 384.8 117.9 385.1 117.4 385.3 116.9 385.6 116.4 385.9 115.9 386.2 115.4 386.4 114.9 386.7 114.4 386.8 113.9 387.0 113.4 387.1 112.9 387.3 112.4 387.4 111.9 387.5 111.4 387.6 110.9 387.6 110.4 387.6 109.9 387.6 109.4 387.5 108.9 387.4 108.4 387.4 107.9 387.3 107.4 387.2 106.9 387.1 106.4 387.0 105.9 386.8 105.4 386.6 104.9 386.5 104.4 386.3 103.9 386.1 103.4 386.0 102.9 385.8 102.4 385.6 101.9 385.4 101.4 385.2 100.9 385.0 100.4 384.9 99.9 384.7 99.4 384.6 98.9 384.5 98.4 384.4 97.9 384.3 97.4 384.3 96.9 384.2 96.4 384.2 95.9 383.8 95.4 383.8 94.9 383.8 94.4 383.8 93.9 383.8 93.4 383.8 92.9 383.8 92.4 383.8 91.9 383.8 91.4 383.8 90.9 383.8 90.4 383.8 89.9 383.8 89.4 383.8 88.9 383.8 88.4 383.8 87.9 383.8 87.4 383.8 86.9 383.8 86.4 383.8 85.9 383.8 85.4 383.8 84.9 383.8 84.4 383.8 83.9 383.8 83.4 383.8 82.9 383.8 82.4 383.8 81.9 383.8 81.4 383.8 80.9 383.8 80.4 383.8 79.9 383.8 79.4 383.8 78.9 383.8 78.4 383.8 77.9 383.8 77.4Z" fill="#4fb04a" stroke="#151515" stroke-width="0.75" stroke-linejoin="round"/>
<path d="M391.5 52.2 391.5 52.7 390.9 53.2 390.7 53.7 390.4 54.2 390.2 54.7 390.0 55.2 389.8 55.7 389.6 56.2 389.5 56.7 389.3 57.2 389.2 57.7 389.0 58.2 388.9 58.7 388.8 59.2 388.7 59.7 388.7 60.2 388.6 60.7 388.5 61.2 388.4 61.7 388.4 62.2 388.3 62.7 388.3 63.2 388.2 63.7 388.2 64.2 388.1 64.7 388.1 65.2 388.1 65.7 388.0 66.2 388.0 66.7 388.0 67.2 388.0 67.7 387.9 68.2 387.9 68.7 387.9 69.2 387.9 69.7 387.9 70.2 387.9 70.7 387.8 71.2 387.8 71.7 387.8 72.2 387.8 72.7 387.8 73.2 387.8 73.7 387.8 74.2 387.8 74.7 387.8 75.2 387.8 75.7 387.9 76.2 387.9 76.7 387.9 77.2 388.0 77.7 388.0 78.2 388.1 78.7 388.1 79.2 388.2 79.7 388.2 80.2 388.3 80.7 388.4 81.2 388.5 81.7 388.6 82.2 388.7 82.7 388.8 83.2 388.9 83.7 388.9 84.2 389.0 84.7 389.1 85.2 389.2 85.7 389.2 86.2 389.3 86.7 389.4 87.2 389.5 87.7 389.5 88.2 389.6 88.7 389.6 89.2 389.7 89.7 389.8 90.2 389.8 90.7 389.9 91.2 389.9 91.7 390.0 92.2 390.1 92.7 390.1 93.2 390.2 93.7 390.3 94.2 390.3 94.7 390.4 95.2 390.5 95.7 390.5 96.2 390.6 96.7 390.6 97.2 390.6 97.7 390.7 98.2 390.7 98.7 390.8 99.2 390.8 99.7 390.8 100.2 390.9 100.7 390.9 101.2 391.0 101.7 391.0 102.2 391.1 102.7 391.1 103.2 391.2 103.7 391.5 104.2 391.5 104.7 391.5 105.2 391.5 105.7 391.5 106.2 391.5 106.7 391.5 107.2 391.5 107.7 391.5 108.2 391.5 108.7 391.5 109.2 391.5 109.7 391.5 110.2 391.5 110.7 391.5 111.2 391.5 111.7 391.5 112.2 391.5 112.7 391.5 113.2 391.5 113.7 391.5 114.2 391.5 114.7 391.5 115.2 391.5 115.7 391.5 116.2 391.5 116.7 391.5 117.2 391.5 117.7 391.5 118.2 391.5 118.7 391.5 119.2 391.5 119.7 391.1 120.2 390.7 120.7 390.5 121.2 390.7 121.7 390.9 122.0 392.1 122.0 392.3 121.7 392.5 121.2 392.3 120.7 391.9 120.2 391.5 119.7 391.5 119.2 391.5 118.7 391.5 118.2 391.5 117.7 391.5 117.2 391.5 116.7 391.5 116.2 391.5 115.7 391.5 115.2 391.5 114.7 391.5 114.2 391.5 113.7 391.5 113.2 391.5 112.7 391.5 112.2 391.5 111.7 391.5 111.2 391.5 110.7 391.5 110.2 391.5 109.7 391.5 109.2 391.5 108.7 391.5 108.2 391.5 107.7 391.5 107.2 391.5 106.7 391.5 106.2 391.5 105.7 391.5 105.2 391.5 104.7 391.5 104.2 391.8 103.7 391.9 103.2 391.9 102.7 392.0 102.2 392.0 101.7 392.1 101.2 392.1 100.7 392.2 100.2 392.2 99.7 392.2 99.2 392.3 98.7 392.3 98.2 392.4 97.7 392.4 97.2 392.4 96.7 392.5 96.2 392.5 95.7 392.6 95.2 392.7 94.7 392.7 94.2 392.8 93.7 392.9 93.2 392.9 92.7 393.0 92.2 393.1 91.7 393.1 91.2 393.2 90.7 393.2 90.2 393.3 89.7 393.4 89.2 393.4 88.7 393.5 88.2 393.5 87.7 393.6 87.2 393.7 86.7 393.8 86.2 393.8 85.7 393.9 85.2 394.0 84.7 394.1 84.2 394.1 83.7 394.2 83.2 394.3 82.7 394.4 82.2 394.5 81.7 394.6 81.2 394.7 80.7 394.8 80.2 394.8 79.7 394.9 79.2 394.9 78.7 395.0 78.2 395.0 77.7 395.1 77.2 395.1 76.7 395.1 76.2 395.2 75.7 395.2 75.2 395.2 74.7 395.2 74.2 395.2 73.7 395.2 73.2 395.2 72.7 395.2 72.2 395.2 71.7 395.2 71.2 395.1 70.7 395.1 70.2 395.1 69.7 395.1 69.2 395.1 68.7 395.1 68.2 395.0 67.7 395.0 67.2 395.0 66.7 395.0 66.2 394.9 65.7 394.9 65.2 394.9 64.7 394.8 64.2 394.8 63.7 394.7 63.2 394.7 62.7 394.6 62.2 394.6 61.7 394.5 61.2 394.4 60.7 394.3 60.2 394.3 59.7 394.2 59.2 394.1 58.7 394.0 58.2 393.8 57.7 393.7 57.2 393.5 56.7 393.4 56.2 393.2 55.7 393.0 55.2 392.8 54.7 392.6 54.2 392.3 53.7 392.1 53.2 391.5 52.7 391.5 52.2Z" fill="#6f93db" stroke="#151515" stroke-width="0.75" stroke-linejoin="round"/>
<path d="M413.1 77.0 413.1 77.5 413.1 78.0 413.1 78.5 413.1 79.0 413.1 79.5 413.1 80.0 413.1 80.5 413.1 81.0 413.1 81.5 413.1 82.0 413.1 82.5 412.7 83.0 412.7 83.5 412.6 84.0 412.5 84.5 412.4 85.0 412.3 85.5 412.2 86.0 412.0 86.5 411.9 87.0 411.7 87.5 411.6 88.0 411.5 88.5 411.4 89.0 411.2 89.5 411.1 90.0 411.0 90.5 410.9 91.0 410.8 91.5 410.7 92.0 410.6 92.5 410.5 93.0 410.4 93.5 410.3 94.0 410.2 94.5 410.1 95.0 410.1 95.5 410.0 96.0 409.9 96.5 409.8 97.0 409.7 97.5 409.7 98.0 409.6 98.5 409.5 99.0 409.5 99.5 409.5 100.0 409.4 100.5 409.4 101.0 409.4 101.5 409.4 102.0 409.5 102.5 409.5 103.0 409.6 103.5 409.7 104.0 409.8 104.5 409.9 105.0 410.0 105.5 410.1 106.0 410.2 106.5 410.3 107.0 410.4 107.5 410.5 108.0 410.6 108.5 410.8 109.0 410.9 109.5 411.0 110.0 411.2 110.5 411.3 111.0 411.4 111.5 411.5 112.0 411.6 112.5 411.7 113.0 411.8 113.5 411.9 114.0 412.0 114.5 412.1 115.0 412.2 115.5 412.3 116.0 412.3 116.5 412.4 117.0 412.4 117.5 412.5 118.0 412.5 118.5 412.6 119.0 412.6 119.5 412.6 120.0 412.3 120.5 412.0 121.0 412.1 121.5 412.5 122.0 413.7 122.0 414.1 121.5 414.2 121.0 413.9 120.5 413.6 120.0 413.6 119.5 413.6 119.0 413.7 118.5 413.7 118.0 413.8 117.5 413.8 117.0 413.9 116.5 413.9 116.0 414.0 115.5 414.1 115.0 414.2 114.5 414.3 114.0 414.4 113.5 414.5 113.0 414.6 112.5 414.7 112.0 414.8 111.5 414.9 111.0 415.0 110.5 415.2 110.0 415.3 109.5 415.4 109.0 415.6 108.5 415.7 108.0 415.8 107.5 415.9 107.0 416.0 106.5 416.1 106.0 416.2 105.5 416.3 105.0 416.4 104.5 416.5 104.0 416.6 103.5 416.7 103.0 416.7 102.5 416.8 102.0 416.8 101.5 416.8 101.0 416.8 100.5 416.7 100.0 416.7 99.5 416.7 99.0 416.6 98.5 416.5 98.0 416.5 97.5 416.4 97.0 416.3 96.5 416.2 96.0 416.1 95.5 416.1 95.0 416.0 94.5 415.9 94.0 415.8 93.5 415.7 93.0 415.6 92.5 415.5 92.0 415.4 91.5 415.3 91.0 415.2 90.5 415.1 90.0 415.0 89.5 414.8 89.0 414.7 88.5 414.6 88.0 414.5 87.5 414.3 87.0 414.2 86.5 414.0 86.0 413.9 85.5 413.8 85.0 413.7 84.5 413.6 84.0 413.5 83.5 413.5 83.0 413.1 82.5 413.1 82.0 413.1 81.5 413.1 81.0 413.1 80.5 413.1 80.0 413.1 79.5 413.1 79.0 413.1 78.5 413.1 78.0 413.1 77.5 413.1 77.0Z" fill="#e8766c" stroke="#151515" stroke-width="0.75" stroke-linejoin="round"/>
<path d="M421.0 83.6 421.0 84.1 421.0 84.6 421.0 85.1 421.0 85.6 421.0 86.1 421.0 86.6 421.0 87.1 421.0 87.6 421.0 88.1 421.0 88.6 421.0 89.1 421.0 89.6 421.0 90.1 421.0 90.6 421.0 91.1 421.0 91.6 421.0 92.1 421.0 92.6 421.0 93.1 421.0 93.6 421.0 94.1 421.0 94.6 421.0 95.1 421.0 95.6 421.0 96.1 421.0 96.6 421.0 97.1 421.0 97.6 421.0 98.1 421.0 98.6 421.0 99.1 421.0 99.6 421.0 100.1 421.0 100.6 421.0 101.1 421.0 101.6 421.0 102.1 421.0 102.6 421.0 103.1 421.0 103.6 421.0 104.1 421.0 104.6 421.0 105.1 421.0 105.6 421.0 106.1 421.0 106.6 421.0 107.1 421.0 107.6 421.0 108.1 421.0 108.6 421.0 109.1 421.0 109.6 421.0 110.1 421.0 110.6 421.0 111.1 421.0 111.6 421.0 112.1 421.0 112.6 421.0 113.1 421.0 113.6 421.0 114.1 421.0 114.6 421.0 115.1 421.0 115.6 421.0 116.1 421.0 116.6 421.0 117.1 421.0 117.6 421.0 118.1 421.0 118.6 421.0 119.1 420.7 119.6 420.3 120.1 419.7 120.6 419.1 121.1 418.3 121.6 417.5 122.0 424.5 122.0 423.7 121.6 422.9 121.1 422.3 120.6 421.7 120.1 421.3 119.6 421.0 119.1 421.0 118.6 421.0 118.1 421.0 117.6 421.0 117.1 421.0 116.6 421.0 116.1 421.0 115.6 421.0 115.1 421.0 114.6 421.0 114.1 421.0 113.6 421.0 113.1 421.0 112.6 421.0 112.1 421.0 111.6 421.0 111.1 421.0 110.6 421.0 110.1 421.0 109.6 421.0 109.1 421.0 108.6 421.0 108.1 421.0 107.6 421.0 107.1 421.0 106.6 421.0 106.1 421.0 105.6 421.0 105.1 421.0 104.6 421.0 104.1 421.0 103.6 421.0 103.1 421.0 102.6 421.0 102.1 421.0 101.6 421.0 101.1 421.0 100.6 421.0 100.1 421.0 99.6 421.0 99.1 421.0 98.6 421.0 98.1 421.0 97.6 421.0 97.1 421.0 96.6 421.0 96.1 421.0 95.6 421.0 95.1 421.0 94.6 421.0 94.1 421.0 93.6 421.0 93.1 421.0 92.6 421.0 92.1 421.0 91.6 421.0 91.1 421.0 90.6 421.0 90.1 421.0 89.6 421.0 89.1 421.0 88.6 421.0 88.1 421.0 87.6 421.0 87.1 421.0 86.6 421.0 86.1 421.0 85.6 421.0 85.1 421.0 84.6 421.0 84.1 421.0 83.6Z" fill="#4fb04a" stroke="#151515" stroke-width="0.75" stroke-linejoin="round"/>
<path d="M428.9 51.8 428.9 52.3 428.9 52.8 428.9 53.3 428.9 53.8 428.9 54.3 428.9 54.8 428.9 55.3 428.9 55.8 428.9 56.3 428.9 56.8 428.9 57.3 428.9 57.8 428.9 58.3 428.9 58.8 428.9 59.3 428.9 59.8 428.9 60.3 428.9 60.8 428.9 61.3 428.9 61.8 428.9 62.3 428.9 62.8 428.6 63.3 428.5 63.8 428.5 64.3 428.4 64.8 428.4 65.3 428.3 65.8 428.1 66.3 428.0 66.8 427.9 67.3 427.7 67.8 427.6 68.3 427.4 68.8 427.3 69.3 427.1 69.8 427.0 70.3 426.9 70.8 426.8 71.3 426.7 71.8 426.6 72.3 426.4 72.8 426.3 73.3 426.2 73.8 426.1 74.3 426.0 74.8 425.9 75.3 425.8 75.8 425.7 76.3 425.6 76.8 425.5 77.3 425.4 77.8 425.3 78.3 425.2 78.8 425.2 79.3 425.1 79.8 425.1 80.3 425.0 80.8 425.0 81.3 425.0 81.8 425.0 82.3 425.0 82.8 425.0 83.3 425.0 83.8 425.0 84.3 425.0 84.8 425.0 85.3 425.0 85.8 425.0 86.3 425.0 86.8 425.0 87.3 425.1 87.8 425.1 88.3 425.2 88.8 425.2 89.3 425.3 89.8 425.3 90.3 425.4 90.8 425.5 91.3 425.5 91.8 425.6 92.3 425.7 92.8 425.7 93.3 425.8 93.8 425.9 94.3 425.9 94.8 426.0 95.3 426.1 95.8 426.2 96.3 426.3 96.8 426.3 97.3 426.4 97.8 426.5 98.3 426.6 98.8 426.7 99.3 426.8 99.8 426.9 100.3 427.0 100.8 427.0 101.3 427.1 101.8 427.2 102.3 427.3 102.8 427.4 103.3 427.5 103.8 427.6 104.3 427.7 104.8 427.7 105.3 427.8 105.8 427.9 106.3 428.0 106.8 428.1 107.3 428.1 107.8 428.2 108.3 428.2 108.8 428.2 109.3 428.2 109.8 428.3 110.3 428.3 110.8 428.3 111.3 428.3 111.8 428.3 112.3 428.3 112.8 428.3 113.3 428.4 113.8 428.4 114.3 428.4 114.8 428.4 115.3 428.4 115.8 428.4 116.3 428.4 116.8 428.4 117.3 428.4 117.8 428.4 118.3 428.2 118.8 428.0 119.3 427.8 119.8 427.7 120.3 427.7 120.8 427.9 121.3 428.2 121.8 428.3 122.0 429.5 122.0 429.6 121.8 429.9 121.3 430.1 120.8 430.1 120.3 430.0 119.8 429.8 119.3 429.6 118.8 429.4 118.3 429.4 117.8 429.4 117.3 429.4 116.8 429.4 116.3 429.4 115.8 429.4 115.3 429.4 114.8 429.4 114.3 429.4 113.8 429.5 113.3 429.5 112.8 429.5 112.3 429.5 111.8 429.5 111.3 429.5 110.8 429.5 110.3 429.6 109.8 429.6 109.3 429.6 108.8 429.6 108.3 429.7 107.8 429.7 107.3 429.8 106.8 429.9 106.3 430.0 105.8 430.1 105.3 430.1 104.8 430.2 104.3 430.3 103.8 430.4 103.3 430.5 102.8 430.6 102.3 430.7 101.8 430.8 101.3 430.8 100.8 430.9 100.3 431.0 99.8 431.1 99.3 431.2 98.8 431.3 98.3 431.4 97.8 431.5 97.3 431.5 96.8 431.6 96.3 431.7 95.8 431.8 95.3 431.9 94.8 431.9 94.3 432.0 93.8 432.1 93.3 432.1 92.8 432.2 92.3 432.3 91.8 432.3 91.3 432.4 90.8 432.5 90.3 432.5 89.8 432.6 89.3 432.6 88.8 432.7 88.3 432.7 87.8 432.8 87.3 432.8 86.8 432.8 86.3 432.8 85.8 432.8 85.3 432.8 84.8 432.8 84.3 432.8 83.8 432.8 83.3 432.8 82.8 432.8 82.3 432.8 81.8 432.8 81.3 432.8 80.8 432.7 80.3 432.7 79.8 432.6 79.3 432.6 78.8 432.5 78.3 432.4 77.8 432.3 77.3 432.2 76.8 432.1 76.3 432.0 75.8 431.9 75.3 431.8 74.8 431.7 74.3 431.6 73.8 431.5 73.3 431.4 72.8 431.2 72.3 431.1 71.8 431.0 71.3 430.9 70.8 430.8 70.3 430.7 69.8 430.5 69.3 430.4 68.8 430.2 68.3 430.1 67.8 429.9 67.3 429.8 66.8 429.7 66.3 429.5 65.8 429.4 65.3 429.4 64.8 429.3 64.3 429.3 63.8 429.2 63.3 428.9 62.8 428.9 62.3 428.9 61.8 428.9 61.3 428.9 60.8 428.9 60.3 428.9 59.8 428.9 59.3 428.9 58.8 428.9 58.3 428.9 57.8 428.9 57.3 428.9 56.8 428.9 56.3 428.9 55.8 428.9 55.3 428.9 54.8 428.9 54.3 428.9 53.8 428.9 53.3 428.9 52.8 428.9 52.3 428.9 51.8Z" fill="#6f93db" stroke="#151515" stroke-width="0.75" stroke-linejoin="round"/>
<path d="M450.3 71.6 450.3 72.1 450.3 72.6 450.3 73.1 450.3 73.6 450.3 74.1 450.3 74.6 450.3 75.1 450.3 75.6 450.3 76.1 450.3 76.6 450.3 77.1 450.3 77.6 450.3 78.1 450.3 78.6 450.3 79.1 450.3 79.6 450.3 80.1 450.3 80.6 450.3 81.1 450.3 81.6 450.3 82.1 450.3 82.6 450.3 83.1 450.3 83.6 450.3 84.1 450.3 84.6 450.3 85.1 449.9 85.6 449.9 86.1 449.9 86.6 449.8 87.1 449.7 87.6 449.6 88.1 449.4 88.6 449.2 89.1 449.0 89.6 448.8 90.1 448.6 90.6 448.4 91.1 448.2 91.6 448.1 92.1 447.9 92.6 447.8 93.1 447.6 93.6 447.5 94.1 447.3 94.6 447.2 95.1 447.0 95.6 446.9 96.1 446.8 96.6 446.7 97.1 446.6 97.6 446.5 98.1 446.5 98.6 446.5 99.1 446.5 99.6 446.6 100.1 446.6 100.6 446.7 101.1 446.8 101.6 446.9 102.1 447.0 102.6 447.1 103.1 447.2 103.6 447.3 104.1 447.4 104.6 447.5 105.1 447.6 105.6 447.7 106.1 447.8 106.6 447.9 107.1 448.1 107.6 448.2 108.1 448.3 108.6 448.4 109.1 448.5 109.6 448.6 110.1 448.7 110.6 448.8 111.1 448.9 111.6 449.0 112.1 449.1 112.6 449.2 113.1 449.4 113.6 449.5 114.1 449.6 114.6 449.6 115.1 449.7 115.6 449.8 116.1 449.8 116.6 449.8 117.1 449.8 117.6 449.8 118.1 449.8 118.6 449.7 119.1 449.7 119.6 449.5 120.1 449.2 120.6 449.1 121.1 449.3 121.6 449.7 122.0 450.9 122.0 451.3 121.6 451.5 121.1 451.4 120.6 451.1 120.1 450.9 119.6 450.9 119.1 450.8 118.6 450.8 118.1 450.8 117.6 450.8 117.1 450.8 116.6 450.8 116.1 450.9 115.6 451.0 115.1 451.0 114.6 451.1 114.1 451.2 113.6 451.4 113.1 451.5 112.6 451.6 112.1 451.7 111.6 451.8 111.1 451.9 110.6 452.0 110.1 452.1 109.6 452.2 109.1 452.3 108.6 452.4 108.1 452.5 107.6 452.7 107.1 452.8 106.6 452.9 106.1 453.0 105.6 453.1 105.1 453.2 104.6 453.3 104.1 453.4 103.6 453.5 103.1 453.6 102.6 453.7 102.1 453.8 101.6 453.9 101.1 454.0 100.6 454.0 100.1 454.1 99.6 454.1 99.1 454.1 98.6 454.1 98.1 454.0 97.6 453.9 97.1 453.8 96.6 453.7 96.1 453.6 95.6 453.4 95.1 453.3 94.6 453.1 94.1 453.0 93.6 452.8 93.1 452.7 92.6 452.5 92.1 452.4 91.6 452.2 91.1 452.0 90.6 451.8 90.1 451.6 89.6 451.4 89.1 451.2 88.6 451.0 88.1 450.9 87.6 450.8 87.1 450.7 86.6 450.7 86.1 450.7 85.6 450.3 85.1 450.3 84.6 450.3 84.1 450.3 83.6 450.3 83.1 450.3 82.6 450.3 82.1 450.3 81.6 450.3 81.1 450.3 80.6 450.3 80.1 450.3 79.6 450.3 79.1 450.3 78.6 450.3 78.1 450.3 77.6 450.3 77.1 450.3 76.6 450.3 76.1 450.3 75.6 450.3 75.1 450.3 74.6 450.3 74.1 450.3 73.6 450.3 73.1 450.3 72.6 450.3 72.1 450.3 71.6Z" fill="#e8766c" stroke="#151515" stroke-width="0.75" stroke-linejoin="round"/>
<path d="M466.0 51.8 466.0 52.3 466.0 52.8 466.0 53.3 466.0 53.8 466.0 54.3 466.0 54.8 466.0 55.3 466.0 55.8 466.0 56.3 466.0 56.8 466.0 57.3 466.0 57.8 466.0 58.3 466.0 58.8 466.0 59.3 466.0 59.8 466.0 60.3 466.0 60.8 466.0 61.3 466.0 61.8 466.0 62.3 466.0 62.8 466.0 63.3 466.0 63.8 466.0 64.3 466.0 64.8 466.0 65.3 466.0 65.8 466.0 66.3 466.0 66.8 466.0 67.3 465.7 67.8 465.6 68.3 465.6 68.8 465.6 69.3 465.6 69.8 465.5 70.3 465.5 70.8 465.4 71.3 465.3 71.8 465.3 72.3 465.2 72.8 465.1 73.3 465.0 73.8 464.9 74.3 464.9 74.8 464.8 75.3 464.7 75.8 464.6 76.3 464.5 76.8 464.5 77.3 464.4 77.8 464.4 78.3 464.3 78.8 464.3 79.3 464.2 79.8 464.2 80.3 464.1 80.8 464.1 81.3 464.0 81.8 464.0 82.3 464.0 82.8 463.9 83.3 463.9 83.8 463.8 84.3 463.8 84.8 463.8 85.3 463.7 85.8 463.7 86.3 463.6 86.8 463.6 87.3 463.6 87.8 463.5 88.3 463.5 88.8 463.4 89.3 463.4 89.8 463.3 90.3 463.3 90.8 463.3 91.3 463.2 91.8 463.2 92.3 463.1 92.8 463.1 93.3 463.0 93.8 462.9 94.3 462.9 94.8 462.8 95.3 462.7 95.8 462.6 96.3 462.6 96.8 462.5 97.3 462.5 97.8 462.4 98.3 462.4 98.8 462.3 99.3 462.3 99.8 462.3 100.3 462.3 100.8 462.3 101.3 462.3 101.8 462.4 102.3 462.4 102.8 462.4 103.3 462.5 103.8 462.5 104.3 462.6 104.8 462.7 105.3 462.7 105.8 462.8 106.3 462.9 106.8 463.0 107.3 463.1 107.8 463.2 108.3 463.3 108.8 463.4 109.3 463.5 109.8 463.5 110.3 463.6 110.8 463.7 111.3 463.8 111.8 463.8 112.3 463.9 112.8 463.9 113.3 464.0 113.8 464.0 114.3 464.1 114.8 464.1 115.3 464.2 115.8 464.2 116.3 464.2 116.8 464.2 117.3 464.1 117.8 464.0 118.3 463.9 118.8 463.8 119.3 463.7 119.8 463.5 120.3 463.4 120.8 463.2 121.3 463.1 121.8 463.0 122.0 469.0 122.0 468.9 121.8 468.8 121.3 468.6 120.8 468.5 120.3 468.3 119.8 468.2 119.3 468.1 118.8 468.0 118.3 467.9 117.8 467.8 117.3 467.8 116.8 467.8 116.3 467.8 115.8 467.9 115.3 467.9 114.8 468.0 114.3 468.0 113.8 468.1 113.3 468.1 112.8 468.2 112.3 468.2 111.8 468.3 111.3 468.4 110.8 468.5 110.3 468.5 109.8 468.6 109.3 468.7 108.8 468.8 108.3 468.9 107.8 469.0 107.3 469.1 106.8 469.2 106.3 469.3 105.8 469.3 105.3 469.4 104.8 469.5 104.3 469.5 103.8 469.6 103.3 469.6 102.8 469.6 102.3 469.7 101.8 469.7 101.3 469.7 100.8 469.7 100.3 469.7 99.8 469.7 99.3 469.6 98.8 469.6 98.3 469.5 97.8 469.5 97.3 469.4 96.8 469.4 96.3 469.3 95.8 469.2 95.3 469.1 94.8 469.1 94.3 469.0 93.8 468.9 93.3 468.9 92.8 468.8 92.3 468.8 91.8 468.7 91.3 468.7 90.8 468.7 90.3 468.6 89.8 468.6 89.3 468.5 88.8 468.5 88.3 468.4 87.8 468.4 87.3 468.4 86.8 468.3 86.3 468.3 85.8 468.2 85.3 468.2 84.8 468.2 84.3 468.1 83.8 468.1 83.3 468.0 82.8 468.0 82.3 468.0 81.8 467.9 81.3 467.9 80.8 467.8 80.3 467.8 79.8 467.7 79.3 467.7 78.8 467.6 78.3 467.6 77.8 467.5 77.3 467.5 76.8 467.4 76.3 467.3 75.8 467.2 75.3 467.1 74.8 467.1 74.3 467.0 73.8 466.9 73.3 466.8 72.8 466.7 72.3 466.7 71.8 466.6 71.3 466.5 70.8 466.5 70.3 466.4 69.8 466.4 69.3 466.4 68.8 466.4 68.3 466.3 67.8 466.0 67.3 466.0 66.8 466.0 66.3 466.0 65.8 466.0 65.3 466.0 64.8 466.0 64.3 466.0 63.8 466.0 63.3 466.0 62.8 466.0 62.3 466.0 61.8 466.0 61.3 466.0 60.8 466.0 60.3 466.0 59.8 466.0 59.3 466.0 58.8 466.0 58.3 466.0 57.8 466.0 57.3 466.0 56.8 466.0 56.3 466.0 55.8 466.0 55.3 466.0 54.8 466.0 54.3 466.0 53.8 466.0 53.3 466.0 52.8 466.0 52.3 466.0 51.8Z" fill="#6f93db" stroke="#151515" stroke-width="0.75" stroke-linejoin="round"/>
<path d="M487.5 77.0 487.5 77.5 487.5 78.0 487.5 78.5 487.5 79.0 487.5 79.5 487.5 80.0 487.5 80.5 487.5 81.0 487.5 81.5 487.5 82.0 487.5 82.5 487.5 83.0 487.5 83.5 487.5 84.0 487.5 84.5 487.5 85.0 487.5 85.5 487.5 86.0 487.5 86.5 487.5 87.0 487.1 87.5 487.1 88.0 487.1 88.5 487.0 89.0 486.8 89.5 486.6 90.0 486.4 90.5 486.2 91.0 486.0 91.5 485.8 92.0 485.7 92.5 485.5 93.0 485.4 93.5 485.2 94.0 485.0 94.5 484.9 95.0 484.7 95.5 484.6 96.0 484.4 96.5 484.3 97.0 484.2 97.5 484.1 98.0 484.0 98.5 483.9 99.0 483.9 99.5 483.9 100.0 483.9 100.5 484.0 101.0 484.0 101.5 484.1 102.0 484.1 102.5 484.2 103.0 484.3 103.5 484.4 104.0 484.4 104.5 484.5 105.0 484.6 105.5 484.7 106.0 484.8 106.5 484.9 107.0 485.0 107.5 485.1 108.0 485.3 108.5 485.4 109.0 485.5 109.5 485.6 110.0 485.8 110.5 485.9 111.0 486.0 111.5 486.1 112.0 486.2 112.5 486.3 113.0 486.4 113.5 486.5 114.0 486.6 114.5 486.7 115.0 486.8 115.5 486.9 116.0 486.9 116.5 487.0 117.0 487.0 117.5 487.0 118.0 487.0 118.5 486.9 119.0 486.8 119.5 486.7 120.0 486.4 120.5 486.2 121.0 486.4 121.5 486.9 122.0 488.1 122.0 488.6 121.5 488.8 121.0 488.6 120.5 488.3 120.0 488.2 119.5 488.1 119.0 488.0 118.5 488.0 118.0 488.0 117.5 488.0 117.0 488.1 116.5 488.1 116.0 488.2 115.5 488.3 115.0 488.4 114.5 488.5 114.0 488.6 113.5 488.7 113.0 488.8 112.5 488.9 112.0 489.0 111.5 489.1 111.0 489.2 110.5 489.4 110.0 489.5 109.5 489.6 109.0 489.7 108.5 489.9 108.0 490.0 107.5 490.1 107.0 490.2 106.5 490.3 106.0 490.4 105.5 490.5 105.0 490.6 104.5 490.6 104.0 490.7 103.5 490.8 103.0 490.9 102.5 490.9 102.0 491.0 101.5 491.0 101.0 491.1 100.5 491.1 100.0 491.1 99.5 491.1 99.0 491.0 98.5 490.9 98.0 490.8 97.5 490.7 97.0 490.6 96.5 490.4 96.0 490.3 95.5 490.1 95.0 490.0 94.5 489.8 94.0 489.6 93.5 489.5 93.0 489.3 92.5 489.2 92.0 489.0 91.5 488.8 91.0 488.6 90.5 488.4 90.0 488.2 89.5 488.0 89.0 487.9 88.5 487.9 88.0 487.9 87.5 487.5 87.0 487.5 86.5 487.5 86.0 487.5 85.5 487.5 85.0 487.5 84.5 487.5 84.0 487.5 83.5 487.5 83.0 487.5 82.5 487.5 82.0 487.5 81.5 487.5 81.0 487.5 80.5 487.5 80.0 487.5 79.5 487.5 79.0 487.5 78.5 487.5 78.0 487.5 77.5 487.5 77.0Z" fill="#e8766c" stroke="#151515" stroke-width="0.75" stroke-linejoin="round"/>
<path d="M495.4 79.7 495.4 80.2 495.4 80.7 495.4 81.2 495.4 81.7 495.4 82.2 495.4 82.7 495.4 83.2 495.4 83.7 495.4 84.2 495.4 84.7 495.4 85.2 495.4 85.7 495.4 86.2 495.4 86.7 495.4 87.2 495.4 87.7 495.4 88.2 495.4 88.7 495.4 89.2 495.4 89.7 495.4 90.2 495.4 90.7 495.4 91.2 495.4 91.7 495.4 92.2 495.4 92.7 495.4 93.2 495.4 93.7 495.4 94.2 495.4 94.7 495.4 95.2 495.4 95.7 495.4 96.2 495.4 96.7 495.4 97.2 495.4 97.7 495.4 98.2 495.4 98.7 495.4 99.2 495.4 99.7 495.4 100.2 495.4 100.7 495.4 101.2 495.4 101.7 495.4 102.2 495.4 102.7 495.4 103.2 495.4 103.7 495.4 104.2 495.4 104.7 495.4 105.2 495.4 105.7 495.4 106.2 495.4 106.7 495.4 107.2 495.4 107.7 495.4 108.2 495.4 108.7 495.4 109.2 495.4 109.7 495.4 110.2 495.4 110.7 495.4 111.2 495.4 111.7 495.4 112.2 495.4 112.7 495.4 113.2 495.4 113.7 495.4 114.2 495.4 114.7 495.4 115.2 495.4 115.7 495.4 116.2 495.4 116.7 495.4 117.2 495.4 117.7 495.4 118.2 495.4 118.7 495.4 119.2 495.0 119.7 494.6 120.2 494.0 120.7 493.4 121.2 492.6 121.7 492.0 122.0 498.8 122.0 498.2 121.7 497.4 121.2 496.8 120.7 496.2 120.2 495.8 119.7 495.4 119.2 495.4 118.7 495.4 118.2 495.4 117.7 495.4 117.2 495.4 116.7 495.4 116.2 495.4 115.7 495.4 115.2 495.4 114.7 495.4 114.2 495.4 113.7 495.4 113.2 495.4 112.7 495.4 112.2 495.4 111.7 495.4 111.2 495.4 110.7 495.4 110.2 495.4 109.7 495.4 109.2 495.4 108.7 495.4 108.2 495.4 107.7 495.4 107.2 495.4 106.7 495.4 106.2 495.4 105.7 495.4 105.2 495.4 104.7 495.4 104.2 495.4 103.7 495.4 103.2 495.4 102.7 495.4 102.2 495.4 101.7 495.4 101.2 495.4 100.7 495.4 100.2 495.4 99.7 495.4 99.2 495.4 98.7 495.4 98.2 495.4 97.7 495.4 97.2 495.4 96.7 495.4 96.2 495.4 95.7 495.4 95.2 495.4 94.7 495.4 94.2 495.4 93.7 495.4 93.2 495.4 92.7 495.4 92.2 495.4 91.7 495.4 91.2 495.4 90.7 495.4 90.2 495.4 89.7 495.4 89.2 495.4 88.7 495.4 88.2 495.4 87.7 495.4 87.2 495.4 86.7 495.4 86.2 495.4 85.7 495.4 85.2 495.4 84.7 495.4 84.2 495.4 83.7 495.4 83.2 495.4 82.7 495.4 82.2 495.4 81.7 495.4 81.2 495.4 80.7 495.4 80.2 495.4 79.7Z" fill="#4fb04a" stroke="#151515" stroke-width="0.75" stroke-linejoin="round"/>
<path d="M503.4 51.8 503.4 52.3 503.4 52.8 503.4 53.3 503.4 53.8 503.4 54.3 503.4 54.8 503.4 55.3 503.4 55.8 503.4 56.3 503.4 56.8 503.4 57.3 503.4 57.8 503.4 58.3 503.4 58.8 503.4 59.3 503.4 59.8 503.4 60.3 503.4 60.8 503.4 61.3 503.4 61.8 503.4 62.3 503.4 62.8 503.4 63.3 503.4 63.8 503.0 64.3 503.0 64.8 503.0 65.3 502.9 65.8 502.9 66.3 502.8 66.8 502.8 67.3 502.7 67.8 502.6 68.3 502.5 68.8 502.4 69.3 502.3 69.8 502.3 70.3 502.2 70.8 502.1 71.3 502.0 71.8 501.9 72.3 501.8 72.8 501.7 73.3 501.6 73.8 501.6 74.3 501.5 74.8 501.4 75.3 501.3 75.8 501.3 76.3 501.2 76.8 501.1 77.3 501.1 77.8 501.0 78.3 500.9 78.8 500.9 79.3 500.8 79.8 500.8 80.3 500.7 80.8 500.7 81.3 500.6 81.8 500.5 82.3 500.5 82.8 500.4 83.3 500.4 83.8 500.3 84.3 500.3 84.8 500.3 85.3 500.2 85.8 500.2 86.3 500.1 86.8 500.1 87.3 500.0 87.8 500.0 88.3 500.0 88.8 499.9 89.3 499.9 89.8 499.9 90.3 499.8 90.8 499.8 91.3 499.8 91.8 499.8 92.3 499.8 92.8 499.8 93.3 499.8 93.8 499.8 94.3 499.8 94.8 499.8 95.3 499.8 95.8 499.8 96.3 499.8 96.8 499.8 97.3 499.9 97.8 499.9 98.3 499.9 98.8 499.9 99.3 499.9 99.8 499.9 100.3 499.9 100.8 500.0 101.3 500.0 101.8 500.0 102.3 500.1 102.8 500.1 103.3 500.1 103.8 500.2 104.3 500.2 104.8 500.2 105.3 500.3 105.8 500.3 106.3 500.3 106.8 500.4 107.3 500.4 107.8 500.5 108.3 500.5 108.8 500.5 109.3 500.6 109.8 500.6 110.3 500.7 110.8 500.7 111.3 500.8 111.8 500.9 112.3 500.9 112.8 501.0 113.3 501.0 113.8 501.1 114.3 501.1 114.8 501.1 115.3 501.1 115.8 501.1 116.3 501.1 116.8 501.1 117.3 501.1 117.8 501.1 118.3 501.1 118.8 501.1 119.3 500.9 119.8 500.7 120.3 500.6 120.8 500.6 121.3 500.6 121.8 500.6 122.0 506.2 122.0 506.2 121.8 506.2 121.3 506.2 120.8 506.1 120.3 505.9 119.8 505.7 119.3 505.7 118.8 505.7 118.3 505.7 117.8 505.7 117.3 505.7 116.8 505.7 116.3 505.7 115.8 505.7 115.3 505.7 114.8 505.7 114.3 505.8 113.8 505.8 113.3 505.9 112.8 505.9 112.3 506.0 111.8 506.1 111.3 506.1 110.8 506.2 110.3 506.2 109.8 506.3 109.3 506.3 108.8 506.3 108.3 506.4 107.8 506.4 107.3 506.5 106.8 506.5 106.3 506.5 105.8 506.6 105.3 506.6 104.8 506.6 104.3 506.7 103.8 506.7 103.3 506.7 102.8 506.8 102.3 506.8 101.8 506.8 101.3 506.9 100.8 506.9 100.3 506.9 99.8 506.9 99.3 506.9 98.8 506.9 98.3 506.9 97.8 507.0 97.3 507.0 96.8 507.0 96.3 507.0 95.8 507.0 95.3 507.0 94.8 507.0 94.3 507.0 93.8 507.0 93.3 507.0 92.8 507.0 92.3 507.0 91.8 507.0 91.3 507.0 90.8 506.9 90.3 506.9 89.8 506.9 89.3 506.8 88.8 506.8 88.3 506.8 87.8 506.7 87.3 506.7 86.8 506.6 86.3 506.6 85.8 506.5 85.3 506.5 84.8 506.5 84.3 506.4 83.8 506.4 83.3 506.3 82.8 506.3 82.3 506.2 81.8 506.1 81.3 506.1 80.8 506.0 80.3 506.0 79.8 505.9 79.3 505.9 78.8 505.8 78.3 505.7 77.8 505.7 77.3 505.6 76.8 505.5 76.3 505.5 75.8 505.4 75.3 505.3 74.8 505.2 74.3 505.2 73.8 505.1 73.3 505.0 72.8 504.9 72.3 504.8 71.8 504.7 71.3 504.6 70.8 504.5 70.3 504.5 69.8 504.4 69.3 504.3 68.8 504.2 68.3 504.1 67.8 504.0 67.3 504.0 66.8 503.9 66.3 503.9 65.8 503.8 65.3 503.8 64.8 503.8 64.3 503.4 63.8 503.4 63.3 503.4 62.8 503.4 62.3 503.4 61.8 503.4 61.3 503.4 60.8 503.4 60.3 503.4 59.8 503.4 59.3 503.4 58.8 503.4 58.3 503.4 57.8 503.4 57.3 503.4 56.8 503.4 56.3 503.4 55.8 503.4 55.3 503.4 54.8 503.4 54.3 503.4 53.8 503.4 53.3 503.4 52.8 503.4 52.3 503.4 51.8Z" fill="#6f93db" stroke="#151515" stroke-width="0.75" stroke-linejoin="round"/>
<path d="M303.0 170.8 303.0 171.3 303.0 171.8 303.0 172.3 303.0 172.8 303.0 173.3 303.0 173.8 303.0 174.3 303.0 174.8 303.0 175.3 303.0 175.8 303.0 176.3 303.0 176.8 303.0 177.3 303.0 177.8 303.0 178.3 303.0 178.8 303.0 179.3 303.0 179.8 303.0 180.3 303.0 180.8 303.0 181.3 303.0 181.8 303.0 182.3 303.0 182.8 303.0 183.3 303.0 183.8 303.0 184.3 303.0 184.8 303.0 185.3 303.0 185.8 303.0 186.3 303.0 186.8 303.0 187.3 303.0 187.8 303.0 188.3 303.0 188.8 303.0 189.3 303.0 189.8 302.6 190.3 302.6 190.8 302.6 191.3 302.6 191.8 302.5 192.3 302.4 192.8 302.3 193.3 302.2 193.8 302.0 194.3 301.9 194.8 301.8 195.3 301.6 195.8 301.5 196.3 301.4 196.8 301.3 197.3 301.2 197.8 301.1 198.3 301.1 198.8 301.0 199.3 300.9 199.8 300.9 200.3 300.8 200.8 300.8 201.3 300.7 201.8 300.7 202.3 300.7 202.8 300.7 203.3 300.6 203.8 300.6 204.3 300.6 204.8 300.6 205.3 300.6 205.8 300.6 206.3 300.6 206.8 300.5 207.3 300.5 207.8 300.5 208.3 300.5 208.8 300.5 209.3 300.5 209.8 300.5 210.3 300.5 210.8 300.5 211.3 300.5 211.8 300.6 212.3 300.7 212.8 300.8 213.3 300.9 213.8 301.0 214.3 301.2 214.8 301.3 215.3 301.5 215.8 301.7 216.3 301.8 216.8 301.8 217.3 301.7 217.8 301.6 218.3 301.5 218.8 301.3 219.3 300.9 219.8 300.5 220.3 300.1 220.8 299.8 221.3 299.5 221.8 299.4 222.0 306.6 222.0 306.5 221.8 306.2 221.3 305.9 220.8 305.5 220.3 305.1 219.8 304.7 219.3 304.5 218.8 304.4 218.3 304.3 217.8 304.2 217.3 304.2 216.8 304.3 216.3 304.5 215.8 304.7 215.3 304.8 214.8 305.0 214.3 305.1 213.8 305.2 213.3 305.3 212.8 305.4 212.3 305.5 211.8 305.5 211.3 305.5 210.8 305.5 210.3 305.5 209.8 305.5 209.3 305.5 208.8 305.5 208.3 305.5 207.8 305.5 207.3 305.4 206.8 305.4 206.3 305.4 205.8 305.4 205.3 305.4 204.8 305.4 204.3 305.4 203.8 305.3 203.3 305.3 202.8 305.3 202.3 305.3 201.8 305.2 201.3 305.2 200.8 305.1 200.3 305.1 199.8 305.0 199.3 304.9 198.8 304.9 198.3 304.8 197.8 304.7 197.3 304.6 196.8 304.5 196.3 304.4 195.8 304.2 195.3 304.1 194.8 304.0 194.3 303.8 193.8 303.7 193.3 303.6 192.8 303.5 192.3 303.4 191.8 303.4 191.3 303.4 190.8 303.4 190.3 303.0 189.8 303.0 189.3 303.0 188.8 303.0 188.3 303.0 187.8 303.0 187.3 303.0 186.8 303.0 186.3 303.0 185.8 303.0 185.3 303.0 184.8 303.0 184.3 303.0 183.8 303.0 183.3 303.0 182.8 303.0 182.3 303.0 181.8 303.0 181.3 303.0 180.8 303.0 180.3 303.0 179.8 303.0 179.3 303.0 178.8 303.0 178.3 303.0 177.8 303.0 177.3 303.0 176.8 303.0 176.3 303.0 175.8 303.0 175.3 303.0 174.8 303.0 174.3 303.0 173.8 303.0 173.3 303.0 172.8 303.0 172.3 303.0 171.8 303.0 171.3 303.0 170.8Z" fill="#e8766c" stroke="#151515" stroke-width="0.75" stroke-linejoin="round"/>
<path d="M318.9 152.0 318.9 152.5 318.9 153.0 318.9 153.5 318.9 154.0 318.9 154.5 318.9 155.0 318.9 155.5 318.9 156.0 318.9 156.5 318.9 157.0 318.9 157.5 318.9 158.0 318.9 158.5 318.9 159.0 318.9 159.5 318.9 160.0 318.9 160.5 318.9 161.0 318.9 161.5 318.9 162.0 318.9 162.5 318.9 163.0 318.5 163.5 318.5 164.0 318.5 164.5 318.4 165.0 318.3 165.5 318.2 166.0 318.1 166.5 318.0 167.0 317.9 167.5 317.8 168.0 317.6 168.5 317.5 169.0 317.4 169.5 317.3 170.0 317.2 170.5 317.1 171.0 317.0 171.5 316.9 172.0 316.9 172.5 316.8 173.0 316.7 173.5 316.6 174.0 316.5 174.5 316.5 175.0 316.4 175.5 316.3 176.0 316.2 176.5 316.2 177.0 316.1 177.5 316.0 178.0 315.9 178.5 315.9 179.0 315.8 179.5 315.7 180.0 315.7 180.5 315.6 181.0 315.6 181.5 315.5 182.0 315.4 182.5 315.4 183.0 315.3 183.5 315.2 184.0 315.2 184.5 315.1 185.0 315.1 185.5 315.1 186.0 315.1 186.5 315.1 187.0 315.1 187.5 315.1 188.0 315.1 188.5 315.1 189.0 315.1 189.5 315.1 190.0 315.1 190.5 315.1 191.0 315.1 191.5 315.1 192.0 315.1 192.5 315.1 193.0 315.1 193.5 315.1 194.0 315.1 194.5 315.1 195.0 315.1 195.5 315.1 196.0 315.1 196.5 315.1 197.0 315.1 197.5 315.1 198.0 315.1 198.5 315.2 199.0 315.2 199.5 315.2 200.0 315.3 200.5 315.3 201.0 315.3 201.5 315.4 202.0 315.4 202.5 315.4 203.0 315.5 203.5 315.5 204.0 315.5 204.5 315.6 205.0 315.6 205.5 315.6 206.0 315.7 206.5 315.7 207.0 315.7 207.5 315.8 208.0 315.8 208.5 315.8 209.0 315.9 209.5 315.9 210.0 315.9 210.5 316.0 211.0 316.0 211.5 316.0 212.0 316.1 212.5 316.1 213.0 316.1 213.5 316.2 214.0 316.2 214.5 316.2 215.0 316.3 215.5 316.3 216.0 316.3 216.5 316.3 217.0 316.3 217.5 316.2 218.0 316.1 218.5 315.9 219.0 315.8 219.5 315.7 220.0 315.6 220.5 315.5 221.0 315.5 221.5 315.4 222.0 322.4 222.0 322.3 221.5 322.3 221.0 322.2 220.5 322.1 220.0 322.0 219.5 321.9 219.0 321.7 218.5 321.6 218.0 321.5 217.5 321.5 217.0 321.5 216.5 321.5 216.0 321.5 215.5 321.6 215.0 321.6 214.5 321.6 214.0 321.7 213.5 321.7 213.0 321.7 212.5 321.8 212.0 321.8 211.5 321.8 211.0 321.9 210.5 321.9 210.0 321.9 209.5 322.0 209.0 322.0 208.5 322.0 208.0 322.1 207.5 322.1 207.0 322.1 206.5 322.2 206.0 322.2 205.5 322.2 205.0 322.3 204.5 322.3 204.0 322.3 203.5 322.4 203.0 322.4 202.5 322.4 202.0 322.5 201.5 322.5 201.0 322.5 200.5 322.6 200.0 322.6 199.5 322.6 199.0 322.7 198.5 322.7 198.0 322.7 197.5 322.7 197.0 322.7 196.5 322.7 196.0 322.7 195.5 322.7 195.0 322.7 194.5 322.7 194.0 322.7 193.5 322.7 193.0 322.7 192.5 322.7 192.0 322.7 191.5 322.7 191.0 322.7 190.5 322.7 190.0 322.7 189.5 322.7 189.0 322.7 188.5 322.7 188.0 322.7 187.5 322.7 187.0 322.7 186.5 322.7 186.0 322.7 185.5 322.7 185.0 322.6 184.5 322.6 184.0 322.5 183.5 322.4 183.0 322.4 182.5 322.3 182.0 322.2 181.5 322.2 181.0 322.1 180.5 322.1 180.0 322.0 179.5 321.9 179.0 321.9 178.5 321.8 178.0 321.7 177.5 321.6 177.0 321.6 176.5 321.5 176.0 321.4 175.5 321.3 175.0 321.3 174.5 321.2 174.0 321.1 173.5 321.0 173.0 320.9 172.5 320.9 172.0 320.8 171.5 320.7 171.0 320.6 170.5 320.5 170.0 320.4 169.5 320.3 169.0 320.2 168.5 320.0 168.0 319.9 167.5 319.8 167.0 319.7 166.5 319.6 166.0 319.5 165.5 319.4 165.0 319.3 164.5 319.3 164.0 319.3 163.5 318.9 163.0 318.9 162.5 318.9 162.0 318.9 161.5 318.9 161.0 318.9 160.5 318.9 160.0 318.9 159.5 318.9 159.0 318.9 158.5 318.9 158.0 318.9 157.5 318.9 157.0 318.9 156.5 318.9 156.0 318.9 155.5 318.9 155.0 318.9 154.5 318.9 154.0 318.9 153.5 318.9 153.0 318.9 152.5 318.9 152.0Z" fill="#6f93db" stroke="#151515" stroke-width="0.75" stroke-linejoin="round"/>
<path d="M339.9 172.0 339.9 172.5 339.9 173.0 339.9 173.5 339.9 174.0 339.9 174.5 339.9 175.0 339.9 175.5 339.9 176.0 339.9 176.5 339.9 177.0 339.9 177.5 339.9 178.0 339.9 178.5 339.9 179.0 339.9 179.5 339.9 180.0 339.9 180.5 339.9 181.0 339.9 181.5 339.9 182.0 339.9 182.5 339.9 183.0 339.9 183.5 339.9 184.0 339.9 184.5 339.9 185.0 339.9 185.5 339.9 186.0 339.9 186.5 339.9 187.0 339.9 187.5 339.9 188.0 339.9 188.5 339.9 189.0 339.9 189.5 339.9 190.0 339.9 190.5 339.9 191.0 339.9 191.5 339.9 192.0 339.9 192.5 339.9 193.0 339.9 193.5 339.9 194.0 339.9 194.5 339.9 195.0 339.9 195.5 339.9 196.0 339.9 196.5 339.9 197.0 339.9 197.5 339.9 198.0 339.9 198.5 339.9 199.0 339.9 199.5 339.9 200.0 339.9 200.5 339.9 201.0 339.9 201.5 339.9 202.0 339.9 202.5 339.9 203.0 339.9 203.5 339.9 204.0 339.9 204.5 339.9 205.0 339.9 205.5 339.9 206.0 339.9 206.5 339.9 207.0 339.9 207.5 339.9 208.0 339.9 208.5 339.9 209.0 339.9 209.5 339.9 210.0 339.9 210.5 339.9 211.0 339.9 211.5 339.9 212.0 339.9 212.5 339.9 213.0 339.9 213.5 339.9 214.0 339.9 214.5 339.9 215.0 339.9 215.5 339.9 216.0 339.9 216.5 339.9 217.0 339.9 217.5 339.9 218.0 339.9 218.5 339.5 219.0 339.2 219.5 338.6 220.0 338.1 220.5 337.6 221.0 337.0 221.5 336.4 222.0 343.4 222.0 342.8 221.5 342.2 221.0 341.7 220.5 341.2 220.0 340.6 219.5 340.3 219.0 339.9 218.5 339.9 218.0 339.9 217.5 339.9 217.0 339.9 216.5 339.9 216.0 339.9 215.5 339.9 215.0 339.9 214.5 339.9 214.0 339.9 213.5 339.9 213.0 339.9 212.5 339.9 212.0 339.9 211.5 339.9 211.0 339.9 210.5 339.9 210.0 339.9 209.5 339.9 209.0 339.9 208.5 339.9 208.0 339.9 207.5 339.9 207.0 339.9 206.5 339.9 206.0 339.9 205.5 339.9 205.0 339.9 204.5 339.9 204.0 339.9 203.5 339.9 203.0 339.9 202.5 339.9 202.0 339.9 201.5 339.9 201.0 339.9 200.5 339.9 200.0 339.9 199.5 339.9 199.0 339.9 198.5 339.9 198.0 339.9 197.5 339.9 197.0 339.9 196.5 339.9 196.0 339.9 195.5 339.9 195.0 339.9 194.5 339.9 194.0 339.9 193.5 339.9 193.0 339.9 192.5 339.9 192.0 339.9 191.5 339.9 191.0 339.9 190.5 339.9 190.0 339.9 189.5 339.9 189.0 339.9 188.5 339.9 188.0 339.9 187.5 339.9 187.0 339.9 186.5 339.9 186.0 339.9 185.5 339.9 185.0 339.9 184.5 339.9 184.0 339.9 183.5 339.9 183.0 339.9 182.5 339.9 182.0 339.9 181.5 339.9 181.0 339.9 180.5 339.9 180.0 339.9 179.5 339.9 179.0 339.9 178.5 339.9 178.0 339.9 177.5 339.9 177.0 339.9 176.5 339.9 176.0 339.9 175.5 339.9 175.0 339.9 174.5 339.9 174.0 339.9 173.5 339.9 173.0 339.9 172.5 339.9 172.0Z" fill="#e8766c" stroke="#151515" stroke-width="0.75" stroke-linejoin="round"/>
<path d="M355.9 152.0 355.9 152.5 355.9 153.0 355.9 153.5 355.9 154.0 355.9 154.5 355.9 155.0 355.9 155.5 355.9 156.0 355.9 156.5 355.9 157.0 355.9 157.5 355.9 158.0 355.9 158.5 355.9 159.0 355.9 159.5 355.9 160.0 355.5 160.5 355.5 161.0 355.4 161.5 355.4 162.0 355.3 162.5 355.2 163.0 355.1 163.5 355.1 164.0 355.0 164.5 354.9 165.0 354.8 165.5 354.7 166.0 354.6 166.5 354.5 167.0 354.4 167.5 354.3 168.0 354.2 168.5 354.2 169.0 354.1 169.5 354.0 170.0 354.0 170.5 353.9 171.0 353.8 171.5 353.8 172.0 353.7 172.5 353.6 173.0 353.6 173.5 353.5 174.0 353.5 174.5 353.4 175.0 353.4 175.5 353.3 176.0 353.3 176.5 353.2 177.0 353.2 177.5 353.1 178.0 353.1 178.5 353.0 179.0 353.0 179.5 352.9 180.0 352.9 180.5 352.8 181.0 352.8 181.5 352.8 182.0 352.7 182.5 352.7 183.0 352.7 183.5 352.6 184.0 352.6 184.5 352.6 185.0 352.5 185.5 352.5 186.0 352.5 186.5 352.4 187.0 352.4 187.5 352.4 188.0 352.4 188.5 352.3 189.0 352.3 189.5 352.3 190.0 352.3 190.5 352.2 191.0 352.2 191.5 352.2 192.0 352.2 192.5 352.2 193.0 352.1 193.5 352.1 194.0 352.1 194.5 352.1 195.0 352.1 195.5 352.1 196.0 352.1 196.5 352.1 197.0 352.1 197.5 352.2 198.0 352.2 198.5 352.2 199.0 352.3 199.5 352.3 200.0 352.4 200.5 352.4 201.0 352.5 201.5 352.5 202.0 352.5 202.5 352.6 203.0 352.6 203.5 352.7 204.0 352.7 204.5 352.8 205.0 352.8 205.5 352.9 206.0 352.9 206.5 353.0 207.0 353.0 207.5 353.1 208.0 353.1 208.5 353.1 209.0 353.1 209.5 353.2 210.0 353.2 210.5 353.2 211.0 353.2 211.5 353.3 212.0 353.3 212.5 353.3 213.0 353.3 213.5 353.3 214.0 353.4 214.5 353.4 215.0 353.4 215.5 353.4 216.0 353.4 216.5 353.4 217.0 353.4 217.5 353.3 218.0 353.3 218.5 353.2 219.0 353.2 219.5 353.1 220.0 353.0 220.5 353.0 221.0 352.9 221.5 352.9 222.0 358.9 222.0 358.8 221.5 358.8 221.0 358.8 220.5 358.7 220.0 358.6 219.5 358.6 219.0 358.5 218.5 358.5 218.0 358.4 217.5 358.4 217.0 358.4 216.5 358.4 216.0 358.4 215.5 358.4 215.0 358.4 214.5 358.5 214.0 358.5 213.5 358.5 213.0 358.5 212.5 358.5 212.0 358.6 211.5 358.6 211.0 358.6 210.5 358.6 210.0 358.7 209.5 358.7 209.0 358.7 208.5 358.7 208.0 358.8 207.5 358.8 207.0 358.9 206.5 358.9 206.0 359.0 205.5 359.0 205.0 359.1 204.5 359.1 204.0 359.2 203.5 359.2 203.0 359.3 202.5 359.3 202.0 359.3 201.5 359.4 201.0 359.4 200.5 359.5 200.0 359.5 199.5 359.6 199.0 359.6 198.5 359.6 198.0 359.7 197.5 359.7 197.0 359.7 196.5 359.7 196.0 359.7 195.5 359.7 195.0 359.7 194.5 359.7 194.0 359.7 193.5 359.6 193.0 359.6 192.5 359.6 192.0 359.6 191.5 359.6 191.0 359.5 190.5 359.5 190.0 359.5 189.5 359.5 189.0 359.4 188.5 359.4 188.0 359.4 187.5 359.4 187.0 359.3 186.5 359.3 186.0 359.3 185.5 359.2 185.0 359.2 184.5 359.2 184.0 359.1 183.5 359.1 183.0 359.1 182.5 359.0 182.0 359.0 181.5 359.0 181.0 358.9 180.5 358.9 180.0 358.8 179.5 358.8 179.0 358.7 178.5 358.7 178.0 358.6 177.5 358.6 177.0 358.5 176.5 358.5 176.0 358.4 175.5 358.4 175.0 358.3 174.5 358.3 174.0 358.2 173.5 358.2 173.0 358.1 172.5 358.0 172.0 358.0 171.5 357.9 171.0 357.8 170.5 357.8 170.0 357.7 169.5 357.6 169.0 357.6 168.5 357.5 168.0 357.4 167.5 357.3 167.0 357.2 166.5 357.1 166.0 357.0 165.5 356.9 165.0 356.8 164.5 356.7 164.0 356.7 163.5 356.6 163.0 356.5 162.5 356.4 162.0 356.4 161.5 356.3 161.0 356.3 160.5 355.9 160.0 355.9 159.5 355.9 159.0 355.9 158.5 355.9 158.0 355.9 157.5 355.9 157.0 355.9 156.5 355.9 156.0 355.9 155.5 355.9 155.0 355.9 154.5 355.9 154.0 355.9 153.5 355.9 153.0 355.9 152.5 355.9 152.0Z" fill="#6f93db" stroke="#151515" stroke-width="0.75" stroke-linejoin="round"/>
<path d="M377.1 174.9 377.1 175.4 377.1 175.9 377.1 176.4 377.1 176.9 377.1 177.4 377.1 177.9 377.1 178.4 377.1 178.9 377.1 179.4 377.1 179.9 377.1 180.4 377.1 180.9 377.1 181.4 377.1 181.9 377.1 182.4 377.1 182.9 377.1 183.4 377.1 183.9 377.1 184.4 377.1 184.9 377.1 185.4 377.1 185.9 377.1 186.4 377.1 186.9 377.1 187.4 377.1 187.9 376.7 188.4 376.7 188.9 376.7 189.4 376.6 189.9 376.4 190.4 376.3 190.9 376.1 191.4 375.9 191.9 375.7 192.4 375.5 192.9 375.3 193.4 375.1 193.9 375.0 194.4 374.8 194.9 374.6 195.4 374.4 195.9 374.2 196.4 374.0 196.9 373.8 197.4 373.7 197.9 373.6 198.4 373.5 198.9 373.4 199.4 373.4 199.9 373.4 200.4 373.5 200.9 373.6 201.4 373.7 201.9 373.8 202.4 373.9 202.9 374.1 203.4 374.2 203.9 374.4 204.4 374.5 204.9 374.6 205.4 374.7 205.9 374.9 206.4 375.0 206.9 375.1 207.4 375.3 207.9 375.4 208.4 375.5 208.9 375.7 209.4 375.8 209.9 375.9 210.4 376.0 210.9 376.1 211.4 376.2 211.9 376.3 212.4 376.4 212.9 376.5 213.4 376.5 213.9 376.6 214.4 376.6 214.9 376.6 215.4 376.6 215.9 376.7 216.4 376.7 216.9 376.7 217.4 376.7 217.9 376.7 218.4 376.7 218.9 376.6 219.4 376.3 219.9 376.1 220.4 376.1 220.9 376.2 221.4 376.4 221.9 376.5 222.0 377.7 222.0 377.8 221.9 378.0 221.4 378.1 220.9 378.1 220.4 377.9 219.9 377.6 219.4 377.5 218.9 377.5 218.4 377.5 217.9 377.5 217.4 377.5 216.9 377.5 216.4 377.6 215.9 377.6 215.4 377.6 214.9 377.6 214.4 377.7 213.9 377.7 213.4 377.8 212.9 377.9 212.4 378.0 211.9 378.1 211.4 378.2 210.9 378.3 210.4 378.4 209.9 378.5 209.4 378.7 208.9 378.8 208.4 378.9 207.9 379.1 207.4 379.2 206.9 379.3 206.4 379.5 205.9 379.6 205.4 379.7 204.9 379.8 204.4 380.0 203.9 380.1 203.4 380.3 202.9 380.4 202.4 380.5 201.9 380.6 201.4 380.7 200.9 380.8 200.4 380.8 199.9 380.8 199.4 380.7 198.9 380.6 198.4 380.5 197.9 380.4 197.4 380.2 196.9 380.0 196.4 379.8 195.9 379.6 195.4 379.4 194.9 379.2 194.4 379.1 193.9 378.9 193.4 378.7 192.9 378.5 192.4 378.3 191.9 378.1 191.4 377.9 190.9 377.8 190.4 377.6 189.9 377.5 189.4 377.5 188.9 377.5 188.4 377.1 187.9 377.1 187.4 377.1 186.9 377.1 186.4 377.1 185.9 377.1 185.4 377.1 184.9 377.1 184.4 377.1 183.9 377.1 183.4 377.1 182.9 377.1 182.4 377.1 181.9 377.1 181.4 377.1 180.9 377.1 180.4 377.1 179.9 377.1 179.4 377.1 178.9 377.1 178.4 377.1 177.9 377.1 177.4 377.1 176.9 377.1 176.4 377.1 175.9 377.1 175.4 377.1 174.9Z" fill="#e8766c" stroke="#151515" stroke-width="0.75" stroke-linejoin="round"/>
<path d="M384.9 192.7 384.9 193.2 384.9 193.7 384.9 194.2 384.9 194.7 384.9 195.2 384.9 195.7 384.9 196.2 384.9 196.7 384.9 197.2 384.9 197.7 384.9 198.2 384.9 198.7 384.9 199.2 384.9 199.7 384.9 200.2 384.9 200.7 384.9 201.2 384.9 201.7 384.9 202.2 384.9 202.7 384.9 203.2 384.9 203.7 384.9 204.2 384.9 204.7 384.9 205.2 384.9 205.7 384.9 206.2 384.9 206.7 384.9 207.2 384.9 207.7 384.9 208.2 384.9 208.7 384.9 209.2 384.5 209.7 384.5 210.2 384.4 210.7 384.4 211.2 384.3 211.7 384.2 212.2 384.1 212.7 384.1 213.2 384.0 213.7 383.9 214.2 383.9 214.7 383.8 215.2 383.7 215.7 383.6 216.2 383.5 216.7 383.3 217.2 383.2 217.7 383.0 218.2 382.8 218.7 382.6 219.2 382.3 219.7 382.1 220.2 381.9 220.7 381.6 221.2 381.4 221.7 381.2 222.0 388.6 222.0 388.4 221.7 388.2 221.2 387.9 220.7 387.7 220.2 387.5 219.7 387.2 219.2 387.0 218.7 386.8 218.2 386.6 217.7 386.5 217.2 386.3 216.7 386.2 216.2 386.1 215.7 386.0 215.2 385.9 214.7 385.9 214.2 385.8 213.7 385.7 213.2 385.7 212.7 385.6 212.2 385.5 211.7 385.4 211.2 385.4 210.7 385.3 210.2 385.3 209.7 384.9 209.2 384.9 208.7 384.9 208.2 384.9 207.7 384.9 207.2 384.9 206.7 384.9 206.2 384.9 205.7 384.9 205.2 384.9 204.7 384.9 204.2 384.9 203.7 384.9 203.2 384.9 202.7 384.9 202.2 384.9 201.7 384.9 201.2 384.9 200.7 384.9 200.2 384.9 199.7 384.9 199.2 384.9 198.7 384.9 198.2 384.9 197.7 384.9 197.2 384.9 196.7 384.9 196.2 384.9 195.7 384.9 195.2 384.9 194.7 384.9 194.2 384.9 193.7 384.9 193.2 384.9 192.7Z" fill="#4fb04a" stroke="#151515" stroke-width="0.75" stroke-linejoin="round"/>
<path d="M392.8 151.8 392.8 152.3 392.3 152.8 392.1 153.3 391.9 153.8 391.7 154.3 391.5 154.8 391.3 155.3 391.1 155.8 390.9 156.3 390.8 156.8 390.6 157.3 390.5 157.8 390.3 158.3 390.2 158.8 390.1 159.3 390.0 159.8 389.9 160.3 389.8 160.8 389.7 161.3 389.6 161.8 389.6 162.3 389.5 162.8 389.5 163.3 389.4 163.8 389.4 164.3 389.3 164.8 389.3 165.3 389.2 165.8 389.2 166.3 389.2 166.8 389.2 167.3 389.2 167.8 389.1 168.3 389.1 168.8 389.1 169.3 389.1 169.8 389.1 170.3 389.1 170.8 389.0 171.3 389.0 171.8 389.0 172.3 389.0 172.8 389.0 173.3 389.0 173.8 389.0 174.3 389.0 174.8 389.0 175.3 389.0 175.8 389.0 176.3 389.0 176.8 389.0 177.3 389.0 177.8 389.0 178.3 389.0 178.8 389.0 179.3 389.0 179.8 389.0 180.3 389.0 180.8 389.1 181.3 389.1 181.8 389.1 182.3 389.1 182.8 389.1 183.3 389.1 183.8 389.1 184.3 389.1 184.8 389.1 185.3 389.2 185.8 389.2 186.3 389.2 186.8 389.3 187.3 389.3 187.8 389.4 188.3 389.4 188.8 389.5 189.3 389.5 189.8 389.6 190.3 389.6 190.8 389.7 191.3 389.7 191.8 389.8 192.3 389.9 192.8 389.9 193.3 390.0 193.8 390.1 194.3 390.1 194.8 390.2 195.3 390.3 195.8 390.4 196.3 390.4 196.8 390.5 197.3 390.6 197.8 390.7 198.3 390.7 198.8 390.8 199.3 390.9 199.8 391.0 200.3 391.0 200.8 391.1 201.3 391.2 201.8 391.3 202.3 391.3 202.8 391.4 203.3 391.5 203.8 391.5 204.3 391.6 204.8 391.6 205.3 391.7 205.8 391.8 206.3 391.8 206.8 391.9 207.3 391.9 207.8 392.0 208.3 392.0 208.8 392.0 209.3 392.1 209.8 392.1 210.3 392.2 210.8 392.2 211.3 392.3 211.8 392.3 212.3 392.3 212.8 392.4 213.3 392.4 213.8 392.4 214.3 392.4 214.8 392.4 215.3 392.4 215.8 392.4 216.3 392.4 216.8 392.4 217.3 392.4 217.8 392.4 218.3 392.3 218.8 392.3 219.3 392.3 219.8 392.2 220.3 391.9 220.8 391.8 221.3 392.0 221.8 392.2 222.0 393.4 222.0 393.6 221.8 393.8 221.3 393.7 220.8 393.4 220.3 393.3 219.8 393.3 219.3 393.3 218.8 393.2 218.3 393.2 217.8 393.2 217.3 393.2 216.8 393.2 216.3 393.2 215.8 393.2 215.3 393.2 214.8 393.2 214.3 393.2 213.8 393.2 213.3 393.3 212.8 393.3 212.3 393.3 211.8 393.4 211.3 393.4 210.8 393.5 210.3 393.5 209.8 393.6 209.3 393.6 208.8 393.6 208.3 393.7 207.8 393.7 207.3 393.8 206.8 393.8 206.3 393.9 205.8 394.0 205.3 394.0 204.8 394.1 204.3 394.1 203.8 394.2 203.3 394.3 202.8 394.3 202.3 394.4 201.8 394.5 201.3 394.6 200.8 394.6 200.3 394.7 199.8 394.8 199.3 394.9 198.8 394.9 198.3 395.0 197.8 395.1 197.3 395.2 196.8 395.2 196.3 395.3 195.8 395.4 195.3 395.5 194.8 395.5 194.3 395.6 193.8 395.7 193.3 395.7 192.8 395.8 192.3 395.9 191.8 395.9 191.3 396.0 190.8 396.0 190.3 396.1 189.8 396.1 189.3 396.2 188.8 396.2 188.3 396.3 187.8 396.3 187.3 396.4 186.8 396.4 186.3 396.4 185.8 396.5 185.3 396.5 184.8 396.5 184.3 396.5 183.8 396.5 183.3 396.5 182.8 396.5 182.3 396.5 181.8 396.5 181.3 396.6 180.8 396.6 180.3 396.6 179.8 396.6 179.3 396.6 178.8 396.6 178.3 396.6 177.8 396.6 177.3 396.6 176.8 396.6 176.3 396.6 175.8 396.6 175.3 396.6 174.8 396.6 174.3 396.6 173.8 396.6 173.3 396.6 172.8 396.6 172.3 396.6 171.8 396.6 171.3 396.5 170.8 396.5 170.3 396.5 169.8 396.5 169.3 396.5 168.8 396.5 168.3 396.4 167.8 396.4 167.3 396.4 166.8 396.4 166.3 396.4 165.8 396.3 165.3 396.3 164.8 396.2 164.3 396.2 163.8 396.1 163.3 396.1 162.8 396.0 162.3 396.0 161.8 395.9 161.3 395.8 160.8 395.7 160.3 395.6 159.8 395.5 159.3 395.4 158.8 395.3 158.3 395.1 157.8 395.0 157.3 394.8 156.8 394.7 156.3 394.5 155.8 394.3 155.3 394.1 154.8 393.9 154.3 393.7 153.8 393.5 153.3 393.3 152.8 392.8 152.3 392.8 151.8Z" fill="#6f93db" stroke="#151515" stroke-width="0.75" stroke-linejoin="round"/>
<path d="M414.1 191.0 414.1 191.5 414.1 192.0 414.1 192.5 414.1 193.0 414.1 193.5 414.1 194.0 414.1 194.5 414.1 195.0 414.1 195.5 414.1 196.0 414.1 196.5 414.1 197.0 414.1 197.5 414.1 198.0 414.1 198.5 414.1 199.0 414.1 199.5 414.1 200.0 414.1 200.5 414.1 201.0 414.1 201.5 414.1 202.0 414.1 202.5 414.1 203.0 414.1 203.5 414.1 204.0 414.1 204.5 414.1 205.0 414.1 205.5 414.1 206.0 414.1 206.5 414.1 207.0 414.1 207.5 414.1 208.0 414.1 208.5 414.1 209.0 414.1 209.5 414.1 210.0 414.1 210.5 414.1 211.0 414.1 211.5 414.1 212.0 414.1 212.5 414.1 213.0 414.1 213.5 414.1 214.0 414.1 214.5 414.1 215.0 414.1 215.5 414.1 216.0 414.1 216.5 414.1 217.0 414.1 217.5 414.1 218.0 414.1 218.5 414.1 219.0 413.5 219.5 412.9 220.0 412.3 220.5 411.8 221.0 411.2 221.5 410.6 222.0 417.6 222.0 417.0 221.5 416.4 221.0 415.9 220.5 415.3 220.0 414.7 219.5 414.1 219.0 414.1 218.5 414.1 218.0 414.1 217.5 414.1 217.0 414.1 216.5 414.1 216.0 414.1 215.5 414.1 215.0 414.1 214.5 414.1 214.0 414.1 213.5 414.1 213.0 414.1 212.5 414.1 212.0 414.1 211.5 414.1 211.0 414.1 210.5 414.1 210.0 414.1 209.5 414.1 209.0 414.1 208.5 414.1 208.0 414.1 207.5 414.1 207.0 414.1 206.5 414.1 206.0 414.1 205.5 414.1 205.0 414.1 204.5 414.1 204.0 414.1 203.5 414.1 203.0 414.1 202.5 414.1 202.0 414.1 201.5 414.1 201.0 414.1 200.5 414.1 200.0 414.1 199.5 414.1 199.0 414.1 198.5 414.1 198.0 414.1 197.5 414.1 197.0 414.1 196.5 414.1 196.0 414.1 195.5 414.1 195.0 414.1 194.5 414.1 194.0 414.1 193.5 414.1 193.0 414.1 192.5 414.1 192.0 414.1 191.5 414.1 191.0Z" fill="#e8766c" stroke="#151515" stroke-width="0.75" stroke-linejoin="round"/>
<path d="M429.9 152.0 429.9 152.5 429.9 153.0 429.9 153.5 429.9 154.0 429.9 154.5 429.9 155.0 429.9 155.5 429.9 156.0 429.9 156.5 429.9 157.0 429.9 157.5 429.9 158.0 429.9 158.5 429.9 159.0 429.9 159.5 429.9 160.0 429.9 160.5 429.9 161.0 429.9 161.5 429.9 162.0 429.9 162.5 429.9 163.0 429.9 163.5 429.9 164.0 429.9 164.5 429.9 165.0 429.9 165.5 429.9 166.0 429.9 166.5 429.9 167.0 429.9 167.5 429.9 168.0 429.9 168.5 429.9 169.0 429.9 169.5 429.9 170.0 429.9 170.5 429.9 171.0 429.9 171.5 429.9 172.0 429.9 172.5 429.9 173.0 429.9 173.5 429.9 174.0 429.9 174.5 429.9 175.0 429.6 175.5 429.5 176.0 429.5 176.5 429.5 177.0 429.5 177.5 429.5 178.0 429.4 178.5 429.4 179.0 429.3 179.5 429.3 180.0 429.2 180.5 429.2 181.0 429.1 181.5 429.0 182.0 428.9 182.5 428.8 183.0 428.8 183.5 428.7 184.0 428.6 184.5 428.5 185.0 428.5 185.5 428.4 186.0 428.3 186.5 428.3 187.0 428.2 187.5 428.1 188.0 428.1 188.5 428.0 189.0 427.9 189.5 427.8 190.0 427.8 190.5 427.7 191.0 427.7 191.5 427.6 192.0 427.6 192.5 427.5 193.0 427.5 193.5 427.5 194.0 427.4 194.5 427.4 195.0 427.4 195.5 427.3 196.0 427.3 196.5 427.3 197.0 427.2 197.5 427.2 198.0 427.2 198.5 427.1 199.0 427.1 199.5 427.1 200.0 427.1 200.5 427.0 201.0 427.0 201.5 427.0 202.0 427.0 202.5 427.0 203.0 426.9 203.5 426.9 204.0 426.9 204.5 426.9 205.0 426.9 205.5 426.9 206.0 426.9 206.5 426.9 207.0 426.8 207.5 426.8 208.0 426.8 208.5 426.8 209.0 426.8 209.5 426.8 210.0 426.8 210.5 426.8 211.0 426.8 211.5 426.8 212.0 426.8 212.5 426.8 213.0 426.8 213.5 426.7 214.0 426.7 214.5 426.7 215.0 426.7 215.5 426.7 216.0 426.6 216.5 426.6 217.0 426.5 217.5 426.5 218.0 426.4 218.5 426.4 219.0 426.4 219.5 426.3 220.0 426.3 220.5 426.2 221.0 426.2 221.5 426.1 222.0 433.7 222.0 433.6 221.5 433.6 221.0 433.5 220.5 433.5 220.0 433.4 219.5 433.4 219.0 433.4 218.5 433.3 218.0 433.3 217.5 433.2 217.0 433.2 216.5 433.1 216.0 433.1 215.5 433.1 215.0 433.1 214.5 433.1 214.0 433.0 213.5 433.0 213.0 433.0 212.5 433.0 212.0 433.0 211.5 433.0 211.0 433.0 210.5 433.0 210.0 433.0 209.5 433.0 209.0 433.0 208.5 433.0 208.0 433.0 207.5 432.9 207.0 432.9 206.5 432.9 206.0 432.9 205.5 432.9 205.0 432.9 204.5 432.9 204.0 432.9 203.5 432.8 203.0 432.8 202.5 432.8 202.0 432.8 201.5 432.8 201.0 432.7 200.5 432.7 200.0 432.7 199.5 432.7 199.0 432.6 198.5 432.6 198.0 432.6 197.5 432.5 197.0 432.5 196.5 432.5 196.0 432.4 195.5 432.4 195.0 432.4 194.5 432.3 194.0 432.3 193.5 432.3 193.0 432.2 192.5 432.2 192.0 432.1 191.5 432.1 191.0 432.0 190.5 432.0 190.0 431.9 189.5 431.8 189.0 431.7 188.5 431.7 188.0 431.6 187.5 431.5 187.0 431.5 186.5 431.4 186.0 431.3 185.5 431.3 185.0 431.2 184.5 431.1 184.0 431.0 183.5 431.0 183.0 430.9 182.5 430.8 182.0 430.7 181.5 430.6 181.0 430.6 180.5 430.5 180.0 430.5 179.5 430.4 179.0 430.4 178.5 430.3 178.0 430.3 177.5 430.3 177.0 430.3 176.5 430.3 176.0 430.2 175.5 429.9 175.0 429.9 174.5 429.9 174.0 429.9 173.5 429.9 173.0 429.9 172.5 429.9 172.0 429.9 171.5 429.9 171.0 429.9 170.5 429.9 170.0 429.9 169.5 429.9 169.0 429.9 168.5 429.9 168.0 429.9 167.5 429.9 167.0 429.9 166.5 429.9 166.0 429.9 165.5 429.9 165.0 429.9 164.5 429.9 164.0 429.9 163.5 429.9 163.0 429.9 162.5 429.9 162.0 429.9 161.5 429.9 161.0 429.9 160.5 429.9 160.0 429.9 159.5 429.9 159.0 429.9 158.5 429.9 158.0 429.9 157.5 429.9 157.0 429.9 156.5 429.9 156.0 429.9 155.5 429.9 155.0 429.9 154.5 429.9 154.0 429.9 153.5 429.9 153.0 429.9 152.5 429.9 152.0Z" fill="#6f93db" stroke="#151515" stroke-width="0.75" stroke-linejoin="round"/>
<path d="M451.3 189.0 451.3 189.5 451.3 190.0 451.3 190.5 451.3 191.0 451.3 191.5 451.3 192.0 451.3 192.5 451.3 193.0 451.3 193.5 451.3 194.0 451.3 194.5 451.3 195.0 451.3 195.5 451.3 196.0 451.3 196.5 451.3 197.0 451.3 197.5 451.3 198.0 450.9 198.5 450.9 199.0 450.8 199.5 450.8 200.0 450.7 200.5 450.6 201.0 450.4 201.5 450.3 202.0 450.2 202.5 450.1 203.0 449.9 203.5 449.8 204.0 449.7 204.5 449.5 205.0 449.4 205.5 449.2 206.0 449.1 206.5 448.9 207.0 448.8 207.5 448.7 208.0 448.6 208.5 448.5 209.0 448.4 209.5 448.3 210.0 448.2 210.5 448.1 211.0 448.0 211.5 448.0 212.0 448.0 212.5 448.1 213.0 448.3 213.5 448.5 214.0 448.7 214.5 448.9 215.0 449.1 215.5 449.4 216.0 449.7 216.5 449.9 217.0 450.1 217.5 450.1 218.0 450.0 218.5 449.7 219.0 449.4 219.5 449.1 220.0 448.8 220.5 448.4 221.0 448.0 221.5 447.5 222.0 455.1 222.0 454.6 221.5 454.2 221.0 453.8 220.5 453.5 220.0 453.2 219.5 452.9 219.0 452.6 218.5 452.5 218.0 452.5 217.5 452.7 217.0 452.9 216.5 453.2 216.0 453.5 215.5 453.7 215.0 453.9 214.5 454.1 214.0 454.3 213.5 454.5 213.0 454.6 212.5 454.6 212.0 454.6 211.5 454.5 211.0 454.4 210.5 454.3 210.0 454.2 209.5 454.1 209.0 454.0 208.5 453.9 208.0 453.8 207.5 453.7 207.0 453.5 206.5 453.4 206.0 453.2 205.5 453.1 205.0 452.9 204.5 452.8 204.0 452.7 203.5 452.5 203.0 452.4 202.5 452.3 202.0 452.2 201.5 452.0 201.0 451.9 200.5 451.8 200.0 451.8 199.5 451.7 199.0 451.7 198.5 451.3 198.0 451.3 197.5 451.3 197.0 451.3 196.5 451.3 196.0 451.3 195.5 451.3 195.0 451.3 194.5 451.3 194.0 451.3 193.5 451.3 193.0 451.3 192.5 451.3 192.0 451.3 191.5 451.3 191.0 451.3 190.5 451.3 190.0 451.3 189.5 451.3 189.0Z" fill="#e8766c" stroke="#151515" stroke-width="0.75" stroke-linejoin="round"/>
<path d="M466.8 152.0 466.8 152.5 466.8 153.0 466.8 153.5 466.8 154.0 466.8 154.5 466.8 155.0 466.8 155.5 466.8 156.0 466.8 156.5 466.8 157.0 466.8 157.5 466.8 158.0 466.8 158.5 466.8 159.0 466.8 159.5 466.8 160.0 466.8 160.5 466.8 161.0 466.8 161.5 466.8 162.0 466.8 162.5 466.8 163.0 466.8 163.5 466.8 164.0 466.8 164.5 466.8 165.0 466.8 165.5 466.8 166.0 466.8 166.5 466.8 167.0 466.8 167.5 466.8 168.0 466.8 168.5 466.8 169.0 466.8 169.5 466.8 170.0 466.8 170.5 466.8 171.0 466.8 171.5 466.8 172.0 466.8 172.5 466.8 173.0 466.8 173.5 466.8 174.0 466.8 174.5 466.8 175.0 466.8 175.5 466.8 176.0 466.8 176.5 466.8 177.0 466.8 177.5 466.8 178.0 466.8 178.5 466.8 179.0 466.8 179.5 466.8 180.0 466.8 180.5 466.8 181.0 466.8 181.5 466.8 182.0 466.8 182.5 466.4 183.0 466.3 183.5 466.2 184.0 466.1 184.5 466.0 185.0 465.9 185.5 465.8 186.0 465.7 186.5 465.6 187.0 465.5 187.5 465.4 188.0 465.3 188.5 465.2 189.0 465.1 189.5 465.0 190.0 464.9 190.5 464.8 191.0 464.7 191.5 464.6 192.0 464.6 192.5 464.5 193.0 464.5 193.5 464.4 194.0 464.4 194.5 464.4 195.0 464.3 195.5 464.3 196.0 464.2 196.5 464.2 197.0 464.2 197.5 464.1 198.0 464.1 198.5 464.1 199.0 464.1 199.5 464.0 200.0 464.0 200.5 464.0 201.0 464.0 201.5 463.9 202.0 463.9 202.5 463.9 203.0 463.9 203.5 463.8 204.0 463.8 204.5 463.8 205.0 463.8 205.5 463.7 206.0 463.7 206.5 463.7 207.0 463.7 207.5 463.7 208.0 463.6 208.5 463.6 209.0 463.6 209.5 463.6 210.0 463.6 210.5 463.5 211.0 463.5 211.5 463.5 212.0 463.5 212.5 463.5 213.0 463.5 213.5 463.4 214.0 463.4 214.5 463.4 215.0 463.4 215.5 463.3 216.0 463.3 216.5 463.3 217.0 463.3 217.5 463.2 218.0 463.2 218.5 463.2 219.0 463.2 219.5 463.1 220.0 463.1 220.5 463.1 221.0 463.0 221.5 463.0 222.0 470.6 222.0 470.6 221.5 470.5 221.0 470.5 220.5 470.5 220.0 470.4 219.5 470.4 219.0 470.4 218.5 470.4 218.0 470.3 217.5 470.3 217.0 470.3 216.5 470.3 216.0 470.2 215.5 470.2 215.0 470.2 214.5 470.2 214.0 470.1 213.5 470.1 213.0 470.1 212.5 470.1 212.0 470.1 211.5 470.1 211.0 470.0 210.5 470.0 210.0 470.0 209.5 470.0 209.0 470.0 208.5 469.9 208.0 469.9 207.5 469.9 207.0 469.9 206.5 469.9 206.0 469.8 205.5 469.8 205.0 469.8 204.5 469.8 204.0 469.7 203.5 469.7 203.0 469.7 202.5 469.7 202.0 469.6 201.5 469.6 201.0 469.6 200.5 469.6 200.0 469.5 199.5 469.5 199.0 469.5 198.5 469.5 198.0 469.4 197.5 469.4 197.0 469.4 196.5 469.3 196.0 469.3 195.5 469.2 195.0 469.2 194.5 469.2 194.0 469.1 193.5 469.1 193.0 469.0 192.5 469.0 192.0 468.9 191.5 468.8 191.0 468.7 190.5 468.6 190.0 468.5 189.5 468.4 189.0 468.3 188.5 468.2 188.0 468.1 187.5 468.0 187.0 467.9 186.5 467.8 186.0 467.7 185.5 467.6 185.0 467.5 184.5 467.4 184.0 467.3 183.5 467.2 183.0 466.8 182.5 466.8 182.0 466.8 181.5 466.8 181.0 466.8 180.5 466.8 180.0 466.8 179.5 466.8 179.0 466.8 178.5 466.8 178.0 466.8 177.5 466.8 177.0 466.8 176.5 466.8 176.0 466.8 175.5 466.8 175.0 466.8 174.5 466.8 174.0 466.8 173.5 466.8 173.0 466.8 172.5 466.8 172.0 466.8 171.5 466.8 171.0 466.8 170.5 466.8 170.0 466.8 169.5 466.8 169.0 466.8 168.5 466.8 168.0 466.8 167.5 466.8 167.0 466.8 166.5 466.8 166.0 466.8 165.5 466.8 165.0 466.8 164.5 466.8 164.0 466.8 163.5 466.8 163.0 466.8 162.5 466.8 162.0 466.8 161.5 466.8 161.0 466.8 160.5 466.8 160.0 466.8 159.5 466.8 159.0 466.8 158.5 466.8 158.0 466.8 157.5 466.8 157.0 466.8 156.5 466.8 156.0 466.8 155.5 466.8 155.0 466.8 154.5 466.8 154.0 466.8 153.5 466.8 153.0 466.8 152.5 466.8 152.0Z" fill="#6f93db" stroke="#151515" stroke-width="0.75" stroke-linejoin="round"/>
<path d="M488.3 172.3 488.3 172.8 488.3 173.3 488.3 173.8 488.3 174.3 488.3 174.8 488.3 175.3 488.3 175.8 488.3 176.3 488.3 176.8 488.3 177.3 488.3 177.8 488.3 178.3 488.3 178.8 488.3 179.3 488.3 179.8 488.3 180.3 488.3 180.8 488.3 181.3 487.9 181.8 487.9 182.3 487.8 182.8 487.7 183.3 487.6 183.8 487.4 184.3 487.2 184.8 487.0 185.3 486.9 185.8 486.7 186.3 486.6 186.8 486.5 187.3 486.3 187.8 486.2 188.3 486.1 188.8 486.0 189.3 485.9 189.8 485.8 190.3 485.7 190.8 485.6 191.3 485.5 191.8 485.5 192.3 485.4 192.8 485.3 193.3 485.3 193.8 485.2 194.3 485.2 194.8 485.1 195.3 485.1 195.8 485.0 196.3 485.0 196.8 484.9 197.3 484.9 197.8 484.9 198.3 484.9 198.8 484.9 199.3 484.9 199.8 484.9 200.3 485.0 200.8 485.0 201.3 485.1 201.8 485.1 202.3 485.2 202.8 485.3 203.3 485.3 203.8 485.4 204.3 485.5 204.8 485.5 205.3 485.6 205.8 485.7 206.3 485.8 206.8 485.9 207.3 486.1 207.8 486.2 208.3 486.3 208.8 486.4 209.3 486.5 209.8 486.7 210.3 486.8 210.8 486.9 211.3 487.0 211.8 487.1 212.3 487.2 212.8 487.3 213.3 487.4 213.8 487.5 214.3 487.6 214.8 487.7 215.3 487.7 215.8 487.8 216.3 487.8 216.8 487.8 217.3 487.8 217.8 487.8 218.3 487.8 218.8 487.7 219.3 487.7 219.8 487.6 220.3 487.2 220.8 487.2 221.3 487.5 221.8 487.7 222.0 488.9 222.0 489.1 221.8 489.4 221.3 489.4 220.8 489.0 220.3 488.9 219.8 488.9 219.3 488.8 218.8 488.8 218.3 488.8 217.8 488.8 217.3 488.8 216.8 488.8 216.3 488.9 215.8 488.9 215.3 489.0 214.8 489.1 214.3 489.2 213.8 489.3 213.3 489.4 212.8 489.5 212.3 489.6 211.8 489.7 211.3 489.8 210.8 489.9 210.3 490.1 209.8 490.2 209.3 490.3 208.8 490.4 208.3 490.5 207.8 490.7 207.3 490.8 206.8 490.9 206.3 491.0 205.8 491.1 205.3 491.1 204.8 491.2 204.3 491.3 203.8 491.3 203.3 491.4 202.8 491.5 202.3 491.5 201.8 491.6 201.3 491.6 200.8 491.7 200.3 491.7 199.8 491.7 199.3 491.7 198.8 491.7 198.3 491.7 197.8 491.7 197.3 491.6 196.8 491.6 196.3 491.5 195.8 491.5 195.3 491.4 194.8 491.4 194.3 491.3 193.8 491.3 193.3 491.2 192.8 491.1 192.3 491.1 191.8 491.0 191.3 490.9 190.8 490.8 190.3 490.7 189.8 490.6 189.3 490.5 188.8 490.4 188.3 490.3 187.8 490.1 187.3 490.0 186.8 489.9 186.3 489.7 185.8 489.6 185.3 489.4 184.8 489.2 184.3 489.0 183.8 488.9 183.3 488.8 182.8 488.7 182.3 488.7 181.8 488.3 181.3 488.3 180.8 488.3 180.3 488.3 179.8 488.3 179.3 488.3 178.8 488.3 178.3 488.3 177.8 488.3 177.3 488.3 176.8 488.3 176.3 488.3 175.8 488.3 175.3 488.3 174.8 488.3 174.3 488.3 173.8 488.3 173.3 488.3 172.8 488.3 172.3Z" fill="#e8766c" stroke="#151515" stroke-width="0.75" stroke-linejoin="round"/>
<path d="M503.9 152.0 503.9 152.5 503.9 153.0 503.9 153.5 503.9 154.0 503.5 154.5 503.4 155.0 503.3 155.5 503.2 156.0 503.0 156.5 502.9 157.0 502.8 157.5 502.6 158.0 502.5 158.5 502.3 159.0 502.2 159.5 502.1 160.0 502.0 160.5 501.9 161.0 501.8 161.5 501.7 162.0 501.6 162.5 501.5 163.0 501.4 163.5 501.4 164.0 501.3 164.5 501.2 165.0 501.1 165.5 501.1 166.0 501.0 166.5 501.0 167.0 500.9 167.5 500.9 168.0 500.8 168.5 500.8 169.0 500.8 169.5 500.7 170.0 500.7 170.5 500.7 171.0 500.6 171.5 500.6 172.0 500.6 172.5 500.5 173.0 500.5 173.5 500.5 174.0 500.5 174.5 500.4 175.0 500.4 175.5 500.4 176.0 500.4 176.5 500.4 177.0 500.3 177.5 500.3 178.0 500.3 178.5 500.2 179.0 500.2 179.5 500.2 180.0 500.2 180.5 500.2 181.0 500.1 181.5 500.1 182.0 500.1 182.5 500.1 183.0 500.1 183.5 500.1 184.0 500.1 184.5 500.1 185.0 500.1 185.5 500.1 186.0 500.1 186.5 500.1 187.0 500.1 187.5 500.1 188.0 500.1 188.5 500.1 189.0 500.1 189.5 500.1 190.0 500.2 190.5 500.2 191.0 500.2 191.5 500.2 192.0 500.2 192.5 500.2 193.0 500.2 193.5 500.2 194.0 500.2 194.5 500.3 195.0 500.3 195.5 500.3 196.0 500.3 196.5 500.3 197.0 500.4 197.5 500.4 198.0 500.5 198.5 500.6 199.0 500.7 199.5 500.8 200.0 500.9 200.5 500.9 201.0 501.0 201.5 501.1 202.0 501.2 202.5 501.2 203.0 501.3 203.5 501.3 204.0 501.4 204.5 501.5 205.0 501.5 205.5 501.6 206.0 501.6 206.5 501.7 207.0 501.7 207.5 501.8 208.0 501.9 208.5 501.9 209.0 502.0 209.5 502.1 210.0 502.1 210.5 502.2 211.0 502.3 211.5 502.4 212.0 502.5 212.5 502.5 213.0 502.6 213.5 502.6 214.0 502.7 214.5 502.7 215.0 502.7 215.5 502.7 216.0 502.6 216.5 502.6 217.0 502.5 217.5 502.5 218.0 502.4 218.5 502.3 219.0 502.2 219.5 502.1 220.0 502.0 220.5 501.9 221.0 501.7 221.5 501.6 222.0 506.2 222.0 506.1 221.5 505.9 221.0 505.8 220.5 505.7 220.0 505.6 219.5 505.5 219.0 505.4 218.5 505.3 218.0 505.3 217.5 505.2 217.0 505.2 216.5 505.1 216.0 505.1 215.5 505.1 215.0 505.1 214.5 505.2 214.0 505.2 213.5 505.3 213.0 505.3 212.5 505.4 212.0 505.5 211.5 505.6 211.0 505.7 210.5 505.7 210.0 505.8 209.5 505.9 209.0 505.9 208.5 506.0 208.0 506.1 207.5 506.1 207.0 506.2 206.5 506.2 206.0 506.3 205.5 506.3 205.0 506.4 204.5 506.5 204.0 506.5 203.5 506.6 203.0 506.6 202.5 506.7 202.0 506.8 201.5 506.9 201.0 506.9 200.5 507.0 200.0 507.1 199.5 507.2 199.0 507.3 198.5 507.4 198.0 507.4 197.5 507.5 197.0 507.5 196.5 507.5 196.0 507.5 195.5 507.5 195.0 507.6 194.5 507.6 194.0 507.6 193.5 507.6 193.0 507.6 192.5 507.6 192.0 507.6 191.5 507.6 191.0 507.6 190.5 507.7 190.0 507.7 189.5 507.7 189.0 507.7 188.5 507.7 188.0 507.7 187.5 507.7 187.0 507.7 186.5 507.7 186.0 507.7 185.5 507.7 185.0 507.7 184.5 507.7 184.0 507.7 183.5 507.7 183.0 507.7 182.5 507.7 182.0 507.7 181.5 507.6 181.0 507.6 180.5 507.6 180.0 507.6 179.5 507.6 179.0 507.5 178.5 507.5 178.0 507.5 177.5 507.4 177.0 507.4 176.5 507.4 176.0 507.4 175.5 507.4 175.0 507.3 174.5 507.3 174.0 507.3 173.5 507.3 173.0 507.2 172.5 507.2 172.0 507.2 171.5 507.1 171.0 507.1 170.5 507.1 170.0 507.0 169.5 507.0 169.0 507.0 168.5 506.9 168.0 506.9 167.5 506.8 167.0 506.8 166.5 506.7 166.0 506.7 165.5 506.6 165.0 506.5 164.5 506.4 164.0 506.4 163.5 506.3 163.0 506.2 162.5 506.1 162.0 506.0 161.5 505.9 161.0 505.8 160.5 505.7 160.0 505.6 159.5 505.5 159.0 505.3 158.5 505.2 158.0 505.0 157.5 504.9 157.0 504.8 156.5 504.6 156.0 504.5 155.5 504.4 155.0 504.3 154.5 503.9 154.0 503.9 153.5 503.9 153.0 503.9 152.5 503.9 152.0Z" fill="#6f93db" stroke="#151515" stroke-width="0.75" stroke-linejoin="round"/>
<path d="M458.10,98.90 V122.00 M454.40,121.60 H461.80" stroke="#7a7a7a" stroke-width="1.00" fill="none"/>
<path d="M311.00,198.00 V222.00 M307.30,221.60 H314.70" stroke="#7a7a7a" stroke-width="1.00" fill="none"/>
<path d="M347.80,198.00 V222.00 M344.10,221.60 H351.50" stroke="#7a7a7a" stroke-width="1.00" fill="none"/>
<path d="M422.00,203.80 V222.00 M418.30,221.60 H425.70" stroke="#7a7a7a" stroke-width="1.00" fill="none"/>
<path d="M459.00,201.80 V222.00 M455.30,221.60 H462.70" stroke="#7a7a7a" stroke-width="1.00" fill="none"/>
<path d="M496.00,189.40 V222.00 M492.30,221.60 H499.70" stroke="#7a7a7a" stroke-width="1.00" fill="none"/>
<path d="M300.3 300.2 297.9 300.7 297.8 301.2 297.7 301.7 297.6 302.2 297.6 302.7 297.6 303.2 297.6 303.7 297.6 304.2 297.6 304.7 297.6 305.2 297.6 305.7 297.6 306.2 297.6 306.7 297.5 307.2 297.5 307.7 297.5 308.2 297.5 308.7 297.5 309.2 297.5 309.7 297.5 310.2 297.5 310.7 297.5 311.2 297.5 311.7 297.5 312.2 297.5 312.7 297.5 313.2 297.5 313.7 297.5 314.2 297.5 314.7 297.5 315.2 297.5 315.7 297.5 316.2 297.5 316.7 297.5 317.2 297.5 317.7 297.5 318.2 297.5 318.7 297.5 319.2 297.5 319.7 297.5 320.2 297.5 320.7 297.5 321.2 297.5 321.7 297.6 322.2 297.6 322.7 297.6 323.2 297.6 323.7 297.6 324.2 297.6 324.7 297.7 325.2 297.7 325.7 297.7 326.2 297.7 326.7 297.7 327.2 297.7 327.7 297.8 328.2 297.8 328.7 297.8 329.2 297.8 329.7 297.8 330.2 297.8 330.7 297.8 331.2 297.8 331.7 297.9 332.2 297.9 332.7 297.9 333.2 297.9 333.7 297.9 334.2 297.9 334.7 297.9 335.2 297.9 335.7 298.0 336.2 298.0 336.7 298.0 337.2 298.0 337.7 298.0 338.2 298.0 338.7 298.0 339.2 298.0 339.7 298.0 340.2 298.1 340.7 298.1 341.2 298.1 341.7 298.1 342.2 298.1 342.7 298.1 343.2 298.1 343.7 298.1 344.2 298.1 344.7 298.1 345.2 298.1 345.7 298.1 346.2 298.1 346.7 298.1 347.2 298.2 347.7 298.2 348.2 298.2 348.7 298.2 349.2 298.2 349.7 298.2 350.2 298.3 350.7 298.3 351.2 298.5 351.7 298.6 352.2 298.9 352.7 299.5 353.2 300.3 353.6 300.3 353.6 301.1 353.2 301.7 352.7 302.0 352.2 302.1 351.7 302.3 351.2 302.3 350.7 302.4 350.2 302.4 349.7 302.4 349.2 302.4 348.7 302.4 348.2 302.4 347.7 302.5 347.2 302.5 346.7 302.5 346.2 302.5 345.7 302.5 345.2 302.5 344.7 302.5 344.2 302.5 343.7 302.5 343.2 302.5 342.7 302.5 342.2 302.5 341.7 302.5 341.2 302.5 340.7 302.6 340.2 302.6 339.7 302.6 339.2 302.6 338.7 302.6 338.2 302.6 337.7 302.6 337.2 302.6 336.7 302.6 336.2 302.7 335.7 302.7 335.2 302.7 334.7 302.7 334.2 302.7 333.7 302.7 333.2 302.7 332.7 302.7 332.2 302.8 331.7 302.8 331.2 302.8 330.7 302.8 330.2 302.8 329.7 302.8 329.2 302.8 328.7 302.8 328.2 302.9 327.7 302.9 327.2 302.9 326.7 302.9 326.2 302.9 325.7 302.9 325.2 303.0 324.7 303.0 324.2 303.0 323.7 303.0 323.2 303.0 322.7 303.0 322.2 303.1 321.7 303.1 321.2 303.1 320.7 303.1 320.2 303.1 319.7 303.1 319.2 303.1 318.7 303.1 318.2 303.1 317.7 303.1 317.2 303.1 316.7 303.1 316.2 303.1 315.7 303.1 315.2 303.1 314.7 303.1 314.2 303.1 313.7 303.1 313.2 303.1 312.7 303.1 312.2 303.1 311.7 303.1 311.2 303.1 310.7 303.1 310.2 303.1 309.7 303.1 309.2 303.1 308.7 303.1 308.2 303.1 307.7 303.1 307.2 303.0 306.7 303.0 306.2 303.0 305.7 303.0 305.2 303.0 304.7 303.0 304.2 303.0 303.7 303.0 303.2 303.0 302.7 303.0 302.2 302.9 301.7 302.8 301.2 302.7 300.7 300.3 300.2Z" fill="#ff8c00" stroke="#6a6a6a" stroke-width="0.60" stroke-linejoin="round"/>
<path d="M306.7 320.8 306.7 321.3 306.7 321.8 306.3 322.3 306.1 322.8 306.0 323.3 305.9 323.8 305.9 324.3 305.8 324.8 305.7 325.3 305.7 325.8 305.6 326.3 305.6 326.8 305.5 327.3 305.5 327.8 305.4 328.3 305.4 328.8 305.3 329.3 305.3 329.8 305.2 330.3 305.1 330.8 305.1 331.3 305.0 331.8 304.9 332.3 304.8 332.8 304.7 333.3 304.6 333.8 304.5 334.3 304.4 334.8 304.4 335.3 304.3 335.8 304.2 336.3 304.1 336.8 304.1 337.3 304.0 337.8 303.9 338.3 303.9 338.8 303.8 339.3 303.8 339.8 303.8 340.3 303.8 340.8 303.8 341.3 303.9 341.8 303.9 342.3 304.0 342.8 304.0 343.3 304.1 343.8 304.2 344.3 304.3 344.8 304.4 345.3 304.5 345.8 304.6 346.3 304.7 346.8 304.9 347.3 305.0 347.8 305.1 348.3 305.2 348.8 305.3 349.3 305.4 349.8 305.5 350.3 305.5 350.8 305.6 351.3 305.7 351.8 305.7 352.3 305.8 352.8 305.8 353.3 305.9 353.8 305.9 354.3 306.0 354.8 306.0 355.3 306.1 355.8 306.1 356.3 306.1 356.8 306.2 357.3 306.2 357.8 306.2 358.3 306.3 358.8 306.3 359.3 306.7 359.8 306.7 360.3 306.7 360.8 306.7 361.3 306.7 361.8 306.7 362.3 306.7 362.8 306.7 363.3 306.7 363.8 306.7 364.3 306.7 364.8 306.7 365.3 306.7 365.8 306.7 366.3 306.7 366.8 306.7 367.3 306.7 367.3 306.7 366.8 306.7 366.3 306.7 365.8 306.7 365.3 306.7 364.8 306.7 364.3 306.7 363.8 306.7 363.3 306.7 362.8 306.7 362.3 306.7 361.8 306.7 361.3 306.7 360.8 306.7 360.3 306.7 359.8 307.1 359.3 307.1 358.8 307.2 358.3 307.2 357.8 307.2 357.3 307.3 356.8 307.3 356.3 307.3 355.8 307.4 355.3 307.4 354.8 307.5 354.3 307.5 353.8 307.6 353.3 307.6 352.8 307.7 352.3 307.7 351.8 307.8 351.3 307.9 350.8 307.9 350.3 308.0 349.8 308.1 349.3 308.2 348.8 308.3 348.3 308.4 347.8 308.5 347.3 308.7 346.8 308.8 346.3 308.9 345.8 309.0 345.3 309.1 344.8 309.2 344.3 309.3 343.8 309.4 343.3 309.4 342.8 309.5 342.3 309.5 341.8 309.6 341.3 309.6 340.8 309.6 340.3 309.6 339.8 309.6 339.3 309.5 338.8 309.5 338.3 309.4 337.8 309.3 337.3 309.3 336.8 309.2 336.3 309.1 335.8 309.0 335.3 309.0 334.8 308.9 334.3 308.8 333.8 308.7 333.3 308.6 332.8 308.5 332.3 308.4 331.8 308.3 331.3 308.3 330.8 308.2 330.3 308.1 329.8 308.1 329.3 308.0 328.8 308.0 328.3 307.9 327.8 307.9 327.3 307.8 326.8 307.8 326.3 307.7 325.8 307.7 325.3 307.6 324.8 307.5 324.3 307.5 323.8 307.4 323.3 307.3 322.8 307.1 322.3 306.7 321.8 306.7 321.3 306.7 320.8Z" fill="#7cae00" stroke="#6a6a6a" stroke-width="0.60" stroke-linejoin="round"/>
<path d="M313.1 313.8 313.1 314.3 313.1 314.8 312.7 315.3 312.6 315.8 312.4 316.3 312.3 316.8 312.2 317.3 312.1 317.8 312.1 318.3 312.0 318.8 311.9 319.3 311.8 319.8 311.8 320.3 311.7 320.8 311.7 321.3 311.6 321.8 311.6 322.3 311.5 322.8 311.5 323.3 311.4 323.8 311.4 324.3 311.3 324.8 311.3 325.3 311.2 325.8 311.2 326.3 311.1 326.8 311.1 327.3 311.0 327.8 311.0 328.3 311.0 328.8 310.9 329.3 310.9 329.8 310.8 330.3 310.8 330.8 310.7 331.3 310.6 331.8 310.6 332.3 310.5 332.8 310.4 333.3 310.4 333.8 310.3 334.3 310.2 334.8 310.2 335.3 310.1 335.8 310.1 336.3 310.1 336.8 310.1 337.3 310.1 337.8 310.2 338.3 310.2 338.8 310.3 339.3 310.3 339.8 310.4 340.3 310.4 340.8 310.5 341.3 310.6 341.8 310.6 342.3 310.7 342.8 310.8 343.3 310.8 343.8 310.9 344.3 311.0 344.8 311.1 345.3 311.1 345.8 311.2 346.3 311.3 346.8 311.3 347.3 311.4 347.8 311.5 348.3 311.6 348.8 311.6 349.3 311.7 349.8 311.8 350.3 311.8 350.8 311.9 351.3 312.0 351.8 312.0 352.3 312.1 352.8 312.2 353.3 312.2 353.8 312.3 354.3 312.4 354.8 312.4 355.3 312.5 355.8 312.5 356.3 312.6 356.8 312.6 357.3 312.6 357.8 312.6 358.3 312.7 358.8 313.1 359.3 313.1 359.8 313.1 360.3 313.1 360.8 313.1 361.3 313.1 361.8 313.1 362.3 313.1 362.8 313.1 363.3 313.1 363.8 313.1 364.3 313.1 364.8 313.1 365.3 313.1 365.8 313.1 366.3 313.1 366.8 313.1 367.3 313.1 367.3 313.1 366.8 313.1 366.3 313.1 365.8 313.1 365.3 313.1 364.8 313.1 364.3 313.1 363.8 313.1 363.3 313.1 362.8 313.1 362.3 313.1 361.8 313.1 361.3 313.1 360.8 313.1 360.3 313.1 359.8 313.1 359.3 313.5 358.8 313.6 358.3 313.6 357.8 313.6 357.3 313.6 356.8 313.7 356.3 313.7 355.8 313.8 355.3 313.8 354.8 313.9 354.3 314.0 353.8 314.0 353.3 314.1 352.8 314.2 352.3 314.2 351.8 314.3 351.3 314.4 350.8 314.4 350.3 314.5 349.8 314.6 349.3 314.6 348.8 314.7 348.3 314.8 347.8 314.9 347.3 314.9 346.8 315.0 346.3 315.1 345.8 315.1 345.3 315.2 344.8 315.3 344.3 315.4 343.8 315.4 343.3 315.5 342.8 315.6 342.3 315.6 341.8 315.7 341.3 315.8 340.8 315.8 340.3 315.9 339.8 315.9 339.3 316.0 338.8 316.0 338.3 316.1 337.8 316.1 337.3 316.1 336.8 316.1 336.3 316.1 335.8 316.0 335.3 316.0 334.8 315.9 334.3 315.8 333.8 315.8 333.3 315.7 332.8 315.6 332.3 315.6 331.8 315.5 331.3 315.4 330.8 315.4 330.3 315.3 329.8 315.3 329.3 315.2 328.8 315.2 328.3 315.2 327.8 315.1 327.3 315.1 326.8 315.0 326.3 315.0 325.8 314.9 325.3 314.9 324.8 314.8 324.3 314.8 323.8 314.7 323.3 314.7 322.8 314.6 322.3 314.6 321.8 314.5 321.3 314.5 320.8 314.4 320.3 314.4 319.8 314.3 319.3 314.2 318.8 314.1 318.3 314.1 317.8 314.0 317.3 313.9 316.8 313.8 316.3 313.6 315.8 313.5 315.3 313.1 314.8 313.1 314.3 313.1 313.8Z" fill="#00bfc4" stroke="#6a6a6a" stroke-width="0.60" stroke-linejoin="round"/>
<path d="M319.3 296.9 319.3 297.4 319.3 297.9 319.3 298.4 319.3 298.9 319.3 299.4 319.3 299.9 319.3 300.4 319.3 300.9 319.3 301.4 319.3 301.9 319.3 302.4 319.3 302.9 319.3 303.4 319.3 303.9 319.3 304.4 319.3 304.9 319.3 305.4 319.3 305.9 319.3 306.4 319.3 306.9 319.3 307.4 319.3 307.9 319.3 308.4 319.3 308.9 319.3 309.4 319.3 309.9 319.3 310.4 319.3 310.9 319.3 311.4 319.3 311.9 319.3 312.4 319.3 312.9 319.3 313.4 319.3 313.9 319.3 314.4 319.3 314.9 319.3 315.4 319.3 315.9 319.3 316.4 319.3 316.9 319.3 317.4 319.3 317.9 319.3 318.4 319.3 318.9 319.3 319.4 319.3 319.9 319.3 320.4 319.3 320.9 319.3 321.4 319.3 321.9 319.3 322.4 319.3 322.9 319.3 323.4 319.3 323.9 319.3 324.4 319.3 324.9 319.3 325.4 319.3 325.9 319.3 326.4 319.3 326.9 318.9 327.4 318.8 327.9 318.8 328.4 318.7 328.9 318.5 329.4 318.4 329.9 318.3 330.4 318.2 330.9 318.1 331.4 318.0 331.9 317.9 332.4 317.8 332.9 317.8 333.4 317.7 333.9 317.6 334.4 317.5 334.9 317.4 335.4 317.3 335.9 317.2 336.4 317.2 336.9 317.1 337.4 317.0 337.9 316.9 338.4 316.9 338.9 316.8 339.4 316.8 339.9 316.8 340.4 316.7 340.9 316.7 341.4 316.7 341.9 316.7 342.4 316.6 342.9 316.6 343.4 316.6 343.9 316.6 344.4 316.6 344.9 316.5 345.4 316.5 345.9 316.5 346.4 316.5 346.9 316.5 347.4 316.5 347.9 316.5 348.4 316.5 348.9 316.6 349.4 316.7 349.9 316.8 350.4 316.9 350.9 317.0 351.4 317.1 351.9 317.2 352.4 317.3 352.9 317.4 353.4 317.5 353.9 317.6 354.4 317.7 354.9 317.8 355.4 317.9 355.9 318.0 356.4 318.1 356.9 318.2 357.4 318.3 357.9 318.4 358.4 318.5 358.9 318.5 359.4 318.5 359.9 318.5 360.4 318.4 360.9 318.3 361.4 318.2 361.9 318.1 362.4 318.0 362.9 317.9 363.4 317.8 363.9 317.7 364.4 317.5 364.9 317.4 365.4 317.3 365.9 317.2 366.4 317.2 366.9 317.1 367.3 321.5 367.3 321.4 366.9 321.4 366.4 321.3 365.9 321.2 365.4 321.1 364.9 320.9 364.4 320.8 363.9 320.7 363.4 320.6 362.9 320.5 362.4 320.4 361.9 320.3 361.4 320.2 360.9 320.1 360.4 320.1 359.9 320.1 359.4 320.1 358.9 320.2 358.4 320.3 357.9 320.4 357.4 320.5 356.9 320.6 356.4 320.7 355.9 320.8 355.4 320.9 354.9 321.0 354.4 321.1 353.9 321.2 353.4 321.3 352.9 321.4 352.4 321.5 351.9 321.6 351.4 321.7 350.9 321.8 350.4 321.9 349.9 322.0 349.4 322.1 348.9 322.1 348.4 322.1 347.9 322.1 347.4 322.1 346.9 322.1 346.4 322.1 345.9 322.1 345.4 322.0 344.9 322.0 344.4 322.0 343.9 322.0 343.4 322.0 342.9 321.9 342.4 321.9 341.9 321.9 341.4 321.9 340.9 321.8 340.4 321.8 339.9 321.8 339.4 321.7 338.9 321.7 338.4 321.6 337.9 321.5 337.4 321.4 336.9 321.4 336.4 321.3 335.9 321.2 335.4 321.1 334.9 321.0 334.4 320.9 333.9 320.8 333.4 320.8 332.9 320.7 332.4 320.6 331.9 320.5 331.4 320.4 330.9 320.3 330.4 320.2 329.9 320.1 329.4 319.9 328.9 319.8 328.4 319.8 327.9 319.7 327.4 319.3 326.9 319.3 326.4 319.3 325.9 319.3 325.4 319.3 324.9 319.3 324.4 319.3 323.9 319.3 323.4 319.3 322.9 319.3 322.4 319.3 321.9 319.3 321.4 319.3 320.9 319.3 320.4 319.3 319.9 319.3 319.4 319.3 318.9 319.3 318.4 319.3 317.9 319.3 317.4 319.3 316.9 319.3 316.4 319.3 315.9 319.3 315.4 319.3 314.9 319.3 314.4 319.3 313.9 319.3 313.4 319.3 312.9 319.3 312.4 319.3 311.9 319.3 311.4 319.3 310.9 319.3 310.4 319.3 309.9 319.3 309.4 319.3 308.9 319.3 308.4 319.3 307.9 319.3 307.4 319.3 306.9 319.3 306.4 319.3 305.9 319.3 305.4 319.3 304.9 319.3 304.4 319.3 303.9 319.3 303.4 319.3 302.9 319.3 302.4 319.3 301.9 319.3 301.4 319.3 300.9 319.3 300.4 319.3 299.9 319.3 299.4 319.3 298.9 319.3 298.4 319.3 297.9 319.3 297.4 319.3 296.9Z" fill="#c77cff" stroke="#6a6a6a" stroke-width="0.60" stroke-linejoin="round"/>
<path d="M338.1 303.4 337.0 303.9 336.6 304.4 336.3 304.9 336.1 305.4 335.9 305.9 335.8 306.4 335.8 306.9 335.7 307.4 335.7 307.9 335.7 308.4 335.7 308.9 335.6 309.4 335.6 309.9 335.6 310.4 335.5 310.9 335.5 311.4 335.4 311.9 335.4 312.4 335.3 312.9 335.3 313.4 335.3 313.9 335.3 314.4 335.3 314.9 335.4 315.4 335.5 315.9 335.6 316.4 335.7 316.9 335.8 317.4 335.9 317.9 336.0 318.4 336.2 318.9 336.4 319.4 336.7 319.9 336.9 320.4 337.0 320.9 337.1 321.4 337.1 321.9 337.1 322.4 337.1 322.9 337.1 323.4 337.1 323.9 337.1 324.4 337.1 324.9 337.1 325.4 337.1 325.9 337.1 326.4 337.1 326.9 337.1 327.4 337.2 327.9 337.2 328.4 337.3 328.9 338.1 329.4 338.1 329.6 338.1 329.6 338.1 329.4 338.9 328.9 339.0 328.4 339.0 327.9 339.1 327.4 339.1 326.9 339.1 326.4 339.1 325.9 339.1 325.4 339.1 324.9 339.1 324.4 339.1 323.9 339.1 323.4 339.1 322.9 339.1 322.4 339.1 321.9 339.1 321.4 339.2 320.9 339.3 320.4 339.5 319.9 339.8 319.4 340.0 318.9 340.2 318.4 340.3 317.9 340.4 317.4 340.5 316.9 340.6 316.4 340.7 315.9 340.8 315.4 340.9 314.9 340.9 314.4 340.9 313.9 340.9 313.4 340.9 312.9 340.8 312.4 340.8 311.9 340.7 311.4 340.7 310.9 340.6 310.4 340.6 309.9 340.6 309.4 340.5 308.9 340.5 308.4 340.5 307.9 340.5 307.4 340.4 306.9 340.4 306.4 340.3 305.9 340.1 305.4 339.9 304.9 339.6 304.4 339.2 303.9 338.1 303.4Z" fill="#ff8c00" stroke="#6a6a6a" stroke-width="0.60" stroke-linejoin="round"/>
<path d="M344.4 324.2 344.4 324.7 344.4 325.2 344.4 325.7 344.4 326.2 344.4 326.7 344.1 327.2 344.0 327.7 343.9 328.2 343.7 328.7 343.5 329.2 343.2 329.7 343.0 330.2 342.7 330.7 342.5 331.2 342.3 331.7 342.1 332.2 341.9 332.7 341.7 333.2 341.6 333.7 341.5 334.2 341.4 334.7 341.4 335.2 341.4 335.7 341.5 336.2 341.6 336.7 341.7 337.2 341.9 337.7 342.0 338.2 342.1 338.7 342.2 339.2 342.4 339.7 342.5 340.2 342.7 340.7 342.8 341.2 343.0 341.7 343.2 342.2 343.3 342.7 343.5 343.2 343.6 343.7 343.8 344.2 343.9 344.7 344.0 345.2 344.4 345.7 344.4 346.2 344.4 346.7 344.4 347.2 344.4 347.7 344.4 348.2 344.4 348.7 344.4 349.2 344.4 349.7 344.4 350.2 344.4 350.7 344.4 351.2 344.4 351.7 344.4 352.2 344.4 352.7 344.4 353.2 344.4 353.7 344.4 354.2 344.4 354.7 344.4 355.2 344.4 355.2 344.4 354.7 344.4 354.2 344.4 353.7 344.4 353.2 344.4 352.7 344.4 352.2 344.4 351.7 344.4 351.2 344.4 350.7 344.4 350.2 344.4 349.7 344.4 349.2 344.4 348.7 344.4 348.2 344.4 347.7 344.4 347.2 344.4 346.7 344.4 346.2 344.4 345.7 344.8 345.2 344.9 344.7 345.0 344.2 345.2 343.7 345.3 343.2 345.5 342.7 345.6 342.2 345.8 341.7 346.0 341.2 346.1 340.7 346.3 340.2 346.4 339.7 346.6 339.2 346.7 338.7 346.8 338.2 346.9 337.7 347.1 337.2 347.2 336.7 347.3 336.2 347.4 335.7 347.4 335.2 347.4 334.7 347.3 334.2 347.2 333.7 347.1 333.2 346.9 332.7 346.7 332.2 346.5 331.7 346.3 331.2 346.1 330.7 345.8 330.2 345.6 329.7 345.3 329.2 345.1 328.7 344.9 328.2 344.8 327.7 344.7 327.2 344.4 326.7 344.4 326.2 344.4 325.7 344.4 325.2 344.4 324.7 344.4 324.2Z" fill="#7cae00" stroke="#6a6a6a" stroke-width="0.60" stroke-linejoin="round"/>
<path d="M350.7 297.2 350.7 297.7 350.7 298.2 350.7 298.7 350.7 299.2 350.7 299.7 350.7 300.2 350.7 300.7 350.7 301.2 350.7 301.7 350.7 302.2 350.7 302.7 350.7 303.2 350.7 303.7 350.7 304.2 350.7 304.7 350.7 305.2 350.7 305.7 350.7 306.2 350.7 306.7 350.7 307.2 350.7 307.7 350.7 308.2 350.7 308.7 350.7 309.2 350.7 309.7 350.7 310.2 350.7 310.7 350.7 311.2 350.7 311.7 350.7 312.2 350.7 312.7 350.7 313.2 350.7 313.7 350.7 314.2 350.7 314.7 350.7 315.2 350.7 315.7 350.7 316.2 350.7 316.7 350.7 317.2 350.7 317.7 350.7 318.2 350.7 318.7 350.7 319.2 350.3 319.7 350.2 320.2 350.1 320.7 349.9 321.2 349.8 321.7 349.7 322.2 349.5 322.7 349.4 323.2 349.3 323.7 349.1 324.2 349.0 324.7 348.9 325.2 348.8 325.7 348.6 326.2 348.6 326.7 348.5 327.2 348.4 327.7 348.3 328.2 348.2 328.7 348.1 329.2 348.1 329.7 348.0 330.2 347.9 330.7 347.9 331.2 347.8 331.7 347.8 332.2 347.8 332.7 347.8 333.2 347.8 333.7 347.9 334.2 347.9 334.7 348.0 335.2 348.1 335.7 348.2 336.2 348.3 336.7 348.3 337.2 348.4 337.7 348.5 338.2 348.6 338.7 348.7 339.2 348.8 339.7 348.9 340.2 349.0 340.7 349.1 341.2 349.2 341.7 349.3 342.2 349.4 342.7 349.5 343.2 349.5 343.7 349.6 344.2 349.7 344.7 349.8 345.2 349.9 345.7 349.9 346.2 350.0 346.7 350.1 347.2 350.1 347.7 350.2 348.2 350.3 348.7 350.3 349.2 350.4 349.7 350.7 350.2 350.7 350.7 350.7 351.2 350.7 351.7 350.7 352.2 350.7 352.7 350.7 353.2 350.7 353.7 350.7 354.2 350.7 354.7 350.7 355.2 350.7 355.7 350.7 356.2 350.7 356.7 350.7 357.2 350.7 357.7 350.7 358.2 350.7 358.7 350.7 359.2 350.7 359.7 350.7 360.2 350.7 360.7 350.7 361.2 350.7 361.7 350.7 362.2 350.7 362.7 350.7 363.2 350.7 363.7 350.7 364.2 350.7 364.7 350.7 365.2 350.7 365.7 350.7 366.2 350.7 366.7 350.7 367.1 350.7 367.1 350.7 366.7 350.7 366.2 350.7 365.7 350.7 365.2 350.7 364.7 350.7 364.2 350.7 363.7 350.7 363.2 350.7 362.7 350.7 362.2 350.7 361.7 350.7 361.2 350.7 360.7 350.7 360.2 350.7 359.7 350.7 359.2 350.7 358.7 350.7 358.2 350.7 357.7 350.7 357.2 350.7 356.7 350.7 356.2 350.7 355.7 350.7 355.2 350.7 354.7 350.7 354.2 350.7 353.7 350.7 353.2 350.7 352.7 350.7 352.2 350.7 351.7 350.7 351.2 350.7 350.7 350.7 350.2 351.0 349.7 351.1 349.2 351.1 348.7 351.2 348.2 351.3 347.7 351.3 347.2 351.4 346.7 351.5 346.2 351.5 345.7 351.6 345.2 351.7 344.7 351.8 344.2 351.9 343.7 351.9 343.2 352.0 342.7 352.1 342.2 352.2 341.7 352.3 341.2 352.4 340.7 352.5 340.2 352.6 339.7 352.7 339.2 352.8 338.7 352.9 338.2 353.0 337.7 353.1 337.2 353.1 336.7 353.2 336.2 353.3 335.7 353.4 335.2 353.5 334.7 353.5 334.2 353.6 333.7 353.6 333.2 353.6 332.7 353.6 332.2 353.6 331.7 353.5 331.2 353.5 330.7 353.4 330.2 353.3 329.7 353.3 329.2 353.2 328.7 353.1 328.2 353.0 327.7 352.9 327.2 352.8 326.7 352.8 326.2 352.6 325.7 352.5 325.2 352.4 324.7 352.3 324.2 352.1 323.7 352.0 323.2 351.9 322.7 351.7 322.2 351.6 321.7 351.5 321.2 351.3 320.7 351.2 320.2 351.1 319.7 350.7 319.2 350.7 318.7 350.7 318.2 350.7 317.7 350.7 317.2 350.7 316.7 350.7 316.2 350.7 315.7 350.7 315.2 350.7 314.7 350.7 314.2 350.7 313.7 350.7 313.2 350.7 312.7 350.7 312.2 350.7 311.7 350.7 311.2 350.7 310.7 350.7 310.2 350.7 309.7 350.7 309.2 350.7 308.7 350.7 308.2 350.7 307.7 350.7 307.2 350.7 306.7 350.7 306.2 350.7 305.7 350.7 305.2 350.7 304.7 350.7 304.2 350.7 303.7 350.7 303.2 350.7 302.7 350.7 302.2 350.7 301.7 350.7 301.2 350.7 300.7 350.7 300.2 350.7 299.7 350.7 299.2 350.7 298.7 350.7 298.2 350.7 297.7 350.7 297.2Z" fill="#00bfc4" stroke="#6a6a6a" stroke-width="0.60" stroke-linejoin="round"/>
<path d="M357.0 301.7 357.0 302.2 357.0 302.7 357.0 303.2 357.0 303.7 357.0 304.2 357.0 304.7 357.0 305.2 357.0 305.7 357.0 306.2 357.0 306.7 357.0 307.2 357.0 307.7 357.0 308.2 357.0 308.7 357.0 309.2 357.0 309.7 357.0 310.2 357.0 310.7 357.0 311.2 356.6 311.7 356.5 312.2 356.4 312.7 356.2 313.2 356.1 313.7 356.0 314.2 355.9 314.7 355.8 315.2 355.7 315.7 355.5 316.2 355.4 316.7 355.3 317.2 355.2 317.7 355.1 318.2 355.0 318.7 354.9 319.2 354.8 319.7 354.8 320.2 354.7 320.7 354.6 321.2 354.5 321.7 354.5 322.2 354.4 322.7 354.3 323.2 354.3 323.7 354.2 324.2 354.2 324.7 354.1 325.2 354.1 325.7 354.1 326.2 354.1 326.7 354.1 327.2 354.1 327.7 354.0 328.2 354.0 328.7 354.0 329.2 354.0 329.7 354.0 330.2 354.0 330.7 354.0 331.2 354.0 331.7 354.0 332.2 354.0 332.7 354.0 333.2 354.0 333.7 354.1 334.2 354.1 334.7 354.1 335.2 354.1 335.7 354.2 336.2 354.2 336.7 354.2 337.2 354.3 337.7 354.3 338.2 354.3 338.7 354.4 339.2 354.4 339.7 354.4 340.2 354.4 340.7 354.5 341.2 354.5 341.7 354.5 342.2 354.6 342.7 354.6 343.2 354.7 343.7 354.7 344.2 354.7 344.7 354.8 345.2 354.8 345.7 354.8 346.2 354.8 346.7 354.8 347.2 354.9 347.7 354.9 348.2 354.9 348.7 354.9 349.2 354.9 349.7 354.9 350.2 355.0 350.7 355.0 351.2 355.0 351.7 355.0 352.2 355.0 352.7 355.1 353.2 355.1 353.7 355.1 354.2 355.2 354.7 355.2 355.2 355.3 355.7 355.3 356.2 355.4 356.7 355.4 357.2 355.5 357.7 355.6 358.2 355.7 358.7 355.9 359.2 356.3 359.7 357.0 360.2 357.0 360.3 357.0 360.3 357.0 360.2 357.7 359.7 358.1 359.2 358.3 358.7 358.4 358.2 358.5 357.7 358.6 357.2 358.6 356.7 358.7 356.2 358.7 355.7 358.8 355.2 358.8 354.7 358.9 354.2 358.9 353.7 358.9 353.2 359.0 352.7 359.0 352.2 359.0 351.7 359.0 351.2 359.0 350.7 359.1 350.2 359.1 349.7 359.1 349.2 359.1 348.7 359.1 348.2 359.1 347.7 359.2 347.2 359.2 346.7 359.2 346.2 359.2 345.7 359.2 345.2 359.3 344.7 359.3 344.2 359.3 343.7 359.4 343.2 359.4 342.7 359.5 342.2 359.5 341.7 359.5 341.2 359.6 340.7 359.6 340.2 359.6 339.7 359.6 339.2 359.7 338.7 359.7 338.2 359.7 337.7 359.8 337.2 359.8 336.7 359.8 336.2 359.9 335.7 359.9 335.2 359.9 334.7 359.9 334.2 360.0 333.7 360.0 333.2 360.0 332.7 360.0 332.2 360.0 331.7 360.0 331.2 360.0 330.7 360.0 330.2 360.0 329.7 360.0 329.2 360.0 328.7 360.0 328.2 359.9 327.7 359.9 327.2 359.9 326.7 359.9 326.2 359.9 325.7 359.9 325.2 359.8 324.7 359.8 324.2 359.7 323.7 359.7 323.2 359.6 322.7 359.5 322.2 359.5 321.7 359.4 321.2 359.3 320.7 359.2 320.2 359.2 319.7 359.1 319.2 359.0 318.7 358.9 318.2 358.8 317.7 358.7 317.2 358.6 316.7 358.5 316.2 358.3 315.7 358.2 315.2 358.1 314.7 358.0 314.2 357.9 313.7 357.8 313.2 357.6 312.7 357.5 312.2 357.4 311.7 357.0 311.2 357.0 310.7 357.0 310.2 357.0 309.7 357.0 309.2 357.0 308.7 357.0 308.2 357.0 307.7 357.0 307.2 357.0 306.7 357.0 306.2 357.0 305.7 357.0 305.2 357.0 304.7 357.0 304.2 357.0 303.7 357.0 303.2 357.0 302.7 357.0 302.2 357.0 301.7Z" fill="#c77cff" stroke="#6a6a6a" stroke-width="0.60" stroke-linejoin="round"/>
<path d="M376.8 305.8 374.5 306.3 374.4 306.8 374.4 307.3 374.3 307.8 374.3 308.3 374.3 308.8 374.3 309.3 374.3 309.8 374.3 310.3 374.3 310.8 374.3 311.3 374.3 311.8 374.3 312.3 374.3 312.8 374.3 313.3 374.3 313.8 374.3 314.3 374.3 314.8 374.3 315.3 374.2 315.8 374.2 316.3 374.2 316.8 374.2 317.3 374.2 317.8 374.2 318.3 374.2 318.8 374.2 319.3 374.2 319.8 374.2 320.3 374.2 320.8 374.2 321.3 374.2 321.8 374.2 322.3 374.2 322.8 374.2 323.3 374.2 323.8 374.2 324.3 374.2 324.8 374.2 325.3 374.2 325.8 374.2 326.3 374.2 326.8 374.2 327.3 374.2 327.8 374.2 328.3 374.2 328.8 374.2 329.3 374.2 329.8 374.2 330.3 374.2 330.8 374.2 331.3 374.2 331.8 374.2 332.3 374.2 332.8 374.2 333.3 374.2 333.8 374.2 334.3 374.2 334.8 374.2 335.3 374.2 335.8 374.2 336.3 374.2 336.8 374.2 337.3 374.2 337.8 374.2 338.3 374.2 338.8 374.2 339.3 374.2 339.8 374.2 340.3 374.2 340.8 374.2 341.3 374.2 341.8 374.2 342.3 374.2 342.8 374.2 343.3 374.2 343.8 374.2 344.3 374.2 344.8 374.2 345.3 374.2 345.8 374.3 346.3 374.4 346.8 374.5 347.3 374.6 347.8 374.9 348.3 375.6 348.8 376.8 349.3 376.8 349.4 376.8 349.4 376.8 349.3 378.0 348.8 378.7 348.3 379.0 347.8 379.1 347.3 379.2 346.8 379.3 346.3 379.4 345.8 379.4 345.3 379.4 344.8 379.4 344.3 379.4 343.8 379.4 343.3 379.4 342.8 379.4 342.3 379.4 341.8 379.4 341.3 379.4 340.8 379.4 340.3 379.4 339.8 379.4 339.3 379.4 338.8 379.4 338.3 379.4 337.8 379.4 337.3 379.4 336.8 379.4 336.3 379.4 335.8 379.4 335.3 379.4 334.8 379.4 334.3 379.4 333.8 379.4 333.3 379.4 332.8 379.4 332.3 379.4 331.8 379.4 331.3 379.4 330.8 379.4 330.3 379.4 329.8 379.4 329.3 379.4 328.8 379.4 328.3 379.4 327.8 379.4 327.3 379.4 326.8 379.4 326.3 379.4 325.8 379.4 325.3 379.4 324.8 379.4 324.3 379.4 323.8 379.4 323.3 379.4 322.8 379.4 322.3 379.4 321.8 379.4 321.3 379.4 320.8 379.4 320.3 379.4 319.8 379.4 319.3 379.4 318.8 379.4 318.3 379.4 317.8 379.4 317.3 379.4 316.8 379.4 316.3 379.4 315.8 379.3 315.3 379.3 314.8 379.3 314.3 379.3 313.8 379.3 313.3 379.3 312.8 379.3 312.3 379.3 311.8 379.3 311.3 379.3 310.8 379.3 310.3 379.3 309.8 379.3 309.3 379.3 308.8 379.3 308.3 379.3 307.8 379.2 307.3 379.2 306.8 379.1 306.3 376.8 305.8Z" fill="#ff8c00" stroke="#6a6a6a" stroke-width="0.60" stroke-linejoin="round"/>
<path d="M382.6 299.2 382.6 299.7 382.6 300.2 382.6 300.7 382.6 301.2 382.6 301.7 382.6 302.2 382.6 302.7 382.6 303.2 382.6 303.7 382.2 304.2 382.1 304.7 382.0 305.2 381.8 305.7 381.7 306.2 381.5 306.7 381.3 307.2 381.2 307.7 381.1 308.2 380.9 308.7 380.8 309.2 380.7 309.7 380.6 310.2 380.5 310.7 380.3 311.2 380.2 311.7 380.2 312.2 380.1 312.7 380.0 313.2 380.0 313.7 380.0 314.2 380.0 314.7 380.0 315.2 380.0 315.7 380.1 316.2 380.1 316.7 380.1 317.2 380.2 317.7 380.2 318.2 380.3 318.7 380.3 319.2 380.4 319.7 380.4 320.2 380.5 320.7 380.5 321.2 380.5 321.7 380.6 322.2 380.6 322.7 380.7 323.2 380.7 323.7 380.8 324.2 380.9 324.7 381.0 325.2 381.0 325.7 381.1 326.2 381.3 326.7 381.5 327.2 381.7 327.7 381.9 328.2 382.0 328.7 382.2 329.2 382.6 329.7 382.6 330.2 382.6 330.7 382.6 331.2 382.6 331.7 382.6 332.2 382.6 332.7 382.6 333.2 382.6 333.7 382.6 334.2 382.6 334.7 382.6 335.2 382.6 335.7 382.6 336.2 382.6 336.7 382.6 337.2 382.6 337.7 382.6 338.2 382.6 338.7 382.6 339.2 382.6 339.7 382.6 340.2 382.6 340.7 382.6 341.2 382.6 341.7 382.6 342.2 382.6 342.7 382.6 343.2 382.6 343.7 382.6 344.2 382.6 344.7 382.6 345.2 382.6 345.7 382.6 346.2 382.6 346.7 382.6 347.2 382.6 347.7 382.6 348.2 382.6 348.7 382.6 349.2 382.6 349.7 382.6 350.2 382.6 350.7 382.6 351.2 382.6 351.7 382.6 352.2 382.6 352.7 382.6 353.2 382.6 353.7 382.6 354.2 382.6 354.7 382.6 355.2 382.6 355.7 382.6 356.2 382.6 356.7 382.6 357.2 382.6 357.7 382.6 358.2 382.6 358.7 382.6 359.2 382.6 359.7 382.6 359.7 382.6 359.2 382.6 358.7 382.6 358.2 382.6 357.7 382.6 357.2 382.6 356.7 382.6 356.2 382.6 355.7 382.6 355.2 382.6 354.7 382.6 354.2 382.6 353.7 382.6 353.2 382.6 352.7 382.6 352.2 382.6 351.7 382.6 351.2 382.6 350.7 382.6 350.2 382.6 349.7 382.6 349.2 382.6 348.7 382.6 348.2 382.6 347.7 382.6 347.2 382.6 346.7 382.6 346.2 382.6 345.7 382.6 345.2 382.6 344.7 382.6 344.2 382.6 343.7 382.6 343.2 382.6 342.7 382.6 342.2 382.6 341.7 382.6 341.2 382.6 340.7 382.6 340.2 382.6 339.7 382.6 339.2 382.6 338.7 382.6 338.2 382.6 337.7 382.6 337.2 382.6 336.7 382.6 336.2 382.6 335.7 382.6 335.2 382.6 334.7 382.6 334.2 382.6 333.7 382.6 333.2 382.6 332.7 382.6 332.2 382.6 331.7 382.6 331.2 382.6 330.7 382.6 330.2 382.6 329.7 383.0 329.2 383.2 328.7 383.3 328.2 383.5 327.7 383.7 327.2 383.9 326.7 384.1 326.2 384.2 325.7 384.2 325.2 384.3 324.7 384.4 324.2 384.5 323.7 384.5 323.2 384.6 322.7 384.6 322.2 384.7 321.7 384.7 321.2 384.7 320.7 384.8 320.2 384.8 319.7 384.9 319.2 384.9 318.7 385.0 318.2 385.0 317.7 385.1 317.2 385.1 316.7 385.1 316.2 385.2 315.7 385.2 315.2 385.2 314.7 385.2 314.2 385.2 313.7 385.2 313.2 385.1 312.7 385.0 312.2 385.0 311.7 384.9 311.2 384.7 310.7 384.6 310.2 384.5 309.7 384.4 309.2 384.3 308.7 384.1 308.2 384.0 307.7 383.9 307.2 383.7 306.7 383.5 306.2 383.4 305.7 383.2 305.2 383.1 304.7 383.0 304.2 382.6 303.7 382.6 303.2 382.6 302.7 382.6 302.2 382.6 301.7 382.6 301.2 382.6 300.7 382.6 300.2 382.6 299.7 382.6 299.2Z" fill="#7cae00" stroke="#6a6a6a" stroke-width="0.60" stroke-linejoin="round"/>
<path d="M389.0 297.2 389.0 297.7 389.0 298.2 389.0 298.7 389.0 299.2 389.0 299.7 389.0 300.2 389.0 300.7 389.0 301.2 388.6 301.7 388.5 302.2 388.4 302.7 388.3 303.2 388.1 303.7 387.9 304.2 387.8 304.7 387.6 305.2 387.5 305.7 387.4 306.2 387.2 306.7 387.1 307.2 387.0 307.7 386.9 308.2 386.8 308.7 386.6 309.2 386.5 309.7 386.4 310.2 386.3 310.7 386.3 311.2 386.2 311.7 386.1 312.2 386.1 312.7 386.1 313.2 386.1 313.7 386.1 314.2 386.1 314.7 386.2 315.2 386.2 315.7 386.2 316.2 386.3 316.7 386.3 317.2 386.4 317.7 386.4 318.2 386.5 318.7 386.5 319.2 386.6 319.7 386.6 320.2 386.7 320.7 386.7 321.2 386.8 321.7 386.8 322.2 386.9 322.7 386.9 323.2 387.0 323.7 387.1 324.2 387.1 324.7 387.2 325.2 387.3 325.7 387.3 326.2 387.4 326.7 387.5 327.2 387.6 327.7 387.6 328.2 387.7 328.7 387.8 329.2 388.0 329.7 388.2 330.2 388.3 330.7 388.5 331.2 388.6 331.7 388.6 332.2 388.6 332.7 389.0 333.2 389.0 333.7 389.0 334.2 389.0 334.7 389.0 335.2 389.0 335.7 389.0 336.2 389.0 336.7 389.0 337.2 389.0 337.7 389.0 338.2 389.0 338.7 389.0 339.2 389.0 339.7 389.0 340.2 389.0 340.7 389.0 341.2 389.0 341.7 389.0 342.2 389.0 342.7 389.0 343.2 389.0 343.7 389.0 344.2 389.0 344.7 389.0 345.2 389.0 345.7 389.0 346.2 389.0 346.7 389.0 347.2 389.0 347.7 389.0 348.2 389.0 348.7 389.0 349.2 389.0 349.7 389.0 350.2 389.0 350.7 389.0 351.2 389.0 351.7 389.0 352.2 389.0 352.7 389.0 353.2 389.0 353.7 389.0 354.2 389.0 354.7 389.0 355.2 389.0 355.7 389.0 356.2 389.0 356.7 389.0 357.2 389.0 357.7 389.0 358.2 389.0 358.7 389.0 359.2 389.0 359.7 389.0 360.2 389.0 360.7 389.0 361.2 389.0 361.7 389.0 362.2 389.0 362.7 389.0 363.2 389.0 363.7 389.0 364.2 389.0 364.7 389.0 365.2 389.0 365.7 389.0 366.2 389.0 366.7 389.0 367.2 389.0 367.6 389.0 367.6 389.0 367.2 389.0 366.7 389.0 366.2 389.0 365.7 389.0 365.2 389.0 364.7 389.0 364.2 389.0 363.7 389.0 363.2 389.0 362.7 389.0 362.2 389.0 361.7 389.0 361.2 389.0 360.7 389.0 360.2 389.0 359.7 389.0 359.2 389.0 358.7 389.0 358.2 389.0 357.7 389.0 357.2 389.0 356.7 389.0 356.2 389.0 355.7 389.0 355.2 389.0 354.7 389.0 354.2 389.0 353.7 389.0 353.2 389.0 352.7 389.0 352.2 389.0 351.7 389.0 351.2 389.0 350.7 389.0 350.2 389.0 349.7 389.0 349.2 389.0 348.7 389.0 348.2 389.0 347.7 389.0 347.2 389.0 346.7 389.0 346.2 389.0 345.7 389.0 345.2 389.0 344.7 389.0 344.2 389.0 343.7 389.0 343.2 389.0 342.7 389.0 342.2 389.0 341.7 389.0 341.2 389.0 340.7 389.0 340.2 389.0 339.7 389.0 339.2 389.0 338.7 389.0 338.2 389.0 337.7 389.0 337.2 389.0 336.7 389.0 336.2 389.0 335.7 389.0 335.2 389.0 334.7 389.0 334.2 389.0 333.7 389.0 333.2 389.4 332.7 389.4 332.2 389.4 331.7 389.5 331.2 389.7 330.7 389.8 330.2 390.0 329.7 390.2 329.2 390.3 328.7 390.4 328.2 390.4 327.7 390.5 327.2 390.6 326.7 390.7 326.2 390.7 325.7 390.8 325.2 390.9 324.7 390.9 324.2 391.0 323.7 391.1 323.2 391.1 322.7 391.2 322.2 391.2 321.7 391.3 321.2 391.3 320.7 391.4 320.2 391.4 319.7 391.5 319.2 391.5 318.7 391.6 318.2 391.6 317.7 391.7 317.2 391.7 316.7 391.8 316.2 391.8 315.7 391.8 315.2 391.9 314.7 391.9 314.2 391.9 313.7 391.9 313.2 391.9 312.7 391.9 312.2 391.8 311.7 391.7 311.2 391.7 310.7 391.6 310.2 391.5 309.7 391.4 309.2 391.2 308.7 391.1 308.2 391.0 307.7 390.9 307.2 390.8 306.7 390.6 306.2 390.5 305.7 390.4 305.2 390.2 304.7 390.1 304.2 389.9 303.7 389.7 303.2 389.6 302.7 389.5 302.2 389.4 301.7 389.0 301.2 389.0 300.7 389.0 300.2 389.0 299.7 389.0 299.2 389.0 298.7 389.0 298.2 389.0 297.7 389.0 297.2Z" fill="#00bfc4" stroke="#6a6a6a" stroke-width="0.60" stroke-linejoin="round"/>
<path d="M395.0 302.5 395.0 303.0 395.0 303.5 395.0 304.0 395.0 304.5 395.0 305.0 395.0 305.5 395.0 306.0 395.0 306.5 395.0 307.0 395.0 307.5 395.0 308.0 395.0 308.5 395.0 309.0 395.0 309.5 395.0 310.0 395.0 310.5 395.0 311.0 395.0 311.5 395.0 312.0 395.0 312.5 395.0 313.0 394.6 313.5 394.6 314.0 394.5 314.5 394.3 315.0 394.0 315.5 393.7 316.0 393.4 316.5 393.2 317.0 393.0 317.5 392.8 318.0 392.6 318.5 392.4 319.0 392.3 319.5 392.2 320.0 392.1 320.5 392.1 321.0 392.1 321.5 392.1 322.0 392.1 322.5 392.1 323.0 392.1 323.5 392.1 324.0 392.1 324.5 392.1 325.0 392.1 325.5 392.1 326.0 392.2 326.5 392.2 327.0 392.3 327.5 392.3 328.0 392.4 328.5 392.5 329.0 392.5 329.5 392.6 330.0 392.7 330.5 392.7 331.0 392.8 331.5 392.9 332.0 393.0 332.5 393.1 333.0 393.2 333.5 393.2 334.0 393.3 334.5 393.4 335.0 393.5 335.5 393.5 336.0 393.6 336.5 393.6 337.0 393.7 337.5 393.8 338.0 393.8 338.5 393.9 339.0 393.9 339.5 394.0 340.0 394.1 340.5 394.2 341.0 394.4 341.5 394.5 342.0 394.6 342.5 394.6 343.0 394.6 343.5 394.6 344.0 394.6 344.5 394.7 345.0 395.0 345.5 395.0 346.0 395.0 346.5 395.0 347.0 395.0 347.5 395.0 348.0 395.0 348.5 395.0 349.0 395.0 349.3 395.0 349.3 395.0 349.0 395.0 348.5 395.0 348.0 395.0 347.5 395.0 347.0 395.0 346.5 395.0 346.0 395.0 345.5 395.3 345.0 395.4 344.5 395.4 344.0 395.4 343.5 395.4 343.0 395.4 342.5 395.5 342.0 395.6 341.5 395.8 341.0 395.9 340.5 396.0 340.0 396.1 339.5 396.1 339.0 396.2 338.5 396.2 338.0 396.3 337.5 396.4 337.0 396.4 336.5 396.5 336.0 396.5 335.5 396.6 335.0 396.7 334.5 396.8 334.0 396.8 333.5 396.9 333.0 397.0 332.5 397.1 332.0 397.2 331.5 397.3 331.0 397.3 330.5 397.4 330.0 397.5 329.5 397.5 329.0 397.6 328.5 397.7 328.0 397.7 327.5 397.8 327.0 397.8 326.5 397.9 326.0 397.9 325.5 397.9 325.0 397.9 324.5 397.9 324.0 397.9 323.5 397.9 323.0 397.9 322.5 397.9 322.0 397.9 321.5 397.9 321.0 397.9 320.5 397.8 320.0 397.7 319.5 397.6 319.0 397.4 318.5 397.2 318.0 397.0 317.5 396.8 317.0 396.6 316.5 396.3 316.0 396.0 315.5 395.7 315.0 395.5 314.5 395.4 314.0 395.4 313.5 395.0 313.0 395.0 312.5 395.0 312.0 395.0 311.5 395.0 311.0 395.0 310.5 395.0 310.0 395.0 309.5 395.0 309.0 395.0 308.5 395.0 308.0 395.0 307.5 395.0 307.0 395.0 306.5 395.0 306.0 395.0 305.5 395.0 305.0 395.0 304.5 395.0 304.0 395.0 303.5 395.0 303.0 395.0 302.5Z" fill="#c77cff" stroke="#6a6a6a" stroke-width="0.60" stroke-linejoin="round"/>
<path d="M413.3 298.6 412.4 299.1 412.3 299.6 412.1 300.1 412.1 300.6 412.0 301.1 411.9 301.6 411.8 302.1 411.8 302.6 411.7 303.1 411.6 303.6 411.6 304.1 411.5 304.6 411.5 305.1 411.4 305.6 411.3 306.1 411.2 306.6 411.2 307.1 411.1 307.6 411.0 308.1 411.0 308.6 410.9 309.1 410.8 309.6 410.8 310.1 410.7 310.6 410.7 311.1 410.7 311.6 410.6 312.1 410.6 312.6 410.6 313.1 410.6 313.6 410.6 314.1 410.6 314.6 410.7 315.1 410.7 315.6 410.7 316.1 410.8 316.6 410.8 317.1 410.9 317.6 410.9 318.1 410.9 318.6 411.0 319.1 411.0 319.6 411.1 320.1 411.1 320.6 411.2 321.1 411.2 321.6 411.3 322.1 411.3 322.6 411.4 323.1 411.5 323.6 411.5 324.1 411.6 324.6 411.6 325.1 411.7 325.6 411.8 326.1 411.9 326.6 411.9 327.1 412.0 327.6 412.1 328.1 412.1 328.6 412.2 329.1 412.3 329.6 412.3 330.1 412.4 330.6 412.4 331.1 412.4 331.6 412.4 332.1 412.5 332.6 412.5 333.1 412.5 333.6 412.5 334.1 412.6 334.6 412.6 335.1 412.7 335.6 412.8 336.1 413.3 336.6 413.3 336.8 413.3 336.8 413.3 336.6 413.8 336.1 413.9 335.6 414.0 335.1 414.0 334.6 414.1 334.1 414.1 333.6 414.1 333.1 414.1 332.6 414.2 332.1 414.2 331.6 414.2 331.1 414.2 330.6 414.3 330.1 414.3 329.6 414.4 329.1 414.5 328.6 414.5 328.1 414.6 327.6 414.7 327.1 414.7 326.6 414.8 326.1 414.9 325.6 415.0 325.1 415.0 324.6 415.1 324.1 415.1 323.6 415.2 323.1 415.3 322.6 415.3 322.1 415.4 321.6 415.4 321.1 415.5 320.6 415.5 320.1 415.6 319.6 415.6 319.1 415.7 318.6 415.7 318.1 415.7 317.6 415.8 317.1 415.8 316.6 415.9 316.1 415.9 315.6 415.9 315.1 416.0 314.6 416.0 314.1 416.0 313.6 416.0 313.1 416.0 312.6 416.0 312.1 415.9 311.6 415.9 311.1 415.9 310.6 415.8 310.1 415.8 309.6 415.7 309.1 415.6 308.6 415.6 308.1 415.5 307.6 415.4 307.1 415.4 306.6 415.3 306.1 415.2 305.6 415.1 305.1 415.1 304.6 415.0 304.1 415.0 303.6 414.9 303.1 414.8 302.6 414.8 302.1 414.7 301.6 414.6 301.1 414.5 300.6 414.5 300.1 414.3 299.6 414.2 299.1 413.3 298.6Z" fill="#ff8c00" stroke="#6a6a6a" stroke-width="0.60" stroke-linejoin="round"/>
<path d="M419.6 333.1 419.6 333.6 419.6 334.1 419.6 334.6 419.6 335.1 419.6 335.6 419.6 336.1 419.6 336.6 419.6 337.1 419.6 337.6 419.6 338.1 419.6 338.6 419.6 339.1 419.6 339.6 419.6 340.1 419.6 340.6 419.6 341.1 419.6 341.6 419.2 342.1 419.2 342.6 419.2 343.1 419.1 343.6 418.9 344.1 418.8 344.6 418.6 345.1 418.4 345.6 418.2 346.1 418.1 346.6 418.0 347.1 417.9 347.6 417.8 348.1 417.6 348.6 417.5 349.1 417.4 349.6 417.3 350.1 417.2 350.6 417.1 351.1 417.0 351.6 417.0 352.1 416.9 352.6 416.9 353.1 416.9 353.6 416.9 354.1 417.0 354.6 417.0 355.1 417.1 355.6 417.2 356.1 417.3 356.6 417.4 357.1 417.6 357.6 417.8 358.1 418.0 358.6 418.2 359.1 418.5 359.6 418.7 360.1 418.8 360.6 418.8 361.1 418.8 361.6 418.7 362.1 418.6 362.6 418.5 363.1 418.4 363.6 418.4 363.7 420.8 363.7 420.8 363.6 420.7 363.1 420.6 362.6 420.5 362.1 420.4 361.6 420.4 361.1 420.4 360.6 420.5 360.1 420.7 359.6 421.0 359.1 421.2 358.6 421.4 358.1 421.6 357.6 421.8 357.1 421.9 356.6 422.0 356.1 422.1 355.6 422.2 355.1 422.2 354.6 422.3 354.1 422.3 353.6 422.3 353.1 422.3 352.6 422.2 352.1 422.2 351.6 422.1 351.1 422.0 350.6 421.9 350.1 421.8 349.6 421.7 349.1 421.6 348.6 421.4 348.1 421.3 347.6 421.2 347.1 421.1 346.6 421.0 346.1 420.8 345.6 420.6 345.1 420.4 344.6 420.3 344.1 420.1 343.6 420.0 343.1 420.0 342.6 420.0 342.1 419.6 341.6 419.6 341.1 419.6 340.6 419.6 340.1 419.6 339.6 419.6 339.1 419.6 338.6 419.6 338.1 419.6 337.6 419.6 337.1 419.6 336.6 419.6 336.1 419.6 335.6 419.6 335.1 419.6 334.6 419.6 334.1 419.6 333.6 419.6 333.1Z" fill="#7cae00" stroke="#6a6a6a" stroke-width="0.60" stroke-linejoin="round"/>
<path d="M426.0 304.0 426.0 304.5 426.0 305.0 426.0 305.5 426.0 306.0 426.0 306.5 426.0 307.0 426.0 307.5 426.0 308.0 426.0 308.5 426.0 309.0 426.0 309.5 426.0 310.0 426.0 310.5 426.0 311.0 426.0 311.5 426.0 312.0 426.0 312.5 426.0 313.0 426.0 313.5 426.0 314.0 426.0 314.5 426.0 315.0 426.0 315.5 426.0 316.0 426.0 316.5 426.0 317.0 426.0 317.5 426.0 318.0 426.0 318.5 426.0 319.0 426.0 319.5 426.0 320.0 426.0 320.5 426.0 321.0 426.0 321.5 426.0 322.0 426.0 322.5 426.0 323.0 426.0 323.5 426.0 324.0 426.0 324.5 426.0 325.0 426.0 325.5 426.0 326.0 426.0 326.5 426.0 327.0 426.0 327.5 426.0 328.0 426.0 328.5 426.0 329.0 426.0 329.5 425.7 330.0 425.6 330.5 425.6 331.0 425.6 331.5 425.6 332.0 425.6 332.5 425.5 333.0 425.5 333.5 425.4 334.0 425.3 334.5 425.3 335.0 425.2 335.5 425.1 336.0 425.0 336.5 424.9 337.0 424.9 337.5 424.8 338.0 424.7 338.5 424.7 339.0 424.6 339.5 424.6 340.0 424.5 340.5 424.4 341.0 424.4 341.5 424.3 342.0 424.3 342.5 424.2 343.0 424.2 343.5 424.1 344.0 424.1 344.5 424.0 345.0 423.9 345.5 423.9 346.0 423.8 346.5 423.8 347.0 423.7 347.5 423.6 348.0 423.6 348.5 423.5 349.0 423.5 349.5 423.4 350.0 423.4 350.5 423.3 351.0 423.3 351.5 423.2 352.0 423.2 352.5 423.2 353.0 423.2 353.5 423.2 354.0 423.3 354.5 423.3 355.0 423.4 355.5 423.5 356.0 423.7 356.5 423.8 357.0 423.9 357.5 424.0 358.0 424.1 358.5 424.3 359.0 424.4 359.5 424.6 360.0 424.8 360.5 424.9 361.0 425.0 361.5 425.0 362.0 425.0 362.5 424.9 363.0 424.8 363.5 424.8 363.7 427.2 363.7 427.2 363.5 427.1 363.0 427.0 362.5 427.0 362.0 427.0 361.5 427.1 361.0 427.2 360.5 427.4 360.0 427.6 359.5 427.7 359.0 427.9 358.5 428.0 358.0 428.1 357.5 428.2 357.0 428.3 356.5 428.5 356.0 428.6 355.5 428.7 355.0 428.7 354.5 428.8 354.0 428.8 353.5 428.8 353.0 428.8 352.5 428.8 352.0 428.7 351.5 428.7 351.0 428.6 350.5 428.6 350.0 428.5 349.5 428.5 349.0 428.4 348.5 428.4 348.0 428.3 347.5 428.2 347.0 428.2 346.5 428.1 346.0 428.1 345.5 428.0 345.0 427.9 344.5 427.9 344.0 427.8 343.5 427.8 343.0 427.7 342.5 427.7 342.0 427.6 341.5 427.6 341.0 427.5 340.5 427.4 340.0 427.4 339.5 427.3 339.0 427.3 338.5 427.2 338.0 427.1 337.5 427.1 337.0 427.0 336.5 426.9 336.0 426.8 335.5 426.7 335.0 426.7 334.5 426.6 334.0 426.5 333.5 426.5 333.0 426.4 332.5 426.4 332.0 426.4 331.5 426.4 331.0 426.4 330.5 426.3 330.0 426.0 329.5 426.0 329.0 426.0 328.5 426.0 328.0 426.0 327.5 426.0 327.0 426.0 326.5 426.0 326.0 426.0 325.5 426.0 325.0 426.0 324.5 426.0 324.0 426.0 323.5 426.0 323.0 426.0 322.5 426.0 322.0 426.0 321.5 426.0 321.0 426.0 320.5 426.0 320.0 426.0 319.5 426.0 319.0 426.0 318.5 426.0 318.0 426.0 317.5 426.0 317.0 426.0 316.5 426.0 316.0 426.0 315.5 426.0 315.0 426.0 314.5 426.0 314.0 426.0 313.5 426.0 313.0 426.0 312.5 426.0 312.0 426.0 311.5 426.0 311.0 426.0 310.5 426.0 310.0 426.0 309.5 426.0 309.0 426.0 308.5 426.0 308.0 426.0 307.5 426.0 307.0 426.0 306.5 426.0 306.0 426.0 305.5 426.0 305.0 426.0 304.5 426.0 304.0Z" fill="#00bfc4" stroke="#6a6a6a" stroke-width="0.60" stroke-linejoin="round"/>
<path d="M432.0 294.0 432.0 294.5 432.0 295.0 432.0 295.5 432.0 296.0 432.0 296.5 432.0 297.0 432.0 297.5 432.0 298.0 432.0 298.5 432.0 299.0 432.0 299.5 432.0 300.0 432.0 300.5 432.0 301.0 432.0 301.5 432.0 302.0 432.0 302.5 432.0 303.0 432.0 303.5 432.0 304.0 432.0 304.5 432.0 305.0 432.0 305.5 432.0 306.0 432.0 306.5 432.0 307.0 432.0 307.5 432.0 308.0 432.0 308.5 432.0 309.0 432.0 309.5 432.0 310.0 431.6 310.5 431.6 311.0 431.6 311.5 431.6 312.0 431.5 312.5 431.4 313.0 431.3 313.5 431.3 314.0 431.1 314.5 431.0 315.0 430.9 315.5 430.8 316.0 430.7 316.5 430.6 317.0 430.6 317.5 430.5 318.0 430.4 318.5 430.4 319.0 430.3 319.5 430.3 320.0 430.2 320.5 430.2 321.0 430.1 321.5 430.1 322.0 430.0 322.5 430.0 323.0 430.0 323.5 429.9 324.0 429.9 324.5 429.8 325.0 429.8 325.5 429.8 326.0 429.7 326.5 429.7 327.0 429.7 327.5 429.6 328.0 429.6 328.5 429.6 329.0 429.5 329.5 429.5 330.0 429.5 330.5 429.4 331.0 429.4 331.5 429.4 332.0 429.4 332.5 429.3 333.0 429.3 333.5 429.3 334.0 429.2 334.5 429.2 335.0 429.2 335.5 429.2 336.0 429.2 336.5 429.1 337.0 429.1 337.5 429.1 338.0 429.1 338.5 429.1 339.0 429.1 339.5 429.1 340.0 429.1 340.5 429.1 341.0 429.2 341.5 429.2 342.0 429.2 342.5 429.3 343.0 429.3 343.5 429.3 344.0 429.4 344.5 429.4 345.0 429.5 345.5 429.5 346.0 429.5 346.5 429.6 347.0 429.6 347.5 429.7 348.0 429.7 348.5 429.7 349.0 429.8 349.5 429.8 350.0 429.9 350.5 429.9 351.0 430.0 351.5 430.0 352.0 430.0 352.5 430.1 353.0 430.1 353.5 430.2 354.0 430.2 354.5 430.2 355.0 430.3 355.5 430.3 356.0 430.4 356.5 430.4 357.0 430.5 357.5 430.5 358.0 430.5 358.5 430.6 359.0 430.7 359.5 430.7 360.0 430.8 360.5 430.8 361.0 430.9 361.5 430.9 362.0 430.9 362.5 431.0 363.0 431.0 363.5 431.0 363.7 433.0 363.7 433.0 363.5 433.0 363.0 433.1 362.5 433.1 362.0 433.1 361.5 433.2 361.0 433.2 360.5 433.3 360.0 433.3 359.5 433.4 359.0 433.5 358.5 433.5 358.0 433.5 357.5 433.6 357.0 433.6 356.5 433.7 356.0 433.7 355.5 433.8 355.0 433.8 354.5 433.8 354.0 433.9 353.5 433.9 353.0 434.0 352.5 434.0 352.0 434.0 351.5 434.1 351.0 434.1 350.5 434.2 350.0 434.2 349.5 434.3 349.0 434.3 348.5 434.3 348.0 434.4 347.5 434.4 347.0 434.5 346.5 434.5 346.0 434.5 345.5 434.6 345.0 434.6 344.5 434.7 344.0 434.7 343.5 434.7 343.0 434.8 342.5 434.8 342.0 434.8 341.5 434.9 341.0 434.9 340.5 434.9 340.0 434.9 339.5 434.9 339.0 434.9 338.5 434.9 338.0 434.9 337.5 434.9 337.0 434.8 336.5 434.8 336.0 434.8 335.5 434.8 335.0 434.8 334.5 434.7 334.0 434.7 333.5 434.7 333.0 434.6 332.5 434.6 332.0 434.6 331.5 434.6 331.0 434.5 330.5 434.5 330.0 434.5 329.5 434.4 329.0 434.4 328.5 434.4 328.0 434.3 327.5 434.3 327.0 434.3 326.5 434.2 326.0 434.2 325.5 434.2 325.0 434.1 324.5 434.1 324.0 434.0 323.5 434.0 323.0 434.0 322.5 433.9 322.0 433.9 321.5 433.8 321.0 433.8 320.5 433.7 320.0 433.7 319.5 433.6 319.0 433.6 318.5 433.5 318.0 433.4 317.5 433.4 317.0 433.3 316.5 433.2 316.0 433.1 315.5 433.0 315.0 432.9 314.5 432.7 314.0 432.7 313.5 432.6 313.0 432.5 312.5 432.4 312.0 432.4 311.5 432.4 311.0 432.4 310.5 432.0 310.0 432.0 309.5 432.0 309.0 432.0 308.5 432.0 308.0 432.0 307.5 432.0 307.0 432.0 306.5 432.0 306.0 432.0 305.5 432.0 305.0 432.0 304.5 432.0 304.0 432.0 303.5 432.0 303.0 432.0 302.5 432.0 302.0 432.0 301.5 432.0 301.0 432.0 300.5 432.0 300.0 432.0 299.5 432.0 299.0 432.0 298.5 432.0 298.0 432.0 297.5 432.0 297.0 432.0 296.5 432.0 296.0 432.0 295.5 432.0 295.0 432.0 294.5 432.0 294.0Z" fill="#c77cff" stroke="#6a6a6a" stroke-width="0.60" stroke-linejoin="round"/>
<path d="M450.8 316.2 449.9 316.7 449.9 317.2 449.8 317.7 449.8 318.2 449.8 318.7 449.8 319.2 449.8 319.7 449.8 320.2 449.8 320.7 449.8 321.2 449.8 321.7 449.8 322.2 449.8 322.7 449.8 323.2 449.8 323.7 449.8 324.2 449.9 324.7 449.9 325.2 449.9 325.7 449.9 326.2 449.9 326.7 449.9 327.2 449.9 327.7 449.9 328.2 449.9 328.7 449.9 329.2 449.9 329.7 449.9 330.2 449.8 330.7 449.8 331.2 449.8 331.7 449.7 332.2 449.7 332.7 449.6 333.2 449.6 333.7 449.5 334.2 449.5 334.7 449.5 335.2 449.4 335.7 449.4 336.2 449.4 336.7 449.3 337.2 449.3 337.7 449.3 338.2 449.2 338.7 449.2 339.2 449.2 339.7 449.1 340.2 449.1 340.7 449.1 341.2 449.0 341.7 449.0 342.2 449.0 342.7 448.9 343.2 448.9 343.7 448.9 344.2 448.8 344.7 448.8 345.2 448.7 345.7 448.7 346.2 448.6 346.7 448.6 347.2 448.5 347.7 448.5 348.2 448.4 348.7 448.4 349.2 448.3 349.7 448.3 350.2 448.2 350.7 448.2 351.2 448.2 351.7 448.1 352.2 448.1 352.7 448.1 353.2 448.1 353.7 448.0 354.2 448.0 354.7 448.0 355.2 448.0 355.7 448.0 356.2 448.0 356.7 448.0 357.2 448.0 357.7 448.0 358.2 448.0 358.7 448.0 359.2 448.0 359.7 448.0 360.2 448.0 360.7 448.0 361.2 448.0 361.7 448.0 362.2 448.0 362.7 448.0 363.2 448.0 363.7 453.6 363.7 453.6 363.2 453.6 362.7 453.6 362.2 453.6 361.7 453.6 361.2 453.6 360.7 453.6 360.2 453.6 359.7 453.6 359.2 453.6 358.7 453.6 358.2 453.6 357.7 453.6 357.2 453.6 356.7 453.6 356.2 453.6 355.7 453.6 355.2 453.6 354.7 453.6 354.2 453.5 353.7 453.5 353.2 453.5 352.7 453.5 352.2 453.4 351.7 453.4 351.2 453.4 350.7 453.3 350.2 453.3 349.7 453.2 349.2 453.2 348.7 453.1 348.2 453.1 347.7 453.0 347.2 453.0 346.7 452.9 346.2 452.9 345.7 452.8 345.2 452.8 344.7 452.7 344.2 452.7 343.7 452.7 343.2 452.6 342.7 452.6 342.2 452.6 341.7 452.5 341.2 452.5 340.7 452.5 340.2 452.4 339.7 452.4 339.2 452.4 338.7 452.3 338.2 452.3 337.7 452.3 337.2 452.2 336.7 452.2 336.2 452.2 335.7 452.1 335.2 452.1 334.7 452.1 334.2 452.0 333.7 452.0 333.2 451.9 332.7 451.9 332.2 451.8 331.7 451.8 331.2 451.8 330.7 451.7 330.2 451.7 329.7 451.7 329.2 451.7 328.7 451.7 328.2 451.7 327.7 451.7 327.2 451.7 326.7 451.7 326.2 451.7 325.7 451.7 325.2 451.7 324.7 451.8 324.2 451.8 323.7 451.8 323.2 451.8 322.7 451.8 322.2 451.8 321.7 451.8 321.2 451.8 320.7 451.8 320.2 451.8 319.7 451.8 319.2 451.8 318.7 451.8 318.2 451.8 317.7 451.7 317.2 451.7 316.7 450.8 316.2Z" fill="#ff8c00" stroke="#6a6a6a" stroke-width="0.60" stroke-linejoin="round"/>
<path d="M456.8 308.3 456.8 308.8 456.8 309.3 456.8 309.8 456.8 310.3 456.8 310.8 456.8 311.3 456.8 311.8 456.8 312.3 456.8 312.8 456.8 313.3 456.8 313.8 456.8 314.3 456.8 314.8 456.8 315.3 456.8 315.8 456.8 316.3 456.8 316.8 456.8 317.3 456.8 317.8 456.4 318.3 456.4 318.8 456.4 319.3 456.3 319.8 456.3 320.3 456.2 320.8 456.1 321.3 456.0 321.8 455.9 322.3 455.8 322.8 455.7 323.3 455.6 323.8 455.6 324.3 455.5 324.8 455.4 325.3 455.3 325.8 455.3 326.3 455.2 326.8 455.1 327.3 455.1 327.8 455.0 328.3 455.0 328.8 454.9 329.3 454.8 329.8 454.8 330.3 454.7 330.8 454.7 331.3 454.6 331.8 454.6 332.3 454.5 332.8 454.5 333.3 454.4 333.8 454.4 334.3 454.3 334.8 454.3 335.3 454.2 335.8 454.2 336.3 454.1 336.8 454.1 337.3 454.0 337.8 454.0 338.3 454.0 338.8 454.0 339.3 454.0 339.8 454.0 340.3 454.0 340.8 454.1 341.3 454.1 341.8 454.1 342.3 454.2 342.8 454.2 343.3 454.3 343.8 454.3 344.3 454.4 344.8 454.4 345.3 454.5 345.8 454.5 346.3 454.6 346.8 454.6 347.3 454.7 347.8 454.8 348.3 454.9 348.8 454.9 349.3 455.0 349.8 455.1 350.3 455.1 350.8 455.2 351.3 455.3 351.8 455.3 352.3 455.4 352.8 455.5 353.3 455.5 353.8 455.6 354.3 455.7 354.8 455.7 355.3 455.8 355.8 455.8 356.3 455.9 356.8 455.9 357.3 456.0 357.8 456.0 358.3 456.0 358.8 456.0 359.3 456.0 359.8 455.9 360.3 455.8 360.8 455.8 361.3 455.7 361.8 455.7 362.3 455.6 362.8 455.5 363.3 455.5 363.7 458.1 363.7 458.1 363.3 458.0 362.8 457.9 362.3 457.9 361.8 457.8 361.3 457.8 360.8 457.7 360.3 457.6 359.8 457.6 359.3 457.6 358.8 457.6 358.3 457.6 357.8 457.7 357.3 457.7 356.8 457.8 356.3 457.8 355.8 457.9 355.3 457.9 354.8 458.0 354.3 458.1 353.8 458.1 353.3 458.2 352.8 458.3 352.3 458.3 351.8 458.4 351.3 458.5 350.8 458.5 350.3 458.6 349.8 458.7 349.3 458.7 348.8 458.8 348.3 458.9 347.8 459.0 347.3 459.0 346.8 459.1 346.3 459.1 345.8 459.2 345.3 459.2 344.8 459.3 344.3 459.3 343.8 459.4 343.3 459.4 342.8 459.5 342.3 459.5 341.8 459.5 341.3 459.6 340.8 459.6 340.3 459.6 339.8 459.6 339.3 459.6 338.8 459.6 338.3 459.6 337.8 459.5 337.3 459.5 336.8 459.4 336.3 459.4 335.8 459.3 335.3 459.3 334.8 459.2 334.3 459.2 333.8 459.1 333.3 459.1 332.8 459.0 332.3 459.0 331.8 458.9 331.3 458.9 330.8 458.8 330.3 458.8 329.8 458.7 329.3 458.6 328.8 458.6 328.3 458.5 327.8 458.5 327.3 458.4 326.8 458.3 326.3 458.3 325.8 458.2 325.3 458.1 324.8 458.0 324.3 458.0 323.8 457.9 323.3 457.8 322.8 457.7 322.3 457.6 321.8 457.5 321.3 457.4 320.8 457.3 320.3 457.3 319.8 457.2 319.3 457.2 318.8 457.2 318.3 456.8 317.8 456.8 317.3 456.8 316.8 456.8 316.3 456.8 315.8 456.8 315.3 456.8 314.8 456.8 314.3 456.8 313.8 456.8 313.3 456.8 312.8 456.8 312.3 456.8 311.8 456.8 311.3 456.8 310.8 456.8 310.3 456.8 309.8 456.8 309.3 456.8 308.8 456.8 308.3Z" fill="#7cae00" stroke="#6a6a6a" stroke-width="0.60" stroke-linejoin="round"/>
<path d="M463.0 293.9 463.0 294.4 463.0 294.9 463.0 295.4 463.0 295.9 463.0 296.4 463.0 296.9 463.0 297.4 463.0 297.9 463.0 298.4 463.0 298.9 463.0 299.4 463.0 299.9 463.0 300.4 463.0 300.9 463.0 301.4 463.0 301.9 463.0 302.4 463.0 302.9 463.0 303.4 463.0 303.9 463.0 304.4 463.0 304.9 463.0 305.4 463.0 305.9 463.0 306.4 463.0 306.9 463.0 307.4 463.0 307.9 463.0 308.4 463.0 308.9 463.0 309.4 463.0 309.9 463.0 310.4 463.0 310.9 463.0 311.4 463.0 311.9 463.0 312.4 463.0 312.9 463.0 313.4 463.0 313.9 463.0 314.4 463.0 314.9 463.0 315.4 462.7 315.9 462.6 316.4 462.6 316.9 462.6 317.4 462.6 317.9 462.5 318.4 462.5 318.9 462.4 319.4 462.3 319.9 462.2 320.4 462.1 320.9 462.0 321.4 461.9 321.9 461.8 322.4 461.7 322.9 461.6 323.4 461.5 323.9 461.4 324.4 461.4 324.9 461.3 325.4 461.3 325.9 461.2 326.4 461.1 326.9 461.1 327.4 461.0 327.9 461.0 328.4 460.9 328.9 460.8 329.4 460.8 329.9 460.7 330.4 460.7 330.9 460.7 331.4 460.6 331.9 460.6 332.4 460.5 332.9 460.5 333.4 460.4 333.9 460.4 334.4 460.3 334.9 460.3 335.4 460.3 335.9 460.2 336.4 460.2 336.9 460.2 337.4 460.1 337.9 460.1 338.4 460.1 338.9 460.1 339.4 460.1 339.9 460.1 340.4 460.1 340.9 460.1 341.4 460.2 341.9 460.2 342.4 460.2 342.9 460.3 343.4 460.3 343.9 460.4 344.4 460.4 344.9 460.4 345.4 460.5 345.9 460.5 346.4 460.6 346.9 460.7 347.4 460.7 347.9 460.8 348.4 460.9 348.9 461.0 349.4 461.1 349.9 461.2 350.4 461.2 350.9 461.3 351.4 461.4 351.9 461.4 352.4 461.5 352.9 461.6 353.4 461.6 353.9 461.7 354.4 461.8 354.9 461.8 355.4 461.9 355.9 462.0 356.4 462.0 356.9 462.1 357.4 462.1 357.9 462.1 358.4 462.2 358.9 462.2 359.4 462.2 359.9 462.2 360.4 462.1 360.9 462.1 361.4 462.0 361.9 461.9 362.4 461.9 362.9 461.8 363.4 461.8 363.7 464.2 363.7 464.2 363.4 464.1 362.9 464.1 362.4 464.0 361.9 463.9 361.4 463.9 360.9 463.8 360.4 463.8 359.9 463.8 359.4 463.8 358.9 463.9 358.4 463.9 357.9 463.9 357.4 464.0 356.9 464.0 356.4 464.1 355.9 464.2 355.4 464.2 354.9 464.3 354.4 464.4 353.9 464.4 353.4 464.5 352.9 464.6 352.4 464.6 351.9 464.7 351.4 464.8 350.9 464.8 350.4 464.9 349.9 465.0 349.4 465.1 348.9 465.2 348.4 465.3 347.9 465.3 347.4 465.4 346.9 465.5 346.4 465.5 345.9 465.6 345.4 465.6 344.9 465.6 344.4 465.7 343.9 465.7 343.4 465.8 342.9 465.8 342.4 465.8 341.9 465.9 341.4 465.9 340.9 465.9 340.4 465.9 339.9 465.9 339.4 465.9 338.9 465.9 338.4 465.9 337.9 465.8 337.4 465.8 336.9 465.8 336.4 465.7 335.9 465.7 335.4 465.7 334.9 465.6 334.4 465.6 333.9 465.5 333.4 465.5 332.9 465.4 332.4 465.4 331.9 465.3 331.4 465.3 330.9 465.3 330.4 465.2 329.9 465.2 329.4 465.1 328.9 465.0 328.4 465.0 327.9 464.9 327.4 464.9 326.9 464.8 326.4 464.7 325.9 464.7 325.4 464.6 324.9 464.6 324.4 464.5 323.9 464.4 323.4 464.3 322.9 464.2 322.4 464.1 321.9 464.0 321.4 463.9 320.9 463.8 320.4 463.7 319.9 463.6 319.4 463.5 318.9 463.5 318.4 463.4 317.9 463.4 317.4 463.4 316.9 463.4 316.4 463.3 315.9 463.0 315.4 463.0 314.9 463.0 314.4 463.0 313.9 463.0 313.4 463.0 312.9 463.0 312.4 463.0 311.9 463.0 311.4 463.0 310.9 463.0 310.4 463.0 309.9 463.0 309.4 463.0 308.9 463.0 308.4 463.0 307.9 463.0 307.4 463.0 306.9 463.0 306.4 463.0 305.9 463.0 305.4 463.0 304.9 463.0 304.4 463.0 303.9 463.0 303.4 463.0 302.9 463.0 302.4 463.0 301.9 463.0 301.4 463.0 300.9 463.0 300.4 463.0 299.9 463.0 299.4 463.0 298.9 463.0 298.4 463.0 297.9 463.0 297.4 463.0 296.9 463.0 296.4 463.0 295.9 463.0 295.4 463.0 294.9 463.0 294.4 463.0 293.9Z" fill="#00bfc4" stroke="#6a6a6a" stroke-width="0.60" stroke-linejoin="round"/>
<path d="M469.4 293.4 469.4 293.9 469.4 294.4 469.4 294.9 469.4 295.4 469.4 295.9 469.4 296.4 469.4 296.9 469.4 297.4 469.4 297.9 469.4 298.4 469.4 298.9 469.4 299.4 469.4 299.9 469.4 300.4 469.4 300.9 469.4 301.4 469.4 301.9 469.4 302.4 469.4 302.9 469.4 303.4 469.4 303.9 469.4 304.4 469.4 304.9 469.4 305.4 469.4 305.9 469.4 306.4 469.4 306.9 469.4 307.4 469.4 307.9 469.4 308.4 469.4 308.9 469.0 309.4 469.0 309.9 469.0 310.4 469.0 310.9 469.0 311.4 469.0 311.9 468.9 312.4 468.9 312.9 468.9 313.4 468.8 313.9 468.8 314.4 468.8 314.9 468.7 315.4 468.7 315.9 468.7 316.4 468.6 316.9 468.6 317.4 468.6 317.9 468.6 318.4 468.6 318.9 468.6 319.4 468.5 319.9 468.5 320.4 468.5 320.9 468.5 321.4 468.5 321.9 468.5 322.4 468.5 322.9 468.4 323.4 468.4 323.9 468.4 324.4 468.4 324.9 468.4 325.4 468.4 325.9 468.4 326.4 468.4 326.9 468.4 327.4 468.3 327.9 468.3 328.4 468.3 328.9 468.3 329.4 468.3 329.9 468.3 330.4 468.3 330.9 468.3 331.4 468.3 331.9 468.2 332.4 468.2 332.9 468.2 333.4 468.2 333.9 468.2 334.4 468.2 334.9 468.2 335.4 468.1 335.9 468.1 336.4 468.1 336.9 468.1 337.4 468.1 337.9 468.1 338.4 468.1 338.9 468.1 339.4 468.1 339.9 468.1 340.4 468.1 340.9 468.1 341.4 468.1 341.9 468.2 342.4 468.2 342.9 468.2 343.4 468.2 343.9 468.2 344.4 468.2 344.9 468.3 345.4 468.3 345.9 468.3 346.4 468.3 346.9 468.3 347.4 468.4 347.9 468.4 348.4 468.4 348.9 468.4 349.4 468.4 349.9 468.4 350.4 468.4 350.9 468.4 351.4 468.4 351.9 468.3 352.4 468.3 352.9 468.2 353.4 468.2 353.9 468.2 354.4 468.1 354.9 468.1 355.4 468.0 355.9 467.9 356.4 467.8 356.9 467.7 357.4 467.6 357.9 467.5 358.4 467.4 358.9 467.3 359.4 467.2 359.9 467.1 360.4 466.9 360.9 466.8 361.4 466.7 361.9 466.6 362.4 466.5 362.9 466.4 363.4 466.4 363.7 472.4 363.7 472.4 363.4 472.3 362.9 472.2 362.4 472.1 361.9 472.0 361.4 471.9 360.9 471.7 360.4 471.6 359.9 471.5 359.4 471.4 358.9 471.3 358.4 471.2 357.9 471.1 357.4 471.0 356.9 470.9 356.4 470.8 355.9 470.7 355.4 470.7 354.9 470.6 354.4 470.6 353.9 470.6 353.4 470.5 352.9 470.5 352.4 470.4 351.9 470.4 351.4 470.4 350.9 470.4 350.4 470.4 349.9 470.4 349.4 470.4 348.9 470.4 348.4 470.4 347.9 470.5 347.4 470.5 346.9 470.5 346.4 470.5 345.9 470.5 345.4 470.5 344.9 470.6 344.4 470.6 343.9 470.6 343.4 470.6 342.9 470.6 342.4 470.7 341.9 470.7 341.4 470.7 340.9 470.7 340.4 470.7 339.9 470.7 339.4 470.7 338.9 470.7 338.4 470.7 337.9 470.7 337.4 470.7 336.9 470.7 336.4 470.7 335.9 470.6 335.4 470.6 334.9 470.6 334.4 470.6 333.9 470.6 333.4 470.6 332.9 470.6 332.4 470.5 331.9 470.5 331.4 470.5 330.9 470.5 330.4 470.5 329.9 470.5 329.4 470.5 328.9 470.5 328.4 470.5 327.9 470.4 327.4 470.4 326.9 470.4 326.4 470.4 325.9 470.4 325.4 470.4 324.9 470.4 324.4 470.4 323.9 470.4 323.4 470.3 322.9 470.3 322.4 470.3 321.9 470.3 321.4 470.3 320.9 470.3 320.4 470.3 319.9 470.2 319.4 470.2 318.9 470.2 318.4 470.2 317.9 470.2 317.4 470.2 316.9 470.1 316.4 470.1 315.9 470.1 315.4 470.0 314.9 470.0 314.4 470.0 313.9 469.9 313.4 469.9 312.9 469.9 312.4 469.8 311.9 469.8 311.4 469.8 310.9 469.8 310.4 469.8 309.9 469.8 309.4 469.4 308.9 469.4 308.4 469.4 307.9 469.4 307.4 469.4 306.9 469.4 306.4 469.4 305.9 469.4 305.4 469.4 304.9 469.4 304.4 469.4 303.9 469.4 303.4 469.4 302.9 469.4 302.4 469.4 301.9 469.4 301.4 469.4 300.9 469.4 300.4 469.4 299.9 469.4 299.4 469.4 298.9 469.4 298.4 469.4 297.9 469.4 297.4 469.4 296.9 469.4 296.4 469.4 295.9 469.4 295.4 469.4 294.9 469.4 294.4 469.4 293.9 469.4 293.4Z" fill="#c77cff" stroke="#6a6a6a" stroke-width="0.60" stroke-linejoin="round"/>
<path d="M487.9 305.0 486.7 305.5 486.4 306.0 486.2 306.5 486.1 307.0 486.0 307.5 485.9 308.0 485.9 308.5 485.8 309.0 485.8 309.5 485.8 310.0 485.7 310.5 485.7 311.0 485.7 311.5 485.6 312.0 485.6 312.5 485.6 313.0 485.6 313.5 485.5 314.0 485.5 314.5 485.5 315.0 485.5 315.5 485.5 316.0 485.5 316.5 485.4 317.0 485.4 317.5 485.4 318.0 485.4 318.5 485.4 319.0 485.3 319.5 485.3 320.0 485.3 320.5 485.3 321.0 485.2 321.5 485.2 322.0 485.2 322.5 485.2 323.0 485.2 323.5 485.1 324.0 485.1 324.5 485.1 325.0 485.1 325.5 485.1 326.0 485.1 326.5 485.1 327.0 485.1 327.5 485.2 328.0 485.3 328.5 485.3 329.0 485.4 329.5 485.5 330.0 485.6 330.5 485.7 331.0 485.8 331.5 485.9 332.0 486.0 332.5 486.1 333.0 486.2 333.5 486.3 334.0 486.4 334.5 486.5 335.0 486.6 335.5 486.7 336.0 486.7 336.5 486.8 337.0 486.9 337.5 487.0 338.0 487.1 338.5 487.2 339.0 487.2 339.5 487.3 340.0 487.4 340.5 487.4 341.0 487.4 341.5 487.5 342.0 487.5 342.5 487.5 343.0 487.5 343.5 487.6 344.0 487.9 344.5 487.9 345.0 487.9 345.5 487.9 346.0 487.9 346.5 487.9 346.5 487.9 346.0 487.9 345.5 487.9 345.0 487.9 344.5 488.2 344.0 488.3 343.5 488.3 343.0 488.3 342.5 488.3 342.0 488.4 341.5 488.4 341.0 488.4 340.5 488.5 340.0 488.6 339.5 488.6 339.0 488.7 338.5 488.8 338.0 488.9 337.5 489.0 337.0 489.1 336.5 489.1 336.0 489.2 335.5 489.3 335.0 489.4 334.5 489.5 334.0 489.6 333.5 489.7 333.0 489.8 332.5 489.9 332.0 490.0 331.5 490.1 331.0 490.2 330.5 490.3 330.0 490.4 329.5 490.5 329.0 490.5 328.5 490.6 328.0 490.7 327.5 490.7 327.0 490.7 326.5 490.7 326.0 490.7 325.5 490.7 325.0 490.7 324.5 490.7 324.0 490.6 323.5 490.6 323.0 490.6 322.5 490.6 322.0 490.6 321.5 490.5 321.0 490.5 320.5 490.5 320.0 490.5 319.5 490.4 319.0 490.4 318.5 490.4 318.0 490.4 317.5 490.4 317.0 490.3 316.5 490.3 316.0 490.3 315.5 490.3 315.0 490.3 314.5 490.3 314.0 490.2 313.5 490.2 313.0 490.2 312.5 490.2 312.0 490.1 311.5 490.1 311.0 490.1 310.5 490.0 310.0 490.0 309.5 490.0 309.0 489.9 308.5 489.9 308.0 489.8 307.5 489.7 307.0 489.6 306.5 489.4 306.0 489.1 305.5 487.9 305.0Z" fill="#ff8c00" stroke="#6a6a6a" stroke-width="0.60" stroke-linejoin="round"/>
<path d="M494.2 319.1 494.2 319.6 494.2 320.1 494.2 320.6 494.2 321.1 494.2 321.6 494.2 322.1 494.2 322.6 493.8 323.1 493.8 323.6 493.7 324.1 493.6 324.6 493.5 325.1 493.3 325.6 493.2 326.1 493.1 326.6 492.9 327.1 492.8 327.6 492.7 328.1 492.6 328.6 492.5 329.1 492.3 329.6 492.2 330.1 492.1 330.6 492.0 331.1 491.9 331.6 491.8 332.1 491.8 332.6 491.7 333.1 491.6 333.6 491.5 334.1 491.5 334.6 491.4 335.1 491.3 335.6 491.3 336.1 491.2 336.6 491.2 337.1 491.2 337.6 491.2 338.1 491.2 338.6 491.3 339.1 491.3 339.6 491.4 340.1 491.4 340.6 491.5 341.1 491.5 341.6 491.6 342.1 491.7 342.6 491.7 343.1 491.8 343.6 491.9 344.1 492.0 344.6 492.0 345.1 492.1 345.6 492.2 346.1 492.3 346.6 492.4 347.1 492.5 347.6 492.6 348.1 492.7 348.6 492.8 349.1 492.9 349.6 492.9 350.1 493.0 350.6 493.1 351.1 493.2 351.6 493.2 352.1 493.3 352.6 493.4 353.1 493.4 353.6 493.5 354.1 493.5 354.6 493.6 355.1 493.6 355.6 493.7 356.1 493.7 356.6 493.8 357.1 493.8 357.6 493.8 358.1 493.8 358.6 493.8 359.1 493.8 359.6 493.8 360.1 493.8 360.6 493.8 361.1 493.8 361.6 493.8 362.1 493.8 362.6 493.8 363.1 493.8 363.6 493.8 363.7 494.6 363.7 494.6 363.6 494.6 363.1 494.6 362.6 494.6 362.1 494.6 361.6 494.6 361.1 494.6 360.6 494.6 360.1 494.6 359.6 494.6 359.1 494.6 358.6 494.6 358.1 494.6 357.6 494.6 357.1 494.7 356.6 494.7 356.1 494.8 355.6 494.8 355.1 494.9 354.6 494.9 354.1 495.0 353.6 495.0 353.1 495.1 352.6 495.2 352.1 495.2 351.6 495.3 351.1 495.4 350.6 495.5 350.1 495.5 349.6 495.6 349.1 495.7 348.6 495.8 348.1 495.9 347.6 496.0 347.1 496.1 346.6 496.2 346.1 496.3 345.6 496.4 345.1 496.4 344.6 496.5 344.1 496.6 343.6 496.7 343.1 496.7 342.6 496.8 342.1 496.9 341.6 496.9 341.1 497.0 340.6 497.0 340.1 497.1 339.6 497.1 339.1 497.2 338.6 497.2 338.1 497.2 337.6 497.2 337.1 497.2 336.6 497.1 336.1 497.1 335.6 497.0 335.1 496.9 334.6 496.9 334.1 496.8 333.6 496.7 333.1 496.6 332.6 496.6 332.1 496.5 331.6 496.4 331.1 496.3 330.6 496.2 330.1 496.1 329.6 495.9 329.1 495.8 328.6 495.7 328.1 495.6 327.6 495.5 327.1 495.3 326.6 495.2 326.1 495.1 325.6 494.9 325.1 494.8 324.6 494.7 324.1 494.6 323.6 494.6 323.1 494.2 322.6 494.2 322.1 494.2 321.6 494.2 321.1 494.2 320.6 494.2 320.1 494.2 319.6 494.2 319.1Z" fill="#7cae00" stroke="#6a6a6a" stroke-width="0.60" stroke-linejoin="round"/>
<path d="M500.4 293.4 500.4 293.9 500.4 294.4 500.4 294.9 500.4 295.4 500.4 295.9 500.4 296.4 500.4 296.9 500.4 297.4 500.4 297.9 500.4 298.4 500.4 298.9 500.4 299.4 500.4 299.9 500.4 300.4 500.4 300.9 500.4 301.4 500.4 301.9 500.4 302.4 500.4 302.9 500.4 303.4 500.4 303.9 500.4 304.4 500.4 304.9 500.4 305.4 500.4 305.9 500.4 306.4 500.4 306.9 500.4 307.4 500.4 307.9 500.4 308.4 500.4 308.9 500.4 309.4 500.4 309.9 500.4 310.4 500.4 310.9 500.4 311.4 500.4 311.9 500.4 312.4 500.4 312.9 500.4 313.4 500.4 313.9 500.4 314.4 500.4 314.9 500.4 315.4 500.1 315.9 500.0 316.4 500.0 316.9 500.0 317.4 500.0 317.9 499.9 318.4 499.8 318.9 499.7 319.4 499.6 319.9 499.5 320.4 499.3 320.9 499.2 321.4 499.1 321.9 499.0 322.4 498.9 322.9 498.8 323.4 498.8 323.9 498.7 324.4 498.6 324.9 498.5 325.4 498.4 325.9 498.3 326.4 498.2 326.9 498.2 327.4 498.1 327.9 498.0 328.4 498.0 328.9 497.9 329.4 497.9 329.9 497.8 330.4 497.7 330.9 497.7 331.4 497.6 331.9 497.6 332.4 497.5 332.9 497.5 333.4 497.5 333.9 497.5 334.4 497.5 334.9 497.5 335.4 497.6 335.9 497.6 336.4 497.6 336.9 497.7 337.4 497.7 337.9 497.8 338.4 497.8 338.9 497.8 339.4 497.9 339.9 497.9 340.4 498.0 340.9 498.0 341.4 498.1 341.9 498.2 342.4 498.2 342.9 498.3 343.4 498.4 343.9 498.4 344.4 498.5 344.9 498.6 345.4 498.7 345.9 498.7 346.4 498.8 346.9 498.9 347.4 498.9 347.9 499.0 348.4 499.0 348.9 499.1 349.4 499.2 349.9 499.2 350.4 499.3 350.9 499.4 351.4 499.4 351.9 499.5 352.4 499.5 352.9 499.6 353.4 499.6 353.9 499.7 354.4 499.8 354.9 499.8 355.4 499.9 355.9 499.9 356.4 500.0 356.9 500.0 357.4 500.0 357.9 500.0 358.4 500.0 358.9 500.0 359.4 500.0 359.9 500.0 360.4 500.0 360.9 500.0 361.4 500.0 361.9 500.0 362.4 500.0 362.9 500.0 363.4 500.0 363.7 500.8 363.7 500.8 363.4 500.8 362.9 500.8 362.4 500.8 361.9 500.8 361.4 500.8 360.9 500.8 360.4 500.8 359.9 500.8 359.4 500.8 358.9 500.8 358.4 500.8 357.9 500.8 357.4 500.8 356.9 500.9 356.4 500.9 355.9 501.0 355.4 501.0 354.9 501.1 354.4 501.2 353.9 501.2 353.4 501.3 352.9 501.3 352.4 501.4 351.9 501.4 351.4 501.5 350.9 501.6 350.4 501.6 349.9 501.7 349.4 501.8 348.9 501.8 348.4 501.9 347.9 501.9 347.4 502.0 346.9 502.1 346.4 502.1 345.9 502.2 345.4 502.3 344.9 502.4 344.4 502.4 343.9 502.5 343.4 502.6 342.9 502.6 342.4 502.7 341.9 502.8 341.4 502.8 340.9 502.9 340.4 502.9 339.9 503.0 339.4 503.0 338.9 503.0 338.4 503.1 337.9 503.1 337.4 503.2 336.9 503.2 336.4 503.2 335.9 503.3 335.4 503.3 334.9 503.3 334.4 503.3 333.9 503.3 333.4 503.3 332.9 503.2 332.4 503.2 331.9 503.1 331.4 503.1 330.9 503.0 330.4 502.9 329.9 502.9 329.4 502.8 328.9 502.8 328.4 502.7 327.9 502.6 327.4 502.6 326.9 502.5 326.4 502.4 325.9 502.3 325.4 502.2 324.9 502.1 324.4 502.0 323.9 502.0 323.4 501.9 322.9 501.8 322.4 501.7 321.9 501.6 321.4 501.5 320.9 501.3 320.4 501.2 319.9 501.1 319.4 501.0 318.9 500.9 318.4 500.8 317.9 500.8 317.4 500.8 316.9 500.8 316.4 500.7 315.9 500.4 315.4 500.4 314.9 500.4 314.4 500.4 313.9 500.4 313.4 500.4 312.9 500.4 312.4 500.4 311.9 500.4 311.4 500.4 310.9 500.4 310.4 500.4 309.9 500.4 309.4 500.4 308.9 500.4 308.4 500.4 307.9 500.4 307.4 500.4 306.9 500.4 306.4 500.4 305.9 500.4 305.4 500.4 304.9 500.4 304.4 500.4 303.9 500.4 303.4 500.4 302.9 500.4 302.4 500.4 301.9 500.4 301.4 500.4 300.9 500.4 300.4 500.4 299.9 500.4 299.4 500.4 298.9 500.4 298.4 500.4 297.9 500.4 297.4 500.4 296.9 500.4 296.4 500.4 295.9 500.4 295.4 500.4 294.9 500.4 294.4 500.4 293.9 500.4 293.4Z" fill="#00bfc4" stroke="#6a6a6a" stroke-width="0.60" stroke-linejoin="round"/>
<path d="M506.8 293.9 506.8 294.4 506.8 294.9 506.8 295.4 506.8 295.9 506.8 296.4 506.8 296.9 506.8 297.4 506.8 297.9 506.8 298.4 506.8 298.9 506.8 299.4 506.8 299.9 506.8 300.4 506.8 300.9 506.8 301.4 506.8 301.9 506.8 302.4 506.8 302.9 506.8 303.4 506.8 303.9 506.8 304.4 506.8 304.9 506.8 305.4 506.8 305.9 506.8 306.4 506.8 306.9 506.8 307.4 506.8 307.9 506.8 308.4 506.8 308.9 506.8 309.4 506.8 309.9 506.8 310.4 506.8 310.9 506.4 311.4 506.4 311.9 506.4 312.4 506.4 312.9 506.3 313.4 506.3 313.9 506.2 314.4 506.1 314.9 506.0 315.4 505.9 315.9 505.8 316.4 505.7 316.9 505.6 317.4 505.5 317.9 505.4 318.4 505.4 318.9 505.3 319.4 505.2 319.9 505.1 320.4 505.0 320.9 504.9 321.4 504.9 321.9 504.8 322.4 504.7 322.9 504.6 323.4 504.6 323.9 504.5 324.4 504.4 324.9 504.4 325.4 504.3 325.9 504.3 326.4 504.2 326.9 504.2 327.4 504.1 327.9 504.0 328.4 504.0 328.9 503.9 329.4 503.9 329.9 503.9 330.4 503.8 330.9 503.8 331.4 503.7 331.9 503.7 332.4 503.7 332.9 503.6 333.4 503.6 333.9 503.6 334.4 503.6 334.9 503.6 335.4 503.6 335.9 503.6 336.4 503.6 336.9 503.7 337.4 503.7 337.9 503.8 338.4 503.8 338.9 503.8 339.4 503.9 339.9 503.9 340.4 504.0 340.9 504.0 341.4 504.1 341.9 504.1 342.4 504.2 342.9 504.2 343.4 504.3 343.9 504.4 344.4 504.4 344.9 504.5 345.4 504.6 345.9 504.6 346.4 504.7 346.9 504.7 347.4 504.8 347.9 504.8 348.4 504.9 348.9 504.9 349.4 505.0 349.9 505.0 350.4 505.1 350.9 505.1 351.4 505.2 351.9 505.2 352.4 505.3 352.9 505.3 353.4 505.3 353.9 505.4 354.4 505.4 354.9 505.4 355.4 505.4 355.9 505.5 356.4 505.5 356.9 505.5 357.4 505.5 357.9 505.5 358.4 505.5 358.9 505.5 359.4 505.5 359.9 505.5 360.4 505.4 360.9 505.4 361.4 505.4 361.9 505.4 362.4 505.3 362.9 505.3 363.2 508.3 363.2 508.3 362.9 508.2 362.4 508.2 361.9 508.2 361.4 508.2 360.9 508.1 360.4 508.1 359.9 508.1 359.4 508.1 358.9 508.1 358.4 508.1 357.9 508.1 357.4 508.1 356.9 508.1 356.4 508.2 355.9 508.2 355.4 508.2 354.9 508.2 354.4 508.3 353.9 508.3 353.4 508.3 352.9 508.4 352.4 508.4 351.9 508.5 351.4 508.5 350.9 508.6 350.4 508.6 349.9 508.7 349.4 508.7 348.9 508.8 348.4 508.8 347.9 508.9 347.4 508.9 346.9 509.0 346.4 509.0 345.9 509.1 345.4 509.2 344.9 509.2 344.4 509.3 343.9 509.4 343.4 509.4 342.9 509.5 342.4 509.5 341.9 509.6 341.4 509.6 340.9 509.7 340.4 509.7 339.9 509.8 339.4 509.8 338.9 509.8 338.4 509.9 337.9 509.9 337.4 510.0 336.9 510.0 336.4 510.0 335.9 510.0 335.4 510.0 334.9 510.0 334.4 510.0 333.9 510.0 333.4 509.9 332.9 509.9 332.4 509.9 331.9 509.8 331.4 509.8 330.9 509.7 330.4 509.7 329.9 509.7 329.4 509.6 328.9 509.6 328.4 509.5 327.9 509.4 327.4 509.4 326.9 509.3 326.4 509.3 325.9 509.2 325.4 509.2 324.9 509.1 324.4 509.0 323.9 509.0 323.4 508.9 322.9 508.8 322.4 508.7 321.9 508.7 321.4 508.6 320.9 508.5 320.4 508.4 319.9 508.3 319.4 508.2 318.9 508.2 318.4 508.1 317.9 508.0 317.4 507.9 316.9 507.8 316.4 507.7 315.9 507.6 315.4 507.5 314.9 507.4 314.4 507.3 313.9 507.3 313.4 507.2 312.9 507.2 312.4 507.2 311.9 507.2 311.4 506.8 310.9 506.8 310.4 506.8 309.9 506.8 309.4 506.8 308.9 506.8 308.4 506.8 307.9 506.8 307.4 506.8 306.9 506.8 306.4 506.8 305.9 506.8 305.4 506.8 304.9 506.8 304.4 506.8 303.9 506.8 303.4 506.8 302.9 506.8 302.4 506.8 301.9 506.8 301.4 506.8 300.9 506.8 300.4 506.8 299.9 506.8 299.4 506.8 298.9 506.8 298.4 506.8 297.9 506.8 297.4 506.8 296.9 506.8 296.4 506.8 295.9 506.8 295.4 506.8 294.9 506.8 294.4 506.8 293.9Z" fill="#c77cff" stroke="#6a6a6a" stroke-width="0.60" stroke-linejoin="round"/>
<path d="M299.3 403.4 296.9 403.9 296.8 404.4 296.7 404.9 296.7 405.4 296.7 405.9 296.6 406.4 296.6 406.9 296.6 407.4 296.6 407.9 296.6 408.4 296.6 408.9 296.6 409.4 296.6 409.9 296.6 410.4 296.6 410.9 296.6 411.4 296.6 411.9 296.6 412.4 296.6 412.9 296.6 413.4 296.6 413.9 296.6 414.4 296.6 414.9 296.6 415.4 296.6 415.9 296.6 416.4 296.6 416.9 296.6 417.4 296.6 417.9 296.6 418.4 296.6 418.9 296.6 419.4 296.6 419.9 296.6 420.4 296.6 420.9 296.6 421.4 296.6 421.9 296.6 422.4 296.6 422.9 296.6 423.4 296.7 423.9 296.7 424.4 296.7 424.9 296.7 425.4 296.7 425.9 296.7 426.4 296.8 426.9 296.8 427.4 296.8 427.9 296.8 428.4 296.9 428.9 296.9 429.4 296.9 429.9 296.9 430.4 296.9 430.9 297.0 431.4 297.0 431.9 297.0 432.4 297.1 432.9 297.1 433.4 297.2 433.9 297.2 434.4 297.2 434.9 297.3 435.4 297.3 435.9 297.4 436.4 297.4 436.9 297.5 437.4 297.5 437.9 297.6 438.4 297.6 438.9 297.6 439.4 297.7 439.9 297.7 440.4 297.8 440.9 297.8 441.4 297.9 441.9 297.9 442.4 298.0 442.9 298.0 443.4 298.1 443.9 298.1 444.4 298.2 444.9 298.2 445.4 298.3 445.9 298.3 446.4 298.4 446.9 298.5 447.4 298.5 447.9 298.6 448.4 298.6 448.9 298.7 449.4 298.7 449.9 298.8 450.4 298.8 450.9 298.8 451.4 298.9 451.9 298.9 452.4 298.9 452.9 299.0 453.4 299.3 453.9 299.3 454.4 299.3 454.9 299.3 455.4 299.3 455.9 299.3 456.4 299.3 456.9 299.3 457.4 299.3 457.9 299.3 458.4 299.3 458.9 299.3 459.4 299.3 459.9 299.3 460.4 299.3 460.9 299.3 461.4 299.3 461.9 299.3 462.4 299.3 462.9 299.3 463.4 299.3 463.9 299.3 464.4 299.3 464.9 299.3 465.4 299.3 465.9 299.3 466.4 299.3 466.9 299.3 467.4 299.3 467.9 299.3 468.4 299.3 468.9 299.3 469.4 299.3 469.9 299.3 470.4 299.3 470.9 299.3 471.4 299.3 471.9 299.3 472.4 299.3 472.9 299.3 472.9 299.3 472.4 299.3 471.9 299.3 471.4 299.3 470.9 299.3 470.4 299.3 469.9 299.3 469.4 299.3 468.9 299.3 468.4 299.3 467.9 299.3 467.4 299.3 466.9 299.3 466.4 299.3 465.9 299.3 465.4 299.3 464.9 299.3 464.4 299.3 463.9 299.3 463.4 299.3 462.9 299.3 462.4 299.3 461.9 299.3 461.4 299.3 460.9 299.3 460.4 299.3 459.9 299.3 459.4 299.3 458.9 299.3 458.4 299.3 457.9 299.3 457.4 299.3 456.9 299.3 456.4 299.3 455.9 299.3 455.4 299.3 454.9 299.3 454.4 299.3 453.9 299.6 453.4 299.7 452.9 299.7 452.4 299.7 451.9 299.8 451.4 299.8 450.9 299.8 450.4 299.9 449.9 299.9 449.4 300.0 448.9 300.0 448.4 300.1 447.9 300.1 447.4 300.2 446.9 300.3 446.4 300.3 445.9 300.4 445.4 300.4 444.9 300.5 444.4 300.5 443.9 300.6 443.4 300.6 442.9 300.7 442.4 300.7 441.9 300.8 441.4 300.8 440.9 300.9 440.4 300.9 439.9 301.0 439.4 301.0 438.9 301.0 438.4 301.1 437.9 301.1 437.4 301.2 436.9 301.2 436.4 301.3 435.9 301.3 435.4 301.4 434.9 301.4 434.4 301.4 433.9 301.5 433.4 301.5 432.9 301.6 432.4 301.6 431.9 301.6 431.4 301.7 430.9 301.7 430.4 301.7 429.9 301.7 429.4 301.7 428.9 301.8 428.4 301.8 427.9 301.8 427.4 301.8 426.9 301.9 426.4 301.9 425.9 301.9 425.4 301.9 424.9 301.9 424.4 301.9 423.9 302.0 423.4 302.0 422.9 302.0 422.4 302.0 421.9 302.0 421.4 302.0 420.9 302.0 420.4 302.0 419.9 302.0 419.4 302.0 418.9 302.0 418.4 302.0 417.9 302.0 417.4 302.0 416.9 302.0 416.4 302.0 415.9 302.0 415.4 302.0 414.9 302.0 414.4 302.0 413.9 302.0 413.4 302.0 412.9 302.0 412.4 302.0 411.9 302.0 411.4 302.0 410.9 302.0 410.4 302.0 409.9 302.0 409.4 302.0 408.9 302.0 408.4 302.0 407.9 302.0 407.4 302.0 406.9 302.0 406.4 301.9 405.9 301.9 405.4 301.9 404.9 301.8 404.4 301.7 403.9 299.3 403.4Z" fill="#ff8c00" stroke="#6a6a6a" stroke-width="0.60" stroke-linejoin="round"/>
<path d="M305.5 437.6 305.5 438.1 305.5 438.6 305.5 439.1 305.5 439.6 305.5 440.1 305.5 440.6 305.5 441.1 305.5 441.6 305.5 442.1 305.5 442.6 305.5 443.1 305.5 443.6 305.5 444.1 305.5 444.6 305.5 445.1 305.5 445.6 305.5 446.1 305.5 446.6 305.5 447.1 305.5 447.6 305.5 448.1 305.5 448.6 305.5 449.1 305.5 449.6 305.5 450.1 305.5 450.6 305.5 451.1 305.5 451.6 305.5 452.1 305.5 452.6 305.5 453.1 305.5 453.6 305.5 454.1 305.5 454.6 305.5 455.1 305.5 455.6 305.5 456.1 305.5 456.6 305.5 457.1 305.5 457.6 305.5 458.1 305.5 458.6 305.5 459.1 305.5 459.6 305.5 460.1 305.5 460.6 305.5 461.1 305.1 461.6 305.1 462.1 305.1 462.6 305.0 463.1 305.0 463.6 304.9 464.1 304.9 464.6 304.8 465.1 304.8 465.6 304.7 466.1 304.6 466.6 304.5 467.1 304.4 467.6 304.3 468.1 304.1 468.6 304.0 469.1 303.8 469.6 303.7 470.1 303.5 470.6 303.4 471.1 303.2 471.6 303.0 472.1 302.8 472.6 302.7 472.9 308.3 472.9 308.2 472.6 308.0 472.1 307.8 471.6 307.6 471.1 307.5 470.6 307.3 470.1 307.2 469.6 307.0 469.1 306.9 468.6 306.7 468.1 306.6 467.6 306.5 467.1 306.4 466.6 306.3 466.1 306.2 465.6 306.2 465.1 306.1 464.6 306.1 464.1 306.0 463.6 306.0 463.1 305.9 462.6 305.9 462.1 305.9 461.6 305.5 461.1 305.5 460.6 305.5 460.1 305.5 459.6 305.5 459.1 305.5 458.6 305.5 458.1 305.5 457.6 305.5 457.1 305.5 456.6 305.5 456.1 305.5 455.6 305.5 455.1 305.5 454.6 305.5 454.1 305.5 453.6 305.5 453.1 305.5 452.6 305.5 452.1 305.5 451.6 305.5 451.1 305.5 450.6 305.5 450.1 305.5 449.6 305.5 449.1 305.5 448.6 305.5 448.1 305.5 447.6 305.5 447.1 305.5 446.6 305.5 446.1 305.5 445.6 305.5 445.1 305.5 444.6 305.5 444.1 305.5 443.6 305.5 443.1 305.5 442.6 305.5 442.1 305.5 441.6 305.5 441.1 305.5 440.6 305.5 440.1 305.5 439.6 305.5 439.1 305.5 438.6 305.5 438.1 305.5 437.6Z" fill="#7cae00" stroke="#6a6a6a" stroke-width="0.60" stroke-linejoin="round"/>
<path d="M311.9 418.2 311.9 418.7 311.9 419.2 311.9 419.7 311.9 420.2 311.9 420.7 311.9 421.2 311.9 421.7 311.9 422.2 311.9 422.7 311.9 423.2 311.9 423.7 311.9 424.2 311.9 424.7 311.9 425.2 311.9 425.7 311.9 426.2 311.9 426.7 311.9 427.2 311.9 427.7 311.9 428.2 311.9 428.7 311.9 429.2 311.9 429.7 311.9 430.2 311.9 430.7 311.9 431.2 311.9 431.7 311.9 432.2 311.9 432.7 311.9 433.2 311.9 433.7 311.9 434.2 311.9 434.7 311.9 435.2 311.9 435.7 311.9 436.2 311.9 436.7 311.9 437.2 311.9 437.7 311.9 438.2 311.9 438.7 311.9 439.2 311.9 439.7 311.9 440.2 311.9 440.7 311.9 441.2 311.9 441.7 311.9 442.2 311.9 442.7 311.9 443.2 311.9 443.7 311.9 444.2 311.9 444.7 311.9 445.2 311.9 445.7 311.9 446.2 311.9 446.7 311.9 447.2 311.9 447.7 311.9 448.2 311.9 448.7 311.9 449.2 311.9 449.7 311.9 450.2 311.9 450.7 311.9 451.2 311.9 451.7 311.9 452.2 311.9 452.7 311.9 453.2 311.9 453.7 311.9 454.2 311.9 454.7 311.5 455.2 311.5 455.7 311.5 456.2 311.5 456.7 311.4 457.2 311.4 457.7 311.4 458.2 311.4 458.7 311.3 459.2 311.3 459.7 311.2 460.2 311.2 460.7 311.2 461.2 311.1 461.7 311.1 462.2 311.0 462.7 311.0 463.2 310.9 463.7 310.9 464.2 310.8 464.7 310.8 465.2 310.7 465.7 310.6 466.2 310.5 466.7 310.4 467.2 310.4 467.7 310.3 468.2 310.1 468.7 310.0 469.2 309.9 469.7 309.7 470.2 309.6 470.7 309.5 471.2 309.3 471.7 309.2 472.2 309.1 472.7 309.1 472.9 314.7 472.9 314.7 472.7 314.6 472.2 314.5 471.7 314.3 471.2 314.2 470.7 314.1 470.2 313.9 469.7 313.8 469.2 313.7 468.7 313.5 468.2 313.4 467.7 313.4 467.2 313.3 466.7 313.2 466.2 313.1 465.7 313.0 465.2 313.0 464.7 312.9 464.2 312.9 463.7 312.8 463.2 312.8 462.7 312.7 462.2 312.7 461.7 312.6 461.2 312.6 460.7 312.6 460.2 312.5 459.7 312.5 459.2 312.4 458.7 312.4 458.2 312.4 457.7 312.4 457.2 312.3 456.7 312.3 456.2 312.3 455.7 312.3 455.2 311.9 454.7 311.9 454.2 311.9 453.7 311.9 453.2 311.9 452.7 311.9 452.2 311.9 451.7 311.9 451.2 311.9 450.7 311.9 450.2 311.9 449.7 311.9 449.2 311.9 448.7 311.9 448.2 311.9 447.7 311.9 447.2 311.9 446.7 311.9 446.2 311.9 445.7 311.9 445.2 311.9 444.7 311.9 444.2 311.9 443.7 311.9 443.2 311.9 442.7 311.9 442.2 311.9 441.7 311.9 441.2 311.9 440.7 311.9 440.2 311.9 439.7 311.9 439.2 311.9 438.7 311.9 438.2 311.9 437.7 311.9 437.2 311.9 436.7 311.9 436.2 311.9 435.7 311.9 435.2 311.9 434.7 311.9 434.2 311.9 433.7 311.9 433.2 311.9 432.7 311.9 432.2 311.9 431.7 311.9 431.2 311.9 430.7 311.9 430.2 311.9 429.7 311.9 429.2 311.9 428.7 311.9 428.2 311.9 427.7 311.9 427.2 311.9 426.7 311.9 426.2 311.9 425.7 311.9 425.2 311.9 424.7 311.9 424.2 311.9 423.7 311.9 423.2 311.9 422.7 311.9 422.2 311.9 421.7 311.9 421.2 311.9 420.7 311.9 420.2 311.9 419.7 311.9 419.2 311.9 418.7 311.9 418.2Z" fill="#00bfc4" stroke="#6a6a6a" stroke-width="0.60" stroke-linejoin="round"/>
<path d="M318.0 422.8 318.0 423.3 318.0 423.8 318.0 424.3 318.0 424.8 318.0 425.3 318.0 425.8 318.0 426.3 318.0 426.8 318.0 427.3 318.0 427.8 318.0 428.3 318.0 428.8 318.0 429.3 318.0 429.8 318.0 430.3 318.0 430.8 318.0 431.3 318.0 431.8 318.0 432.3 318.0 432.8 318.0 433.3 318.0 433.8 318.0 434.3 318.0 434.8 318.0 435.3 318.0 435.8 318.0 436.3 318.0 436.8 318.0 437.3 318.0 437.8 318.0 438.3 318.0 438.8 318.0 439.3 318.0 439.8 318.0 440.3 318.0 440.8 318.0 441.3 318.0 441.8 318.0 442.3 318.0 442.8 318.0 443.3 317.6 443.8 317.6 444.3 317.6 444.8 317.6 445.3 317.6 445.8 317.5 446.3 317.5 446.8 317.4 447.3 317.4 447.8 317.3 448.3 317.3 448.8 317.2 449.3 317.1 449.8 317.1 450.3 317.0 450.8 317.0 451.3 316.9 451.8 316.9 452.3 316.8 452.8 316.8 453.3 316.7 453.8 316.7 454.3 316.6 454.8 316.6 455.3 316.6 455.8 316.5 456.3 316.5 456.8 316.5 457.3 316.4 457.8 316.4 458.3 316.4 458.8 316.4 459.3 316.3 459.8 316.3 460.3 316.3 460.8 316.2 461.3 316.2 461.8 316.2 462.3 316.1 462.8 316.1 463.3 316.0 463.8 316.0 464.3 315.9 464.8 315.8 465.3 315.8 465.8 315.7 466.3 315.6 466.8 315.6 467.3 315.5 467.8 315.4 468.3 315.3 468.8 315.3 469.3 315.2 469.8 315.2 470.3 315.2 470.8 315.1 471.3 315.1 471.8 315.1 472.3 315.1 472.8 315.1 472.9 320.9 472.9 320.9 472.8 320.9 472.3 320.9 471.8 320.9 471.3 320.8 470.8 320.8 470.3 320.8 469.8 320.7 469.3 320.7 468.8 320.6 468.3 320.5 467.8 320.4 467.3 320.4 466.8 320.3 466.3 320.2 465.8 320.2 465.3 320.1 464.8 320.0 464.3 320.0 463.8 319.9 463.3 319.9 462.8 319.8 462.3 319.8 461.8 319.8 461.3 319.7 460.8 319.7 460.3 319.7 459.8 319.6 459.3 319.6 458.8 319.6 458.3 319.6 457.8 319.5 457.3 319.5 456.8 319.5 456.3 319.4 455.8 319.4 455.3 319.4 454.8 319.3 454.3 319.3 453.8 319.2 453.3 319.2 452.8 319.1 452.3 319.1 451.8 319.0 451.3 319.0 450.8 318.9 450.3 318.9 449.8 318.8 449.3 318.7 448.8 318.7 448.3 318.6 447.8 318.6 447.3 318.5 446.8 318.5 446.3 318.4 445.8 318.4 445.3 318.4 444.8 318.4 444.3 318.4 443.8 318.0 443.3 318.0 442.8 318.0 442.3 318.0 441.8 318.0 441.3 318.0 440.8 318.0 440.3 318.0 439.8 318.0 439.3 318.0 438.8 318.0 438.3 318.0 437.8 318.0 437.3 318.0 436.8 318.0 436.3 318.0 435.8 318.0 435.3 318.0 434.8 318.0 434.3 318.0 433.8 318.0 433.3 318.0 432.8 318.0 432.3 318.0 431.8 318.0 431.3 318.0 430.8 318.0 430.3 318.0 429.8 318.0 429.3 318.0 428.8 318.0 428.3 318.0 427.8 318.0 427.3 318.0 426.8 318.0 426.3 318.0 425.8 318.0 425.3 318.0 424.8 318.0 424.3 318.0 423.8 318.0 423.3 318.0 422.8Z" fill="#c77cff" stroke="#6a6a6a" stroke-width="0.60" stroke-linejoin="round"/>
<path d="M336.8 403.4 335.7 403.9 335.5 404.4 335.3 404.9 335.2 405.4 335.1 405.9 335.0 406.4 335.0 406.9 334.9 407.4 334.8 407.9 334.8 408.4 334.7 408.9 334.6 409.4 334.6 409.9 334.5 410.4 334.5 410.9 334.5 411.4 334.4 411.9 334.4 412.4 334.3 412.9 334.3 413.4 334.2 413.9 334.2 414.4 334.1 414.9 334.1 415.4 334.0 415.9 334.0 416.4 334.0 416.9 334.0 417.4 334.0 417.9 334.1 418.4 334.1 418.9 334.2 419.4 334.3 419.9 334.5 420.4 334.6 420.9 334.7 421.4 334.8 421.9 334.9 422.4 335.0 422.9 335.1 423.4 335.3 423.9 335.4 424.4 335.5 424.9 335.6 425.4 335.6 425.9 335.6 426.4 335.6 426.9 335.6 427.4 335.5 427.9 335.5 428.4 335.5 428.9 335.6 429.4 335.8 429.9 336.1 430.4 336.8 430.9 336.8 431.2 336.8 431.2 336.8 430.9 337.5 430.4 337.8 429.9 338.0 429.4 338.1 428.9 338.1 428.4 338.1 427.9 338.0 427.4 338.0 426.9 338.0 426.4 338.0 425.9 338.0 425.4 338.1 424.9 338.2 424.4 338.3 423.9 338.5 423.4 338.6 422.9 338.7 422.4 338.8 421.9 338.9 421.4 339.0 420.9 339.1 420.4 339.3 419.9 339.4 419.4 339.5 418.9 339.5 418.4 339.6 417.9 339.6 417.4 339.6 416.9 339.6 416.4 339.6 415.9 339.5 415.4 339.5 414.9 339.4 414.4 339.4 413.9 339.3 413.4 339.3 412.9 339.2 412.4 339.2 411.9 339.1 411.4 339.1 410.9 339.1 410.4 339.0 409.9 339.0 409.4 338.9 408.9 338.8 408.4 338.8 407.9 338.7 407.4 338.6 406.9 338.6 406.4 338.5 405.9 338.4 405.4 338.3 404.9 338.1 404.4 337.9 403.9 336.8 403.4Z" fill="#ff8c00" stroke="#6a6a6a" stroke-width="0.60" stroke-linejoin="round"/>
<path d="M355.7 419.7 355.7 420.2 355.7 420.7 355.7 421.2 355.7 421.7 355.7 422.2 355.7 422.7 355.7 423.2 355.7 423.7 355.7 424.2 355.7 424.7 355.7 425.2 355.7 425.7 355.7 426.2 355.7 426.7 355.7 427.2 355.7 427.7 355.3 428.2 355.3 428.7 355.3 429.2 355.2 429.7 355.2 430.2 355.1 430.7 355.1 431.2 355.0 431.7 354.9 432.2 354.9 432.7 354.8 433.2 354.7 433.7 354.7 434.2 354.6 434.7 354.6 435.2 354.5 435.7 354.5 436.2 354.5 436.7 354.4 437.2 354.4 437.7 354.3 438.2 354.3 438.7 354.3 439.2 354.2 439.7 354.2 440.2 354.2 440.7 354.1 441.2 354.1 441.7 354.1 442.2 354.0 442.7 354.0 443.2 354.0 443.7 354.0 444.2 353.9 444.7 353.9 445.2 353.9 445.7 353.8 446.2 353.8 446.7 353.8 447.2 353.8 447.7 353.7 448.2 353.7 448.7 353.7 449.2 353.7 449.7 353.6 450.2 353.6 450.7 353.6 451.2 353.6 451.7 353.5 452.2 353.5 452.7 353.5 453.2 353.5 453.7 353.4 454.2 353.4 454.7 353.4 455.2 353.4 455.7 353.3 456.2 353.3 456.7 353.3 457.2 353.3 457.7 353.3 458.2 353.3 458.7 353.2 459.2 353.2 459.7 353.2 460.2 353.2 460.7 353.2 461.2 353.1 461.7 353.1 462.2 353.1 462.7 353.1 463.2 353.0 463.7 353.0 464.2 353.0 464.7 352.9 465.2 352.9 465.7 352.9 466.2 352.9 466.7 352.8 467.2 352.8 467.7 352.8 468.2 352.8 468.7 352.8 469.2 352.8 469.7 352.7 470.2 352.7 470.7 352.7 471.2 352.7 471.7 352.7 472.2 352.7 472.7 352.7 472.9 358.7 472.9 358.7 472.7 358.7 472.2 358.7 471.7 358.7 471.2 358.7 470.7 358.7 470.2 358.6 469.7 358.6 469.2 358.6 468.7 358.6 468.2 358.6 467.7 358.6 467.2 358.5 466.7 358.5 466.2 358.5 465.7 358.5 465.2 358.4 464.7 358.4 464.2 358.4 463.7 358.3 463.2 358.3 462.7 358.3 462.2 358.3 461.7 358.2 461.2 358.2 460.7 358.2 460.2 358.2 459.7 358.2 459.2 358.1 458.7 358.1 458.2 358.1 457.7 358.1 457.2 358.1 456.7 358.1 456.2 358.0 455.7 358.0 455.2 358.0 454.7 358.0 454.2 357.9 453.7 357.9 453.2 357.9 452.7 357.9 452.2 357.8 451.7 357.8 451.2 357.8 450.7 357.8 450.2 357.7 449.7 357.7 449.2 357.7 448.7 357.7 448.2 357.6 447.7 357.6 447.2 357.6 446.7 357.6 446.2 357.5 445.7 357.5 445.2 357.5 444.7 357.4 444.2 357.4 443.7 357.4 443.2 357.4 442.7 357.3 442.2 357.3 441.7 357.3 441.2 357.2 440.7 357.2 440.2 357.2 439.7 357.1 439.2 357.1 438.7 357.1 438.2 357.0 437.7 357.0 437.2 356.9 436.7 356.9 436.2 356.9 435.7 356.8 435.2 356.8 434.7 356.7 434.2 356.7 433.7 356.6 433.2 356.5 432.7 356.5 432.2 356.4 431.7 356.3 431.2 356.3 430.7 356.2 430.2 356.2 429.7 356.1 429.2 356.1 428.7 356.1 428.2 355.7 427.7 355.7 427.2 355.7 426.7 355.7 426.2 355.7 425.7 355.7 425.2 355.7 424.7 355.7 424.2 355.7 423.7 355.7 423.2 355.7 422.7 355.7 422.2 355.7 421.7 355.7 421.2 355.7 420.7 355.7 420.2 355.7 419.7Z" fill="#c77cff" stroke="#6a6a6a" stroke-width="0.60" stroke-linejoin="round"/>
<path d="M374.2 425.2 374.2 425.7 374.2 426.2 374.2 426.7 374.2 427.2 374.2 427.7 374.2 428.2 374.2 428.7 373.8 429.2 373.8 429.7 373.7 430.2 373.7 430.7 373.7 431.2 373.6 431.7 373.6 432.2 373.5 432.7 373.5 433.2 373.5 433.7 373.4 434.2 373.4 434.7 373.4 435.2 373.3 435.7 373.3 436.2 373.3 436.7 373.2 437.2 373.2 437.7 373.2 438.2 373.1 438.7 373.1 439.2 373.1 439.7 373.1 440.2 373.0 440.7 373.0 441.2 373.0 441.7 372.9 442.2 372.9 442.7 372.9 443.2 372.8 443.7 372.8 444.2 372.8 444.7 372.8 445.2 372.7 445.7 372.7 446.2 372.7 446.7 372.7 447.2 372.6 447.7 372.6 448.2 372.6 448.7 372.5 449.2 372.5 449.7 372.5 450.2 372.5 450.7 372.4 451.2 372.4 451.7 372.4 452.2 372.4 452.7 372.3 453.2 372.3 453.7 372.3 454.2 372.3 454.7 372.2 455.2 372.2 455.7 372.2 456.2 372.1 456.7 372.1 457.2 372.1 457.7 372.1 458.2 372.0 458.7 372.0 459.2 372.0 459.7 372.0 460.2 371.9 460.7 371.9 461.2 371.9 461.7 371.9 462.2 371.8 462.7 371.8 463.2 371.8 463.7 371.8 464.2 371.7 464.7 371.7 465.2 371.7 465.7 371.7 466.2 371.7 466.7 371.6 467.2 371.6 467.7 371.6 468.2 371.6 468.7 371.5 469.2 371.5 469.7 371.5 470.2 371.5 470.7 371.5 471.2 371.4 471.7 371.4 472.2 371.4 472.7 371.4 472.9 377.0 472.9 377.0 472.7 377.0 472.2 377.0 471.7 376.9 471.2 376.9 470.7 376.9 470.2 376.9 469.7 376.9 469.2 376.8 468.7 376.8 468.2 376.8 467.7 376.8 467.2 376.7 466.7 376.7 466.2 376.7 465.7 376.7 465.2 376.7 464.7 376.6 464.2 376.6 463.7 376.6 463.2 376.6 462.7 376.5 462.2 376.5 461.7 376.5 461.2 376.5 460.7 376.4 460.2 376.4 459.7 376.4 459.2 376.4 458.7 376.3 458.2 376.3 457.7 376.3 457.2 376.3 456.7 376.2 456.2 376.2 455.7 376.2 455.2 376.1 454.7 376.1 454.2 376.1 453.7 376.1 453.2 376.0 452.7 376.0 452.2 376.0 451.7 376.0 451.2 375.9 450.7 375.9 450.2 375.9 449.7 375.9 449.2 375.8 448.7 375.8 448.2 375.8 447.7 375.7 447.2 375.7 446.7 375.7 446.2 375.7 445.7 375.6 445.2 375.6 444.7 375.6 444.2 375.6 443.7 375.5 443.2 375.5 442.7 375.5 442.2 375.4 441.7 375.4 441.2 375.4 440.7 375.3 440.2 375.3 439.7 375.3 439.2 375.3 438.7 375.2 438.2 375.2 437.7 375.2 437.2 375.1 436.7 375.1 436.2 375.1 435.7 375.0 435.2 375.0 434.7 375.0 434.2 374.9 433.7 374.9 433.2 374.9 432.7 374.8 432.2 374.8 431.7 374.7 431.2 374.7 430.7 374.7 430.2 374.6 429.7 374.6 429.2 374.2 428.7 374.2 428.2 374.2 427.7 374.2 427.2 374.2 426.7 374.2 426.2 374.2 425.7 374.2 425.2Z" fill="#ff8c00" stroke="#6a6a6a" stroke-width="0.60" stroke-linejoin="round"/>
<path d="M380.4 438.4 380.4 438.9 380.4 439.4 380.4 439.9 380.4 440.4 380.4 440.9 380.4 441.4 380.4 441.9 380.4 442.4 380.4 442.9 380.4 443.4 380.4 443.9 380.4 444.4 380.4 444.9 380.4 445.4 380.4 445.9 380.4 446.4 380.4 446.9 380.4 447.4 380.4 447.9 380.0 448.4 380.0 448.9 379.9 449.4 379.8 449.9 379.6 450.4 379.4 450.9 379.2 451.4 379.0 451.9 378.8 452.4 378.6 452.9 378.5 453.4 378.4 453.9 378.3 454.4 378.2 454.9 378.0 455.4 377.9 455.9 377.8 456.4 377.8 456.9 377.7 457.4 377.6 457.9 377.6 458.4 377.6 458.9 377.6 459.4 377.6 459.9 377.7 460.4 377.7 460.9 377.8 461.4 377.9 461.9 377.9 462.4 378.0 462.9 378.1 463.4 378.2 463.9 378.3 464.4 378.4 464.9 378.6 465.4 378.7 465.9 378.9 466.4 379.1 466.9 379.2 467.4 379.4 467.9 379.5 468.4 379.7 468.9 379.8 469.4 379.9 469.9 379.9 470.4 379.9 470.9 379.8 471.4 379.7 471.9 379.6 472.4 379.4 472.9 381.4 472.9 381.2 472.4 381.1 471.9 381.0 471.4 380.9 470.9 380.9 470.4 380.9 469.9 381.0 469.4 381.1 468.9 381.3 468.4 381.4 467.9 381.6 467.4 381.7 466.9 381.9 466.4 382.1 465.9 382.2 465.4 382.4 464.9 382.5 464.4 382.6 463.9 382.7 463.4 382.8 462.9 382.9 462.4 382.9 461.9 383.0 461.4 383.1 460.9 383.1 460.4 383.2 459.9 383.2 459.4 383.2 458.9 383.2 458.4 383.2 457.9 383.1 457.4 383.0 456.9 383.0 456.4 382.9 455.9 382.8 455.4 382.6 454.9 382.5 454.4 382.4 453.9 382.3 453.4 382.2 452.9 382.0 452.4 381.8 451.9 381.6 451.4 381.4 450.9 381.2 450.4 381.0 449.9 380.9 449.4 380.8 448.9 380.8 448.4 380.4 447.9 380.4 447.4 380.4 446.9 380.4 446.4 380.4 445.9 380.4 445.4 380.4 444.9 380.4 444.4 380.4 443.9 380.4 443.4 380.4 442.9 380.4 442.4 380.4 441.9 380.4 441.4 380.4 440.9 380.4 440.4 380.4 439.9 380.4 439.4 380.4 438.9 380.4 438.4Z" fill="#7cae00" stroke="#6a6a6a" stroke-width="0.60" stroke-linejoin="round"/>
<path d="M386.8 403.6 386.8 404.1 386.8 404.6 386.8 405.1 386.8 405.6 386.8 406.1 386.8 406.6 386.8 407.1 386.8 407.6 386.8 408.1 386.8 408.6 386.8 409.1 386.8 409.6 386.8 410.1 386.8 410.6 386.8 411.1 386.8 411.6 386.8 412.1 386.8 412.6 386.8 413.1 386.8 413.6 386.8 414.1 386.8 414.6 386.8 415.1 386.8 415.6 386.8 416.1 386.8 416.6 386.8 417.1 386.8 417.6 386.8 418.1 386.8 418.6 386.8 419.1 386.8 419.6 386.8 420.1 386.8 420.6 386.8 421.1 386.8 421.6 386.8 422.1 386.8 422.6 386.8 423.1 386.8 423.6 386.8 424.1 386.8 424.6 386.8 425.1 386.8 425.6 386.8 426.1 386.8 426.6 386.8 427.1 386.8 427.6 386.8 428.1 386.8 428.6 386.8 429.1 386.8 429.6 386.8 430.1 386.8 430.6 386.8 431.1 386.8 431.6 386.8 432.1 386.8 432.6 386.8 433.1 386.8 433.6 386.8 434.1 386.8 434.6 386.8 435.1 386.8 435.6 386.8 436.1 386.8 436.6 386.8 437.1 386.8 437.6 386.8 438.1 386.8 438.6 386.8 439.1 386.8 439.6 386.8 440.1 386.5 440.6 386.4 441.1 386.4 441.6 386.4 442.1 386.4 442.6 386.4 443.1 386.3 443.6 386.2 444.1 386.1 444.6 386.0 445.1 385.9 445.6 385.7 446.1 385.6 446.6 385.4 447.1 385.3 447.6 385.2 448.1 385.1 448.6 385.0 449.1 384.9 449.6 384.8 450.1 384.7 450.6 384.6 451.1 384.6 451.6 384.5 452.1 384.4 452.6 384.4 453.1 384.3 453.6 384.2 454.1 384.2 454.6 384.1 455.1 384.1 455.6 384.1 456.1 384.0 456.6 384.0 457.1 384.0 457.6 384.0 458.1 384.0 458.6 384.1 459.1 384.1 459.6 384.2 460.1 384.2 460.6 384.3 461.1 384.4 461.6 384.5 462.1 384.5 462.6 384.6 463.1 384.7 463.6 384.8 464.1 385.0 464.6 385.1 465.1 385.3 465.6 385.4 466.1 385.5 466.6 385.6 467.1 385.7 467.6 385.8 468.1 385.9 468.6 386.0 469.1 386.1 469.6 386.1 470.1 386.1 470.6 386.1 471.1 386.0 471.6 386.0 472.1 385.9 472.6 385.8 472.9 387.8 472.9 387.7 472.6 387.6 472.1 387.6 471.6 387.5 471.1 387.5 470.6 387.5 470.1 387.5 469.6 387.6 469.1 387.7 468.6 387.8 468.1 387.9 467.6 388.0 467.1 388.1 466.6 388.2 466.1 388.3 465.6 388.5 465.1 388.6 464.6 388.8 464.1 388.9 463.6 389.0 463.1 389.1 462.6 389.1 462.1 389.2 461.6 389.3 461.1 389.4 460.6 389.4 460.1 389.5 459.6 389.5 459.1 389.6 458.6 389.6 458.1 389.6 457.6 389.6 457.1 389.6 456.6 389.5 456.1 389.5 455.6 389.5 455.1 389.4 454.6 389.4 454.1 389.3 453.6 389.2 453.1 389.2 452.6 389.1 452.1 389.0 451.6 389.0 451.1 388.9 450.6 388.8 450.1 388.7 449.6 388.6 449.1 388.5 448.6 388.4 448.1 388.3 447.6 388.2 447.1 388.0 446.6 387.9 446.1 387.7 445.6 387.6 445.1 387.5 444.6 387.4 444.1 387.3 443.6 387.2 443.1 387.2 442.6 387.2 442.1 387.2 441.6 387.2 441.1 387.1 440.6 386.8 440.1 386.8 439.6 386.8 439.1 386.8 438.6 386.8 438.1 386.8 437.6 386.8 437.1 386.8 436.6 386.8 436.1 386.8 435.6 386.8 435.1 386.8 434.6 386.8 434.1 386.8 433.6 386.8 433.1 386.8 432.6 386.8 432.1 386.8 431.6 386.8 431.1 386.8 430.6 386.8 430.1 386.8 429.6 386.8 429.1 386.8 428.6 386.8 428.1 386.8 427.6 386.8 427.1 386.8 426.6 386.8 426.1 386.8 425.6 386.8 425.1 386.8 424.6 386.8 424.1 386.8 423.6 386.8 423.1 386.8 422.6 386.8 422.1 386.8 421.6 386.8 421.1 386.8 420.6 386.8 420.1 386.8 419.6 386.8 419.1 386.8 418.6 386.8 418.1 386.8 417.6 386.8 417.1 386.8 416.6 386.8 416.1 386.8 415.6 386.8 415.1 386.8 414.6 386.8 414.1 386.8 413.6 386.8 413.1 386.8 412.6 386.8 412.1 386.8 411.6 386.8 411.1 386.8 410.6 386.8 410.1 386.8 409.6 386.8 409.1 386.8 408.6 386.8 408.1 386.8 407.6 386.8 407.1 386.8 406.6 386.8 406.1 386.8 405.6 386.8 405.1 386.8 404.6 386.8 404.1 386.8 403.6Z" fill="#00bfc4" stroke="#6a6a6a" stroke-width="0.60" stroke-linejoin="round"/>
<path d="M393.1 419.0 393.1 419.5 393.1 420.0 393.1 420.5 393.1 421.0 393.1 421.5 393.1 422.0 393.1 422.5 393.1 423.0 393.1 423.5 393.1 424.0 393.1 424.5 393.1 425.0 393.1 425.5 393.1 426.0 393.1 426.5 393.1 427.0 392.7 427.5 392.7 428.0 392.6 428.5 392.6 429.0 392.5 429.5 392.5 430.0 392.4 430.5 392.3 431.0 392.2 431.5 392.1 432.0 392.0 432.5 391.9 433.0 391.8 433.5 391.8 434.0 391.7 434.5 391.6 435.0 391.5 435.5 391.4 436.0 391.4 436.5 391.3 437.0 391.2 437.5 391.1 438.0 391.0 438.5 391.0 439.0 390.9 439.5 390.8 440.0 390.8 440.5 390.7 441.0 390.6 441.5 390.6 442.0 390.6 442.5 390.5 443.0 390.5 443.5 390.4 444.0 390.4 444.5 390.3 445.0 390.3 445.5 390.3 446.0 390.2 446.5 390.2 447.0 390.2 447.5 390.2 448.0 390.1 448.5 390.1 449.0 390.1 449.5 390.1 450.0 390.1 450.5 390.1 451.0 390.1 451.5 390.1 452.0 390.2 452.5 390.2 453.0 390.2 453.5 390.3 454.0 390.3 454.5 390.3 455.0 390.4 455.5 390.4 456.0 390.5 456.5 390.5 457.0 390.5 457.5 390.6 458.0 390.7 458.5 390.7 459.0 390.8 459.5 390.8 460.0 390.9 460.5 391.0 461.0 391.1 461.5 391.1 462.0 391.2 462.5 391.3 463.0 391.4 463.5 391.5 464.0 391.6 464.5 391.7 465.0 391.8 465.5 391.9 466.0 392.0 466.5 392.0 467.0 392.1 467.5 392.2 468.0 392.2 468.5 392.3 469.0 392.3 469.5 392.3 470.0 392.3 470.5 392.3 471.0 392.3 471.5 392.3 472.0 392.3 472.5 392.3 472.9 393.9 472.9 393.9 472.5 393.9 472.0 393.9 471.5 393.9 471.0 393.9 470.5 393.9 470.0 393.9 469.5 393.9 469.0 394.0 468.5 394.0 468.0 394.1 467.5 394.2 467.0 394.2 466.5 394.3 466.0 394.4 465.5 394.5 465.0 394.6 464.5 394.7 464.0 394.8 463.5 394.9 463.0 395.0 462.5 395.1 462.0 395.1 461.5 395.2 461.0 395.3 460.5 395.4 460.0 395.4 459.5 395.5 459.0 395.5 458.5 395.6 458.0 395.7 457.5 395.7 457.0 395.7 456.5 395.8 456.0 395.8 455.5 395.9 455.0 395.9 454.5 395.9 454.0 396.0 453.5 396.0 453.0 396.0 452.5 396.1 452.0 396.1 451.5 396.1 451.0 396.1 450.5 396.1 450.0 396.1 449.5 396.1 449.0 396.1 448.5 396.0 448.0 396.0 447.5 396.0 447.0 396.0 446.5 395.9 446.0 395.9 445.5 395.9 445.0 395.8 444.5 395.8 444.0 395.7 443.5 395.7 443.0 395.6 442.5 395.6 442.0 395.6 441.5 395.5 441.0 395.4 440.5 395.4 440.0 395.3 439.5 395.2 439.0 395.2 438.5 395.1 438.0 395.0 437.5 394.9 437.0 394.8 436.5 394.8 436.0 394.7 435.5 394.6 435.0 394.5 434.5 394.4 434.0 394.4 433.5 394.3 433.0 394.2 432.5 394.1 432.0 394.0 431.5 393.9 431.0 393.8 430.5 393.7 430.0 393.7 429.5 393.6 429.0 393.6 428.5 393.5 428.0 393.5 427.5 393.1 427.0 393.1 426.5 393.1 426.0 393.1 425.5 393.1 425.0 393.1 424.5 393.1 424.0 393.1 423.5 393.1 423.0 393.1 422.5 393.1 422.0 393.1 421.5 393.1 421.0 393.1 420.5 393.1 420.0 393.1 419.5 393.1 419.0Z" fill="#c77cff" stroke="#6a6a6a" stroke-width="0.60" stroke-linejoin="round"/>
<path d="M411.8 405.8 411.8 406.3 411.8 406.8 411.8 407.3 411.4 407.8 411.3 408.3 411.2 408.8 411.1 409.3 411.0 409.8 411.0 410.3 410.9 410.8 410.8 411.3 410.7 411.8 410.7 412.3 410.6 412.8 410.5 413.3 410.5 413.8 410.4 414.3 410.3 414.8 410.3 415.3 410.2 415.8 410.2 416.3 410.1 416.8 410.1 417.3 410.0 417.8 409.9 418.3 409.9 418.8 409.8 419.3 409.8 419.8 409.7 420.3 409.7 420.8 409.7 421.3 409.6 421.8 409.6 422.3 409.5 422.8 409.5 423.3 409.5 423.8 409.5 424.3 409.4 424.8 409.4 425.3 409.4 425.8 409.3 426.3 409.3 426.8 409.3 427.3 409.3 427.8 409.3 428.3 409.2 428.8 409.2 429.3 409.2 429.8 409.2 430.3 409.2 430.8 409.2 431.3 409.2 431.8 409.2 432.3 409.1 432.8 409.1 433.3 409.1 433.8 409.1 434.3 409.1 434.8 409.1 435.3 409.1 435.8 409.1 436.3 409.1 436.8 409.1 437.3 409.1 437.8 409.1 438.3 409.1 438.8 409.2 439.3 409.2 439.8 409.3 440.3 409.3 440.8 409.3 441.3 409.4 441.8 409.4 442.3 409.5 442.8 409.5 443.3 409.6 443.8 409.6 444.3 409.7 444.8 409.7 445.3 409.8 445.8 409.9 446.3 410.0 446.8 410.0 447.3 410.1 447.8 410.2 448.3 410.3 448.8 410.3 449.3 410.4 449.8 410.4 450.3 410.5 450.8 410.5 451.3 410.6 451.8 410.6 452.3 410.7 452.8 410.7 453.3 410.7 453.8 410.8 454.3 410.8 454.8 410.8 455.3 410.8 455.8 410.9 456.3 410.9 456.8 410.9 457.3 410.9 457.8 411.0 458.3 411.0 458.8 411.0 459.3 411.0 459.8 411.0 460.3 411.0 460.8 411.0 461.3 411.0 461.8 411.0 462.3 411.0 462.8 410.9 463.3 410.9 463.8 410.9 464.3 410.9 464.8 410.9 465.3 410.8 465.8 410.8 466.3 410.8 466.8 410.7 467.3 410.7 467.8 410.7 468.3 410.6 468.8 410.5 469.3 410.4 469.8 410.3 470.3 410.3 470.8 410.3 471.3 410.3 471.8 410.3 472.3 410.3 472.8 410.3 472.9 413.3 472.9 413.3 472.8 413.3 472.3 413.3 471.8 413.3 471.3 413.3 470.8 413.3 470.3 413.2 469.8 413.1 469.3 413.0 468.8 412.9 468.3 412.9 467.8 412.9 467.3 412.8 466.8 412.8 466.3 412.8 465.8 412.7 465.3 412.7 464.8 412.7 464.3 412.7 463.8 412.7 463.3 412.6 462.8 412.6 462.3 412.6 461.8 412.6 461.3 412.6 460.8 412.6 460.3 412.6 459.8 412.6 459.3 412.6 458.8 412.6 458.3 412.7 457.8 412.7 457.3 412.7 456.8 412.7 456.3 412.8 455.8 412.8 455.3 412.8 454.8 412.8 454.3 412.9 453.8 412.9 453.3 412.9 452.8 413.0 452.3 413.0 451.8 413.1 451.3 413.1 450.8 413.2 450.3 413.2 449.8 413.3 449.3 413.3 448.8 413.4 448.3 413.5 447.8 413.6 447.3 413.6 446.8 413.7 446.3 413.8 445.8 413.9 445.3 413.9 444.8 414.0 444.3 414.0 443.8 414.1 443.3 414.1 442.8 414.2 442.3 414.2 441.8 414.3 441.3 414.3 440.8 414.3 440.3 414.4 439.8 414.4 439.3 414.5 438.8 414.5 438.3 414.5 437.8 414.5 437.3 414.5 436.8 414.5 436.3 414.5 435.8 414.5 435.3 414.5 434.8 414.5 434.3 414.5 433.8 414.5 433.3 414.5 432.8 414.4 432.3 414.4 431.8 414.4 431.3 414.4 430.8 414.4 430.3 414.4 429.8 414.4 429.3 414.4 428.8 414.3 428.3 414.3 427.8 414.3 427.3 414.3 426.8 414.3 426.3 414.2 425.8 414.2 425.3 414.2 424.8 414.1 424.3 414.1 423.8 414.1 423.3 414.1 422.8 414.0 422.3 414.0 421.8 413.9 421.3 413.9 420.8 413.9 420.3 413.8 419.8 413.8 419.3 413.7 418.8 413.7 418.3 413.6 417.8 413.5 417.3 413.5 416.8 413.4 416.3 413.4 415.8 413.3 415.3 413.3 414.8 413.2 414.3 413.1 413.8 413.1 413.3 413.0 412.8 412.9 412.3 412.9 411.8 412.8 411.3 412.7 410.8 412.6 410.3 412.6 409.8 412.5 409.3 412.4 408.8 412.3 408.3 412.2 407.8 411.8 407.3 411.8 406.8 411.8 406.3 411.8 405.8Z" fill="#ff8c00" stroke="#6a6a6a" stroke-width="0.60" stroke-linejoin="round"/>
<path d="M430.8 403.4 430.8 403.9 430.8 404.4 430.8 404.9 430.8 405.4 430.8 405.9 430.8 406.4 430.8 406.9 430.8 407.4 430.8 407.9 430.8 408.4 430.8 408.9 430.8 409.4 430.8 409.9 430.8 410.4 430.8 410.9 430.8 411.4 430.8 411.9 430.8 412.4 430.8 412.9 430.8 413.4 430.8 413.9 430.8 414.4 430.8 414.9 430.8 415.4 430.8 415.9 430.8 416.4 430.8 416.9 430.8 417.4 430.8 417.9 430.8 418.4 430.8 418.9 430.8 419.4 430.8 419.9 430.8 420.4 430.8 420.9 430.8 421.4 430.8 421.9 430.8 422.4 430.8 422.9 430.8 423.4 430.8 423.9 430.8 424.4 430.8 424.9 430.8 425.4 430.8 425.9 430.8 426.4 430.8 426.9 430.8 427.4 430.8 427.9 430.8 428.4 430.8 428.9 430.8 429.4 430.8 429.9 430.8 430.4 430.8 430.9 430.8 431.4 430.8 431.9 430.8 432.4 430.5 432.9 430.4 433.4 430.4 433.9 430.4 434.4 430.4 434.9 430.4 435.4 430.3 435.9 430.2 436.4 430.1 436.9 430.0 437.4 429.9 437.9 429.8 438.4 429.7 438.9 429.6 439.4 429.5 439.9 429.5 440.4 429.4 440.9 429.3 441.4 429.3 441.9 429.2 442.4 429.2 442.9 429.1 443.4 429.1 443.9 429.0 444.4 429.0 444.9 429.0 445.4 429.0 445.9 428.9 446.4 428.9 446.9 428.9 447.4 428.9 447.9 428.9 448.4 428.8 448.9 428.8 449.4 428.8 449.9 428.8 450.4 428.8 450.9 428.8 451.4 428.8 451.9 428.8 452.4 428.8 452.9 428.8 453.4 428.8 453.9 428.8 454.4 428.8 454.9 428.8 455.4 428.8 455.9 428.8 456.4 428.8 456.9 428.8 457.4 428.8 457.9 428.8 458.4 428.8 458.9 428.8 459.4 428.8 459.9 428.8 460.4 428.8 460.9 428.8 461.4 428.8 461.9 428.7 462.4 428.7 462.9 428.7 463.4 428.7 463.9 428.6 464.4 428.6 464.9 428.5 465.4 428.5 465.9 428.5 466.4 428.4 466.9 428.3 467.4 428.3 467.9 428.2 468.4 428.1 468.9 428.0 469.4 428.0 469.9 428.0 470.4 428.0 470.9 427.9 471.4 427.9 471.9 427.9 472.4 427.9 472.9 433.7 472.9 433.7 472.4 433.7 471.9 433.7 471.4 433.6 470.9 433.6 470.4 433.6 469.9 433.6 469.4 433.5 468.9 433.4 468.4 433.3 467.9 433.3 467.4 433.2 466.9 433.1 466.4 433.1 465.9 433.1 465.4 433.0 464.9 433.0 464.4 432.9 463.9 432.9 463.4 432.9 462.9 432.9 462.4 432.8 461.9 432.8 461.4 432.8 460.9 432.8 460.4 432.8 459.9 432.8 459.4 432.8 458.9 432.8 458.4 432.8 457.9 432.8 457.4 432.8 456.9 432.8 456.4 432.8 455.9 432.8 455.4 432.8 454.9 432.8 454.4 432.8 453.9 432.8 453.4 432.8 452.9 432.8 452.4 432.8 451.9 432.8 451.4 432.8 450.9 432.8 450.4 432.8 449.9 432.8 449.4 432.8 448.9 432.7 448.4 432.7 447.9 432.7 447.4 432.7 446.9 432.7 446.4 432.6 445.9 432.6 445.4 432.6 444.9 432.6 444.4 432.5 443.9 432.5 443.4 432.4 442.9 432.4 442.4 432.3 441.9 432.3 441.4 432.2 440.9 432.1 440.4 432.1 439.9 432.0 439.4 431.9 438.9 431.8 438.4 431.7 437.9 431.6 437.4 431.5 436.9 431.4 436.4 431.3 435.9 431.2 435.4 431.2 434.9 431.2 434.4 431.2 433.9 431.2 433.4 431.1 432.9 430.8 432.4 430.8 431.9 430.8 431.4 430.8 430.9 430.8 430.4 430.8 429.9 430.8 429.4 430.8 428.9 430.8 428.4 430.8 427.9 430.8 427.4 430.8 426.9 430.8 426.4 430.8 425.9 430.8 425.4 430.8 424.9 430.8 424.4 430.8 423.9 430.8 423.4 430.8 422.9 430.8 422.4 430.8 421.9 430.8 421.4 430.8 420.9 430.8 420.4 430.8 419.9 430.8 419.4 430.8 418.9 430.8 418.4 430.8 417.9 430.8 417.4 430.8 416.9 430.8 416.4 430.8 415.9 430.8 415.4 430.8 414.9 430.8 414.4 430.8 413.9 430.8 413.4 430.8 412.9 430.8 412.4 430.8 411.9 430.8 411.4 430.8 410.9 430.8 410.4 430.8 409.9 430.8 409.4 430.8 408.9 430.8 408.4 430.8 407.9 430.8 407.4 430.8 406.9 430.8 406.4 430.8 405.9 430.8 405.4 430.8 404.9 430.8 404.4 430.8 403.9 430.8 403.4Z" fill="#c77cff" stroke="#6a6a6a" stroke-width="0.60" stroke-linejoin="round"/>
<path d="M449.3 403.4 449.3 403.9 449.3 404.4 449.3 404.9 449.3 405.4 449.3 405.9 449.3 406.4 449.3 406.9 449.3 407.4 449.3 407.9 449.3 408.4 449.3 408.9 449.3 409.4 449.3 409.9 449.3 410.4 449.3 410.9 449.3 411.4 449.3 411.9 449.3 412.4 449.3 412.9 449.3 413.4 449.3 413.9 449.3 414.4 449.3 414.9 449.3 415.4 449.3 415.9 449.3 416.4 449.3 416.9 449.3 417.4 449.3 417.9 449.3 418.4 449.3 418.9 449.3 419.4 449.3 419.9 449.3 420.4 449.3 420.9 449.3 421.4 449.3 421.9 449.3 422.4 449.3 422.9 449.3 423.4 449.3 423.9 449.3 424.4 449.3 424.9 449.3 425.4 449.3 425.9 449.3 426.4 449.3 426.9 449.3 427.4 449.3 427.9 449.3 428.4 449.3 428.9 449.3 429.4 449.3 429.9 449.3 430.4 449.3 430.9 449.3 431.4 449.3 431.9 449.3 432.4 449.3 432.9 449.3 433.4 449.3 433.9 449.3 434.4 449.3 434.9 449.3 435.4 449.3 435.9 449.3 436.4 449.3 436.9 449.3 437.4 449.3 437.9 449.3 438.4 449.3 438.9 449.3 439.4 449.3 439.9 449.3 440.4 449.3 440.9 449.3 441.4 449.3 441.9 449.3 442.4 449.3 442.9 449.3 443.4 449.3 443.9 449.3 444.4 449.3 444.9 449.3 445.4 449.3 445.9 449.3 446.4 449.3 446.9 449.3 447.4 449.3 447.9 449.3 448.4 449.3 448.9 449.3 449.4 449.3 449.9 449.3 450.4 449.3 450.9 449.3 451.4 449.3 451.9 449.3 452.4 449.3 452.9 449.3 453.4 449.3 453.9 449.3 454.4 449.3 454.9 449.3 455.4 449.3 455.9 449.3 456.4 449.3 456.9 449.3 457.4 449.3 457.9 449.3 458.4 449.3 458.9 449.3 459.4 449.3 459.9 449.3 460.4 449.3 460.9 449.3 461.4 449.3 461.9 449.3 462.4 449.3 462.9 449.3 463.4 449.3 463.9 449.3 464.4 449.3 464.9 449.3 465.4 449.3 465.9 449.3 466.4 449.3 466.9 449.3 467.4 449.3 467.9 449.3 468.4 449.3 468.9 449.3 469.4 449.3 469.9 449.3 470.4 448.8 470.9 448.4 471.4 447.9 471.9 447.4 472.4 446.9 472.9 451.7 472.9 451.2 472.4 450.7 471.9 450.2 471.4 449.8 470.9 449.3 470.4 449.3 469.9 449.3 469.4 449.3 468.9 449.3 468.4 449.3 467.9 449.3 467.4 449.3 466.9 449.3 466.4 449.3 465.9 449.3 465.4 449.3 464.9 449.3 464.4 449.3 463.9 449.3 463.4 449.3 462.9 449.3 462.4 449.3 461.9 449.3 461.4 449.3 460.9 449.3 460.4 449.3 459.9 449.3 459.4 449.3 458.9 449.3 458.4 449.3 457.9 449.3 457.4 449.3 456.9 449.3 456.4 449.3 455.9 449.3 455.4 449.3 454.9 449.3 454.4 449.3 453.9 449.3 453.4 449.3 452.9 449.3 452.4 449.3 451.9 449.3 451.4 449.3 450.9 449.3 450.4 449.3 449.9 449.3 449.4 449.3 448.9 449.3 448.4 449.3 447.9 449.3 447.4 449.3 446.9 449.3 446.4 449.3 445.9 449.3 445.4 449.3 444.9 449.3 444.4 449.3 443.9 449.3 443.4 449.3 442.9 449.3 442.4 449.3 441.9 449.3 441.4 449.3 440.9 449.3 440.4 449.3 439.9 449.3 439.4 449.3 438.9 449.3 438.4 449.3 437.9 449.3 437.4 449.3 436.9 449.3 436.4 449.3 435.9 449.3 435.4 449.3 434.9 449.3 434.4 449.3 433.9 449.3 433.4 449.3 432.9 449.3 432.4 449.3 431.9 449.3 431.4 449.3 430.9 449.3 430.4 449.3 429.9 449.3 429.4 449.3 428.9 449.3 428.4 449.3 427.9 449.3 427.4 449.3 426.9 449.3 426.4 449.3 425.9 449.3 425.4 449.3 424.9 449.3 424.4 449.3 423.9 449.3 423.4 449.3 422.9 449.3 422.4 449.3 421.9 449.3 421.4 449.3 420.9 449.3 420.4 449.3 419.9 449.3 419.4 449.3 418.9 449.3 418.4 449.3 417.9 449.3 417.4 449.3 416.9 449.3 416.4 449.3 415.9 449.3 415.4 449.3 414.9 449.3 414.4 449.3 413.9 449.3 413.4 449.3 412.9 449.3 412.4 449.3 411.9 449.3 411.4 449.3 410.9 449.3 410.4 449.3 409.9 449.3 409.4 449.3 408.9 449.3 408.4 449.3 407.9 449.3 407.4 449.3 406.9 449.3 406.4 449.3 405.9 449.3 405.4 449.3 404.9 449.3 404.4 449.3 403.9 449.3 403.4Z" fill="#ff8c00" stroke="#6a6a6a" stroke-width="0.60" stroke-linejoin="round"/>
<path d="M455.6 418.6 455.6 419.1 455.6 419.6 455.6 420.1 455.6 420.6 455.6 421.1 455.6 421.6 455.6 422.1 455.6 422.6 455.6 423.1 455.6 423.6 455.6 424.1 455.6 424.6 455.6 425.1 455.6 425.6 455.6 426.1 455.6 426.6 455.6 427.1 455.6 427.6 455.6 428.1 455.6 428.6 455.6 429.1 455.6 429.6 455.6 430.1 455.6 430.6 455.6 431.1 455.6 431.6 455.6 432.1 455.6 432.6 455.6 433.1 455.6 433.6 455.6 434.1 455.6 434.6 455.6 435.1 455.3 435.6 455.2 436.1 455.2 436.6 455.2 437.1 455.2 437.6 455.1 438.1 455.0 438.6 454.9 439.1 454.8 439.6 454.7 440.1 454.6 440.6 454.5 441.1 454.4 441.6 454.3 442.1 454.3 442.6 454.2 443.1 454.1 443.6 454.1 444.1 454.0 444.6 453.9 445.1 453.9 445.6 453.8 446.1 453.7 446.6 453.7 447.1 453.6 447.6 453.6 448.1 453.5 448.6 453.4 449.1 453.4 449.6 453.4 450.1 453.3 450.6 453.3 451.1 453.3 451.6 453.2 452.1 453.2 452.6 453.1 453.1 453.1 453.6 453.1 454.1 453.1 454.6 453.0 455.1 453.0 455.6 453.0 456.1 453.0 456.6 452.9 457.1 452.9 457.6 452.9 458.1 452.9 458.6 452.9 459.1 452.9 459.6 453.0 460.1 453.0 460.6 453.1 461.1 453.2 461.6 453.2 462.1 453.3 462.6 453.4 463.1 453.5 463.6 453.7 464.1 453.8 464.6 454.0 465.1 454.2 465.6 454.3 466.1 454.4 466.6 454.4 467.1 454.4 467.6 454.2 468.1 454.1 468.6 453.9 469.1 453.7 469.6 453.6 470.1 453.4 470.6 453.3 471.1 453.2 471.6 453.0 472.1 452.9 472.6 452.8 472.9 458.4 472.9 458.3 472.6 458.2 472.1 458.0 471.6 457.9 471.1 457.8 470.6 457.6 470.1 457.5 469.6 457.3 469.1 457.1 468.6 457.0 468.1 456.8 467.6 456.8 467.1 456.8 466.6 456.9 466.1 457.0 465.6 457.2 465.1 457.4 464.6 457.5 464.1 457.7 463.6 457.8 463.1 457.9 462.6 458.0 462.1 458.0 461.6 458.1 461.1 458.2 460.6 458.2 460.1 458.3 459.6 458.3 459.1 458.3 458.6 458.3 458.1 458.3 457.6 458.3 457.1 458.2 456.6 458.2 456.1 458.2 455.6 458.2 455.1 458.1 454.6 458.1 454.1 458.1 453.6 458.1 453.1 458.0 452.6 458.0 452.1 457.9 451.6 457.9 451.1 457.9 450.6 457.8 450.1 457.8 449.6 457.8 449.1 457.7 448.6 457.6 448.1 457.6 447.6 457.5 447.1 457.5 446.6 457.4 446.1 457.3 445.6 457.3 445.1 457.2 444.6 457.1 444.1 457.1 443.6 457.0 443.1 456.9 442.6 456.9 442.1 456.8 441.6 456.7 441.1 456.6 440.6 456.5 440.1 456.4 439.6 456.3 439.1 456.2 438.6 456.1 438.1 456.0 437.6 456.0 437.1 456.0 436.6 456.0 436.1 455.9 435.6 455.6 435.1 455.6 434.6 455.6 434.1 455.6 433.6 455.6 433.1 455.6 432.6 455.6 432.1 455.6 431.6 455.6 431.1 455.6 430.6 455.6 430.1 455.6 429.6 455.6 429.1 455.6 428.6 455.6 428.1 455.6 427.6 455.6 427.1 455.6 426.6 455.6 426.1 455.6 425.6 455.6 425.1 455.6 424.6 455.6 424.1 455.6 423.6 455.6 423.1 455.6 422.6 455.6 422.1 455.6 421.6 455.6 421.1 455.6 420.6 455.6 420.1 455.6 419.6 455.6 419.1 455.6 418.6Z" fill="#7cae00" stroke="#6a6a6a" stroke-width="0.60" stroke-linejoin="round"/>
<path d="M461.9 422.0 461.9 422.5 461.9 423.0 461.9 423.5 461.9 424.0 461.9 424.5 461.9 425.0 461.9 425.5 461.9 426.0 461.9 426.5 461.9 427.0 461.5 427.5 461.5 428.0 461.4 428.5 461.4 429.0 461.3 429.5 461.2 430.0 461.1 430.5 461.0 431.0 460.9 431.5 460.8 432.0 460.7 432.5 460.6 433.0 460.5 433.5 460.4 434.0 460.4 434.5 460.3 435.0 460.2 435.5 460.2 436.0 460.1 436.5 460.1 437.0 460.0 437.5 460.0 438.0 459.9 438.5 459.9 439.0 459.8 439.5 459.8 440.0 459.7 440.5 459.7 441.0 459.6 441.5 459.6 442.0 459.5 442.5 459.5 443.0 459.5 443.5 459.5 444.0 459.4 444.5 459.4 445.0 459.4 445.5 459.4 446.0 459.3 446.5 459.3 447.0 459.3 447.5 459.3 448.0 459.3 448.5 459.3 449.0 459.2 449.5 459.2 450.0 459.2 450.5 459.2 451.0 459.2 451.5 459.2 452.0 459.2 452.5 459.1 453.0 459.1 453.5 459.1 454.0 459.1 454.5 459.1 455.0 459.1 455.5 459.1 456.0 459.1 456.5 459.1 457.0 459.1 457.5 459.2 458.0 459.2 458.5 459.3 459.0 459.4 459.5 459.5 460.0 459.5 460.5 459.6 461.0 459.7 461.5 459.8 462.0 459.9 462.5 460.0 463.0 460.1 463.5 460.2 464.0 460.3 464.5 460.3 465.0 460.4 465.5 460.4 466.0 460.3 466.5 460.2 467.0 460.1 467.5 460.0 468.0 459.8 468.5 459.7 469.0 459.6 469.5 459.5 470.0 459.4 470.5 459.4 471.0 459.3 471.5 459.2 472.0 459.1 472.5 459.1 472.9 464.7 472.9 464.7 472.5 464.6 472.0 464.5 471.5 464.4 471.0 464.4 470.5 464.3 470.0 464.2 469.5 464.1 469.0 464.0 468.5 463.8 468.0 463.7 467.5 463.6 467.0 463.5 466.5 463.4 466.0 463.4 465.5 463.5 465.0 463.5 464.5 463.6 464.0 463.7 463.5 463.8 463.0 463.9 462.5 464.0 462.0 464.1 461.5 464.2 461.0 464.3 460.5 464.3 460.0 464.4 459.5 464.5 459.0 464.6 458.5 464.6 458.0 464.7 457.5 464.7 457.0 464.7 456.5 464.7 456.0 464.7 455.5 464.7 455.0 464.7 454.5 464.7 454.0 464.7 453.5 464.7 453.0 464.6 452.5 464.6 452.0 464.6 451.5 464.6 451.0 464.6 450.5 464.6 450.0 464.6 449.5 464.5 449.0 464.5 448.5 464.5 448.0 464.5 447.5 464.5 447.0 464.5 446.5 464.4 446.0 464.4 445.5 464.4 445.0 464.4 444.5 464.3 444.0 464.3 443.5 464.3 443.0 464.3 442.5 464.2 442.0 464.2 441.5 464.1 441.0 464.1 440.5 464.0 440.0 464.0 439.5 463.9 439.0 463.9 438.5 463.8 438.0 463.8 437.5 463.7 437.0 463.7 436.5 463.6 436.0 463.6 435.5 463.5 435.0 463.4 434.5 463.4 434.0 463.3 433.5 463.2 433.0 463.1 432.5 463.0 432.0 462.9 431.5 462.8 431.0 462.7 430.5 462.6 430.0 462.5 429.5 462.4 429.0 462.4 428.5 462.3 428.0 462.3 427.5 461.9 427.0 461.9 426.5 461.9 426.0 461.9 425.5 461.9 425.0 461.9 424.5 461.9 424.0 461.9 423.5 461.9 423.0 461.9 422.5 461.9 422.0Z" fill="#00bfc4" stroke="#6a6a6a" stroke-width="0.60" stroke-linejoin="round"/>
<path d="M487.1 403.4 485.6 403.9 485.4 404.4 485.2 404.9 485.1 405.4 485.0 405.9 484.9 406.4 484.9 406.9 484.8 407.4 484.8 407.9 484.7 408.4 484.7 408.9 484.6 409.4 484.6 409.9 484.6 410.4 484.5 410.9 484.5 411.4 484.5 411.9 484.5 412.4 484.4 412.9 484.4 413.4 484.4 413.9 484.4 414.4 484.4 414.9 484.4 415.4 484.4 415.9 484.4 416.4 484.4 416.9 484.4 417.4 484.4 417.9 484.4 418.4 484.4 418.9 484.4 419.4 484.4 419.9 484.4 420.4 484.4 420.9 484.4 421.4 484.4 421.9 484.4 422.4 484.4 422.9 484.4 423.4 484.4 423.9 484.5 424.4 484.5 424.9 484.5 425.4 484.5 425.9 484.6 426.4 484.6 426.9 484.6 427.4 484.7 427.9 484.7 428.4 484.7 428.9 484.8 429.4 484.8 429.9 484.8 430.4 484.8 430.9 484.9 431.4 484.9 431.9 484.9 432.4 484.9 432.9 485.0 433.4 485.0 433.9 485.0 434.4 485.1 434.9 485.1 435.4 485.1 435.9 485.1 436.4 485.2 436.9 485.2 437.4 485.2 437.9 485.2 438.4 485.3 438.9 485.3 439.4 485.3 439.9 485.4 440.4 485.4 440.9 485.4 441.4 485.5 441.9 485.5 442.4 485.5 442.9 485.6 443.4 485.6 443.9 485.7 444.4 485.7 444.9 485.7 445.4 485.8 445.9 485.8 446.4 485.8 446.9 485.9 447.4 485.9 447.9 485.9 448.4 485.9 448.9 486.0 449.4 486.0 449.9 486.0 450.4 486.0 450.9 486.0 451.4 486.0 451.9 486.1 452.4 486.1 452.9 486.1 453.4 486.1 453.9 486.1 454.4 486.2 454.9 486.2 455.4 486.2 455.9 486.3 456.4 486.3 456.9 486.4 457.4 486.6 457.9 487.1 458.4 487.1 458.9 487.1 459.0 487.1 459.0 487.1 458.9 487.1 458.4 487.6 457.9 487.8 457.4 487.9 456.9 487.9 456.4 488.0 455.9 488.0 455.4 488.0 454.9 488.1 454.4 488.1 453.9 488.1 453.4 488.1 452.9 488.1 452.4 488.2 451.9 488.2 451.4 488.2 450.9 488.2 450.4 488.2 449.9 488.2 449.4 488.3 448.9 488.3 448.4 488.3 447.9 488.3 447.4 488.4 446.9 488.4 446.4 488.4 445.9 488.5 445.4 488.5 444.9 488.5 444.4 488.6 443.9 488.6 443.4 488.7 442.9 488.7 442.4 488.7 441.9 488.8 441.4 488.8 440.9 488.8 440.4 488.9 439.9 488.9 439.4 488.9 438.9 489.0 438.4 489.0 437.9 489.0 437.4 489.0 436.9 489.1 436.4 489.1 435.9 489.1 435.4 489.1 434.9 489.2 434.4 489.2 433.9 489.2 433.4 489.3 432.9 489.3 432.4 489.3 431.9 489.3 431.4 489.4 430.9 489.4 430.4 489.4 429.9 489.4 429.4 489.5 428.9 489.5 428.4 489.5 427.9 489.6 427.4 489.6 426.9 489.6 426.4 489.7 425.9 489.7 425.4 489.7 424.9 489.7 424.4 489.8 423.9 489.8 423.4 489.8 422.9 489.8 422.4 489.8 421.9 489.8 421.4 489.8 420.9 489.8 420.4 489.8 419.9 489.8 419.4 489.8 418.9 489.8 418.4 489.8 417.9 489.8 417.4 489.8 416.9 489.8 416.4 489.8 415.9 489.8 415.4 489.8 414.9 489.8 414.4 489.8 413.9 489.8 413.4 489.8 412.9 489.7 412.4 489.7 411.9 489.7 411.4 489.7 410.9 489.6 410.4 489.6 409.9 489.6 409.4 489.5 408.9 489.5 408.4 489.4 407.9 489.4 407.4 489.3 406.9 489.3 406.4 489.2 405.9 489.1 405.4 489.0 404.9 488.8 404.4 488.6 403.9 487.1 403.4Z" fill="#ff8c00" stroke="#6a6a6a" stroke-width="0.60" stroke-linejoin="round"/>
<path d="M493.0 439.3 493.0 439.8 493.0 440.3 493.0 440.8 493.0 441.3 493.0 441.8 493.0 442.3 493.0 442.8 493.0 443.3 492.6 443.8 492.6 444.3 492.5 444.8 492.3 445.3 492.2 445.8 492.0 446.3 491.9 446.8 491.7 447.3 491.5 447.8 491.4 448.3 491.2 448.8 491.1 449.3 491.0 449.8 490.9 450.3 490.8 450.8 490.7 451.3 490.6 451.8 490.5 452.3 490.4 452.8 490.3 453.3 490.2 453.8 490.2 454.3 490.1 454.8 490.1 455.3 490.1 455.8 490.1 456.3 490.2 456.8 490.2 457.3 490.2 457.8 490.3 458.3 490.4 458.8 490.4 459.3 490.5 459.8 490.6 460.3 490.7 460.8 490.7 461.3 490.8 461.8 490.9 462.3 491.1 462.8 491.2 463.3 491.3 463.8 491.4 464.3 491.6 464.8 491.7 465.3 491.8 465.8 491.9 466.3 492.0 466.8 492.0 467.3 492.1 467.8 492.2 468.3 492.3 468.8 492.3 469.3 492.3 469.8 492.3 470.3 492.3 470.8 492.2 471.3 492.2 471.8 492.1 472.3 492.0 472.8 492.0 472.9 494.0 472.9 494.0 472.8 493.9 472.3 493.8 471.8 493.8 471.3 493.7 470.8 493.7 470.3 493.7 469.8 493.7 469.3 493.7 468.8 493.8 468.3 493.9 467.8 494.0 467.3 494.0 466.8 494.1 466.3 494.2 465.8 494.3 465.3 494.4 464.8 494.6 464.3 494.7 463.8 494.8 463.3 494.9 462.8 495.1 462.3 495.2 461.8 495.3 461.3 495.3 460.8 495.4 460.3 495.5 459.8 495.6 459.3 495.6 458.8 495.7 458.3 495.8 457.8 495.8 457.3 495.8 456.8 495.9 456.3 495.9 455.8 495.9 455.3 495.9 454.8 495.8 454.3 495.8 453.8 495.7 453.3 495.6 452.8 495.5 452.3 495.4 451.8 495.3 451.3 495.2 450.8 495.1 450.3 495.0 449.8 494.9 449.3 494.8 448.8 494.6 448.3 494.5 447.8 494.3 447.3 494.1 446.8 494.0 446.3 493.8 445.8 493.7 445.3 493.5 444.8 493.4 444.3 493.4 443.8 493.0 443.3 493.0 442.8 493.0 442.3 493.0 441.8 493.0 441.3 493.0 440.8 493.0 440.3 493.0 439.8 493.0 439.3Z" fill="#7cae00" stroke="#6a6a6a" stroke-width="0.60" stroke-linejoin="round"/>
<path d="M499.4 427.2 499.4 427.7 499.4 428.2 499.4 428.7 499.4 429.2 499.4 429.7 499.4 430.2 499.4 430.7 499.4 431.2 499.4 431.7 499.4 432.2 499.4 432.7 499.4 433.2 499.4 433.7 499.4 434.2 499.4 434.7 499.4 435.2 499.4 435.7 499.4 436.2 499.4 436.7 499.4 437.2 499.4 437.7 499.4 438.2 499.0 438.7 499.0 439.2 499.0 439.7 498.9 440.2 498.8 440.7 498.7 441.2 498.5 441.7 498.4 442.2 498.2 442.7 498.1 443.2 497.9 443.7 497.8 444.2 497.7 444.7 497.6 445.2 497.5 445.7 497.3 446.2 497.2 446.7 497.1 447.2 497.0 447.7 496.9 448.2 496.8 448.7 496.7 449.2 496.6 449.7 496.5 450.2 496.5 450.7 496.4 451.2 496.4 451.7 496.4 452.2 496.4 452.7 496.4 453.2 496.4 453.7 496.5 454.2 496.5 454.7 496.5 455.2 496.6 455.7 496.6 456.2 496.7 456.7 496.7 457.2 496.8 457.7 496.8 458.2 496.9 458.7 497.0 459.2 497.1 459.7 497.2 460.2 497.3 460.7 497.4 461.2 497.5 461.7 497.6 462.2 497.7 462.7 497.8 463.2 497.9 463.7 498.0 464.2 498.1 464.7 498.3 465.2 498.3 465.7 498.4 466.2 498.5 466.7 498.6 467.2 498.6 467.7 498.6 468.2 498.6 468.7 498.6 469.2 498.6 469.7 498.6 470.2 498.6 470.7 498.5 471.2 498.5 471.7 498.5 472.2 498.4 472.7 498.4 472.9 500.4 472.9 500.4 472.7 500.3 472.2 500.3 471.7 500.3 471.2 500.2 470.7 500.2 470.2 500.2 469.7 500.2 469.2 500.2 468.7 500.2 468.2 500.2 467.7 500.2 467.2 500.3 466.7 500.4 466.2 500.5 465.7 500.5 465.2 500.7 464.7 500.8 464.2 500.9 463.7 501.0 463.2 501.1 462.7 501.2 462.2 501.3 461.7 501.4 461.2 501.5 460.7 501.6 460.2 501.7 459.7 501.8 459.2 501.9 458.7 502.0 458.2 502.0 457.7 502.1 457.2 502.1 456.7 502.2 456.2 502.2 455.7 502.3 455.2 502.3 454.7 502.3 454.2 502.4 453.7 502.4 453.2 502.4 452.7 502.4 452.2 502.4 451.7 502.4 451.2 502.3 450.7 502.3 450.2 502.2 449.7 502.1 449.2 502.0 448.7 501.9 448.2 501.8 447.7 501.7 447.2 501.6 446.7 501.5 446.2 501.3 445.7 501.2 445.2 501.1 444.7 501.0 444.2 500.9 443.7 500.7 443.2 500.6 442.7 500.4 442.2 500.3 441.7 500.1 441.2 500.0 440.7 499.9 440.2 499.8 439.7 499.8 439.2 499.8 438.7 499.4 438.2 499.4 437.7 499.4 437.2 499.4 436.7 499.4 436.2 499.4 435.7 499.4 435.2 499.4 434.7 499.4 434.2 499.4 433.7 499.4 433.2 499.4 432.7 499.4 432.2 499.4 431.7 499.4 431.2 499.4 430.7 499.4 430.2 499.4 429.7 499.4 429.2 499.4 428.7 499.4 428.2 499.4 427.7 499.4 427.2Z" fill="#00bfc4" stroke="#6a6a6a" stroke-width="0.60" stroke-linejoin="round"/>
<path d="M505.7 421.4 505.7 421.9 505.7 422.4 505.7 422.9 505.7 423.4 505.7 423.9 505.7 424.4 505.7 424.9 505.7 425.4 505.7 425.9 505.7 426.4 505.7 426.9 505.7 427.4 505.7 427.9 505.7 428.4 505.7 428.9 505.7 429.4 505.7 429.9 505.7 430.4 505.7 430.9 505.7 431.4 505.7 431.9 505.7 432.4 505.3 432.9 505.3 433.4 505.3 433.9 505.2 434.4 505.2 434.9 505.1 435.4 505.0 435.9 504.9 436.4 504.9 436.9 504.8 437.4 504.7 437.9 504.6 438.4 504.5 438.9 504.3 439.4 504.3 439.9 504.2 440.4 504.1 440.9 504.0 441.4 503.9 441.9 503.8 442.4 503.8 442.9 503.7 443.4 503.6 443.9 503.6 444.4 503.5 444.9 503.4 445.4 503.4 445.9 503.3 446.4 503.2 446.9 503.2 447.4 503.1 447.9 503.0 448.4 503.0 448.9 502.9 449.4 502.9 449.9 502.8 450.4 502.8 450.9 502.7 451.4 502.7 451.9 502.7 452.4 502.6 452.9 502.6 453.4 502.6 453.9 502.6 454.4 502.6 454.9 502.6 455.4 502.6 455.9 502.7 456.4 502.7 456.9 502.8 457.4 502.8 457.9 502.9 458.4 502.9 458.9 503.0 459.4 503.1 459.9 503.1 460.4 503.2 460.9 503.3 461.4 503.4 461.9 503.5 462.4 503.6 462.9 503.7 463.4 503.8 463.9 503.9 464.4 504.0 464.9 504.1 465.4 504.1 465.9 504.2 466.4 504.3 466.9 504.4 467.4 504.4 467.9 504.5 468.4 504.5 468.9 504.5 469.4 504.5 469.9 504.5 470.4 504.5 470.9 504.5 471.4 504.5 471.9 504.4 472.4 504.4 472.9 507.0 472.9 507.0 472.4 506.9 471.9 506.9 471.4 506.9 470.9 506.9 470.4 506.9 469.9 506.9 469.4 506.9 468.9 506.9 468.4 507.0 467.9 507.0 467.4 507.1 466.9 507.2 466.4 507.3 465.9 507.3 465.4 507.4 464.9 507.5 464.4 507.6 463.9 507.7 463.4 507.8 462.9 507.9 462.4 508.0 461.9 508.1 461.4 508.2 460.9 508.3 460.4 508.3 459.9 508.4 459.4 508.5 458.9 508.5 458.4 508.6 457.9 508.6 457.4 508.7 456.9 508.7 456.4 508.8 455.9 508.8 455.4 508.8 454.9 508.8 454.4 508.8 453.9 508.8 453.4 508.8 452.9 508.7 452.4 508.7 451.9 508.7 451.4 508.6 450.9 508.6 450.4 508.5 449.9 508.5 449.4 508.4 448.9 508.4 448.4 508.3 447.9 508.2 447.4 508.2 446.9 508.1 446.4 508.0 445.9 508.0 445.4 507.9 444.9 507.8 444.4 507.8 443.9 507.7 443.4 507.6 442.9 507.6 442.4 507.5 441.9 507.4 441.4 507.3 440.9 507.2 440.4 507.1 439.9 507.1 439.4 506.9 438.9 506.8 438.4 506.7 437.9 506.6 437.4 506.5 436.9 506.5 436.4 506.4 435.9 506.3 435.4 506.2 434.9 506.2 434.4 506.1 433.9 506.1 433.4 506.1 432.9 505.7 432.4 505.7 431.9 505.7 431.4 505.7 430.9 505.7 430.4 505.7 429.9 505.7 429.4 505.7 428.9 505.7 428.4 505.7 427.9 505.7 427.4 505.7 426.9 505.7 426.4 505.7 425.9 505.7 425.4 505.7 424.9 505.7 424.4 505.7 423.9 505.7 423.4 505.7 422.9 505.7 422.4 505.7 421.9 505.7 421.4Z" fill="#c77cff" stroke="#6a6a6a" stroke-width="0.60" stroke-linejoin="round"/>
<path d="M343.10,459.60 V472.90 M340.40,472.50 H345.80" stroke="#9a9a9a" stroke-width="0.80" fill="none"/>
<path d="M349.40,426.60 V472.90 M346.70,472.50 H352.10" stroke="#9a9a9a" stroke-width="0.80" fill="none"/>
<path d="M418.10,467.70 V472.90 M415.40,472.50 H420.80" stroke="#9a9a9a" stroke-width="0.80" fill="none"/>
<path d="M424.60,453.20 V472.90 M421.90,472.50 H427.30" stroke="#9a9a9a" stroke-width="0.80" fill="none"/>
<path d="M468.40,414.10 V472.90 M465.70,472.50 H471.10" stroke="#9a9a9a" stroke-width="0.80" fill="none"/>
<path d="M418.5,299.5 H425.5 M422.5,299.5 V290.5 H432.5 V292.5" fill="none" stroke="#000" stroke-width="1.45" stroke-linejoin="round"/>
<polygon points="427.40,283.30 427.99,284.59 429.40,284.75 428.35,285.71 428.63,287.10 427.40,286.40 426.17,287.10 426.45,285.71 425.40,284.75 426.81,284.59" fill="#000"/>
<circle cx="427.40" cy="285.40" r="1.15" fill="#000"/>
<path d="M306.5,412.5 H313.5 M309.5,412.5 V407.5 H318.5 V420.5" fill="none" stroke="#000" stroke-width="1.45" stroke-linejoin="round"/>
<polygon points="314.10,400.90 314.69,402.19 316.10,402.35 315.05,403.31 315.33,404.70 314.10,404.00 312.87,404.70 313.15,403.31 312.10,402.35 313.51,402.19" fill="#000"/>
<circle cx="314.10" cy="403.00" r="1.15" fill="#000"/>
<path d="M343.5,420.5 H350.5 M346.5,420.5 V414.5 H356.5 V417.5" fill="none" stroke="#000" stroke-width="1.45" stroke-linejoin="round"/>
<polygon points="351.30,407.90 351.89,409.19 353.30,409.35 352.25,410.31 352.53,411.70 351.30,411.00 350.07,411.70 350.35,410.31 349.30,409.35 350.71,409.19" fill="#000"/>
<circle cx="351.30" cy="410.00" r="1.15" fill="#000"/>
<path d="M380.5,397.5 H387.5 M383.5,397.5 V392.5 H393.5 V415.5" fill="none" stroke="#000" stroke-width="1.45" stroke-linejoin="round"/>
<polygon points="388.50,385.50 389.09,386.79 390.50,386.95 389.45,387.91 389.73,389.30 388.50,388.60 387.27,389.30 387.55,387.91 386.50,386.95 387.91,386.79" fill="#000"/>
<circle cx="388.50" cy="387.60" r="1.15" fill="#000"/>
<path d="M417.5,446.5 H425.5 M421.5,446.5 V398.5 H430.5 V401.5" fill="none" stroke="#000" stroke-width="1.45" stroke-linejoin="round"/>
<polygon points="426.10,391.50 426.69,392.79 428.10,392.95 427.05,393.91 427.33,395.30 426.10,394.60 424.87,395.30 425.15,393.91 424.10,392.95 425.51,392.79" fill="#000"/>
<circle cx="426.10" cy="393.60" r="1.15" fill="#000"/>
<path d="M455.5,413.5 H462.5 M458.5,413.5 V407.5 H468.5 V410.5" fill="none" stroke="#000" stroke-width="1.45" stroke-linejoin="round"/>
<polygon points="463.50,400.90 464.09,402.19 465.50,402.35 464.45,403.31 464.73,404.70 463.50,404.00 462.27,404.70 462.55,403.31 461.50,402.35 462.91,402.19" fill="#000"/>
<circle cx="463.50" cy="403.00" r="1.15" fill="#000"/>
<g fill="#000"><rect x="0" y="0" width="1.5" height="484"/><rect x="0" y="0" width="520" height="1.5"/><rect x="518.3" y="0" width="1.7" height="484"/><rect x="0" y="482.5" width="520" height="1.5"/></g>
</svg></body></html>
